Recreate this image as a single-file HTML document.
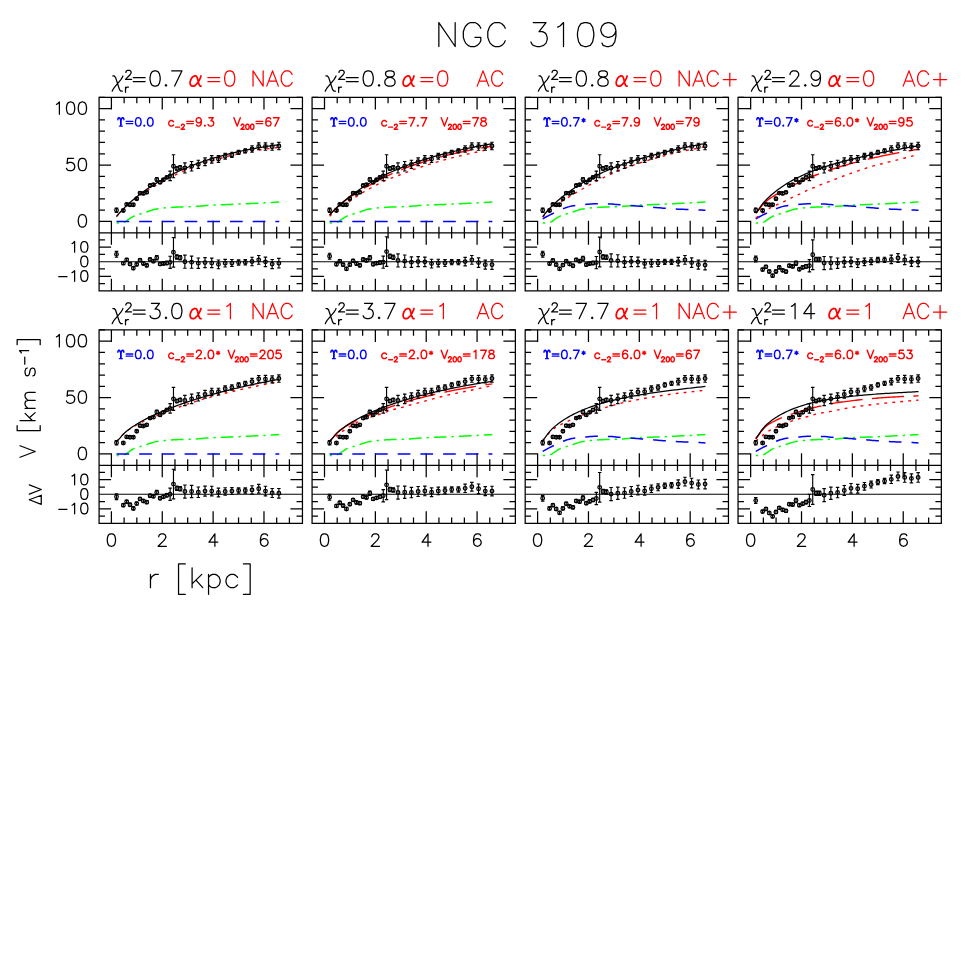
<!DOCTYPE html>
<html><head><meta charset="utf-8"><title>NGC 3109</title>
<style>
html,body{margin:0;padding:0;background:#fff}
body{width:969px;height:969px;overflow:hidden;font-family:"Liberation Sans",sans-serif}
svg{display:block}
path,circle{fill:none;stroke-linecap:butt;stroke-linejoin:round}
.ax{stroke:#000;stroke-width:1.25;stroke-linejoin:miter}
.zl{stroke:#000;stroke-width:1.1}
.tk{stroke:#000;stroke-width:1.25;stroke-linecap:round}
.tr{stroke:#f00;stroke-width:1.25;stroke-linecap:round}
.ib{stroke:#00f;stroke-width:1.4;stroke-linecap:round}
.ir{stroke:#f00;stroke-width:1.4;stroke-linecap:round}
.mod{stroke:#000;stroke-width:1.25}
.h1{stroke:#f00;stroke-width:1.4;stroke-dasharray:34.3 9.5 32 9.5 32 9.5 32 9.5 32 9.5 32 9.5 32 9.5}
.h0{stroke:#f00;stroke-width:1.4;stroke-dasharray:2.8 5.2}
.star{stroke:#00f;stroke-width:1.5;stroke-dasharray:12.7 10}
.gas{stroke:#0f0;stroke-width:1.5;stroke-dasharray:12.7 5 2.3 5;stroke-dashoffset:17.6}
.eb{stroke:#000;stroke-width:1.15}
.pt circle{stroke:#000;stroke-width:1.25;fill:none}
</style></head>
<body>
<svg width="969" height="969" viewBox="0 0 969 969">
<rect x="0" y="0" width="969" height="969" fill="#fff" stroke="none"/>
<path class="ax" d="M99.08 97.40H302.45V290.80H99.08Z M99.08 232.90H302.45"/>
<path class="ax" d="M111.40 97.40v12.0 M111.40 220.65v24.0 M111.40 290.80v-12.0 M124.12 97.40v5.9 M124.12 226.75v11.8 M124.12 290.80v-5.9 M136.83 97.40v5.9 M136.83 226.75v11.8 M136.83 290.80v-5.9 M149.55 97.40v5.9 M149.55 226.75v11.8 M149.55 290.80v-5.9 M162.26 97.40v12.0 M162.26 220.65v24.0 M162.26 290.80v-12.0 M174.98 97.40v5.9 M174.98 226.75v11.8 M174.98 290.80v-5.9 M187.69 97.40v5.9 M187.69 226.75v11.8 M187.69 290.80v-5.9 M200.41 97.40v5.9 M200.41 226.75v11.8 M200.41 290.80v-5.9 M213.12 97.40v12.0 M213.12 220.65v24.0 M213.12 290.80v-12.0 M225.84 97.40v5.9 M225.84 226.75v11.8 M225.84 290.80v-5.9 M238.55 97.40v5.9 M238.55 226.75v11.8 M238.55 290.80v-5.9 M251.27 97.40v5.9 M251.27 226.75v11.8 M251.27 290.80v-5.9 M263.98 97.40v12.0 M263.98 220.65v24.0 M263.98 290.80v-12.0 M276.69 97.40v5.9 M276.69 226.75v11.8 M276.69 290.80v-5.9 M289.41 97.40v5.9 M289.41 226.75v11.8 M289.41 290.80v-5.9 M99.08 221.38h12.0 M302.45 221.38h-12.0 M99.08 210.11h5.9 M302.45 210.11h-5.9 M99.08 198.84h5.9 M302.45 198.84h-5.9 M99.08 187.57h5.9 M302.45 187.57h-5.9 M99.08 176.30h5.9 M302.45 176.30h-5.9 M99.08 165.02h12.0 M302.45 165.02h-12.0 M99.08 153.75h5.9 M302.45 153.75h-5.9 M99.08 142.48h5.9 M302.45 142.48h-5.9 M99.08 131.21h5.9 M302.45 131.21h-5.9 M99.08 119.94h5.9 M302.45 119.94h-5.9 M99.08 108.67h12.0 M302.45 108.67h-12.0 M99.08 97.40h5.9 M302.45 97.40h-5.9 M99.08 283.53h5.9 M302.45 283.53h-5.9 M99.08 276.26h12.0 M302.45 276.26h-12.0 M99.08 268.99h5.9 M302.45 268.99h-5.9 M99.08 254.46h5.9 M302.45 254.46h-5.9 M99.08 247.19h12.0 M302.45 247.19h-12.0 M99.08 239.92h5.9 M302.45 239.92h-5.9"/>
<path class="zl" d="M99.08 261.73H302.45"/>
<path class="gas" d="M116.49 223.07 L118.31 223.02 L120.14 222.87 L121.97 222.65 L123.80 222.34 L125.63 221.58 L127.46 220.20 L129.29 218.96 L131.12 217.70 L132.94 216.57 L134.77 215.74 L136.60 215.13 L138.43 214.58 L140.26 214.01 L142.09 213.44 L143.92 212.88 L145.74 212.31 L147.57 211.70 L149.40 211.05 L151.23 210.41 L153.06 209.83 L154.89 209.33 L156.72 208.97 L158.55 208.70 L160.37 208.46 L162.20 208.24 L164.03 208.05 L165.86 207.87 L167.69 207.71 L169.52 207.57 L171.35 207.44 L173.17 207.32 L175.00 207.22 L176.83 207.12 L178.66 207.04 L180.49 206.97 L182.32 206.90 L184.15 206.84 L185.98 206.78 L187.80 206.71 L189.63 206.65 L191.46 206.58 L193.29 206.51 L195.12 206.42 L196.95 206.33 L198.78 206.21 L200.61 206.06 L202.43 205.88 L204.26 205.69 L206.09 205.52 L207.92 205.38 L209.75 205.28 L211.58 205.18 L213.41 205.09 L215.23 205.01 L217.06 204.93 L218.89 204.86 L220.72 204.79 L222.55 204.73 L224.38 204.66 L226.21 204.60 L228.04 204.54 L229.86 204.48 L231.69 204.41 L233.52 204.34 L235.35 204.27 L237.18 204.20 L239.01 204.11 L240.84 204.03 L242.66 203.94 L244.49 203.86 L246.32 203.77 L248.15 203.68 L249.98 203.59 L251.81 203.50 L253.64 203.41 L255.47 203.31 L257.29 203.22 L259.12 203.12 L260.95 203.03 L262.78 202.93 L264.61 202.83 L266.44 202.73 L268.27 202.63 L270.09 202.52 L271.92 202.42 L273.75 202.31 L275.58 202.21 L277.41 202.10 L279.24 201.99"/>
<path class="star" d="M116.49 221.38 L118.31 221.38 L120.14 221.38 L121.97 221.38 L123.80 221.38 L125.63 221.38 L127.46 221.38 L129.29 221.38 L131.12 221.38 L132.94 221.38 L134.77 221.38 L136.60 221.38 L138.43 221.38 L140.26 221.38 L142.09 221.38 L143.92 221.38 L145.74 221.38 L147.57 221.38 L149.40 221.38 L151.23 221.38 L153.06 221.38 L154.89 221.38 L156.72 221.38 L158.55 221.38 L160.37 221.38 L162.20 221.38 L164.03 221.38 L165.86 221.38 L167.69 221.38 L169.52 221.38 L171.35 221.38 L173.17 221.38 L175.00 221.38 L176.83 221.38 L178.66 221.38 L180.49 221.38 L182.32 221.38 L184.15 221.38 L185.98 221.38 L187.80 221.38 L189.63 221.38 L191.46 221.38 L193.29 221.38 L195.12 221.38 L196.95 221.38 L198.78 221.38 L200.61 221.38 L202.43 221.38 L204.26 221.38 L206.09 221.38 L207.92 221.38 L209.75 221.38 L211.58 221.38 L213.41 221.38 L215.23 221.38 L217.06 221.38 L218.89 221.38 L220.72 221.38 L222.55 221.38 L224.38 221.38 L226.21 221.38 L228.04 221.38 L229.86 221.38 L231.69 221.38 L233.52 221.38 L235.35 221.38 L237.18 221.38 L239.01 221.38 L240.84 221.38 L242.66 221.38 L244.49 221.38 L246.32 221.38 L248.15 221.38 L249.98 221.38 L251.81 221.38 L253.64 221.38 L255.47 221.38 L257.29 221.38 L259.12 221.38 L260.95 221.38 L262.78 221.38 L264.61 221.38 L266.44 221.38 L268.27 221.38 L270.09 221.38 L271.92 221.38 L273.75 221.38 L275.58 221.38 L277.41 221.38 L279.24 221.38"/>
<path class="h0" d="M116.49 216.36 L118.31 214.19 L120.14 212.14 L121.97 210.19 L123.80 208.33 L125.63 206.54 L127.46 204.84 L129.29 203.28 L131.12 201.82 L132.94 200.45 L134.77 199.07 L136.60 197.71 L138.43 196.36 L140.26 195.06 L142.09 193.80 L143.92 192.58 L145.74 191.39 L147.57 190.26 L149.40 189.16 L151.23 188.10 L153.06 187.06 L154.89 186.01 L156.72 184.94 L158.55 183.88 L160.37 182.83 L162.20 181.80 L164.03 180.79 L165.86 179.79 L167.69 178.82 L169.52 177.86 L171.35 176.92 L173.17 176.00 L175.00 175.10 L176.83 174.22 L178.66 173.35 L180.49 172.51 L182.32 171.68 L184.15 170.87 L185.98 170.08 L187.80 169.31 L189.63 168.55 L191.46 167.81 L193.29 167.10 L195.12 166.40 L196.95 165.72 L198.78 165.06 L200.61 164.43 L202.43 163.81 L204.26 163.22 L206.09 162.63 L207.92 162.05 L209.75 161.47 L211.58 160.90 L213.41 160.35 L215.23 159.80 L217.06 159.27 L218.89 158.75 L220.72 158.23 L222.55 157.73 L224.38 157.24 L226.21 156.76 L228.04 156.29 L229.86 155.84 L231.69 155.39 L233.52 154.96 L235.35 154.53 L237.18 154.12 L239.01 153.72 L240.84 153.33 L242.66 152.95 L244.49 152.58 L246.32 152.22 L248.15 151.87 L249.98 151.53 L251.81 151.20 L253.64 150.88 L255.47 150.56 L257.29 150.26 L259.12 149.96 L260.95 149.68 L262.78 149.40 L264.61 149.13 L266.44 148.87 L268.27 148.62 L270.09 148.38 L271.92 148.14 L273.75 147.92 L275.58 147.70 L277.41 147.49 L279.24 147.29"/>
<path class="mod" d="M116.49 216.65 L118.31 214.38 L120.14 212.26 L121.97 210.26 L123.80 208.36 L125.63 206.54 L127.46 204.80 L129.29 203.11 L131.12 201.48 L132.94 199.91 L134.77 198.38 L136.60 196.89 L138.43 195.45 L140.26 194.05 L142.09 192.68 L143.92 191.35 L145.74 190.05 L147.57 188.78 L149.40 187.55 L151.23 186.34 L153.06 185.17 L154.89 184.02 L156.72 182.89 L158.55 181.80 L160.37 180.72 L162.20 179.68 L164.03 178.65 L165.86 177.65 L167.69 176.68 L169.52 175.72 L171.35 174.79 L173.17 173.87 L175.00 172.98 L176.83 172.11 L178.66 171.26 L180.49 170.43 L182.32 169.61 L184.15 168.82 L185.98 168.04 L187.80 167.28 L189.63 166.54 L191.46 165.81 L193.29 165.10 L195.12 164.40 L196.95 163.72 L198.78 163.05 L200.61 162.40 L202.43 161.76 L204.26 161.14 L206.09 160.53 L207.92 159.93 L209.75 159.34 L211.58 158.77 L213.41 158.21 L215.23 157.66 L217.06 157.13 L218.89 156.60 L220.72 156.09 L222.55 155.59 L224.38 155.10 L226.21 154.62 L228.04 154.15 L229.86 153.69 L231.69 153.24 L233.52 152.81 L235.35 152.38 L237.18 151.96 L239.01 151.55 L240.84 151.15 L242.66 150.76 L244.49 150.38 L246.32 150.01 L248.15 149.65 L249.98 149.30 L251.81 148.96 L253.64 148.62 L255.47 148.30 L257.29 147.98 L259.12 147.67 L260.95 147.37 L262.78 147.07 L264.61 146.79 L266.44 146.51 L268.27 146.24 L270.09 145.98 L271.92 145.73 L273.75 145.48 L275.58 145.24 L277.41 145.01 L279.24 144.79"/>
<path class="eb" d="M116.49 207.97V212.48M114.74 207.97h3.5M114.74 212.48h3.5 M116.49 251.40V257.22M114.74 257.22h3.5M114.74 251.40h3.5 M123.35 209.32V211.57M121.60 209.32h3.5M121.60 211.57h3.5 M123.35 261.73V264.63M121.60 264.63h3.5M121.60 261.73h3.5 M126.66 203.23V205.49M124.91 203.23h3.5M124.91 205.49h3.5 M126.66 258.38V261.29M124.91 261.29h3.5M124.91 258.38h3.5 M130.00 203.57V205.83M128.25 203.57h3.5M128.25 205.83h3.5 M130.00 262.60V265.50M128.25 265.50h3.5M128.25 262.60h3.5 M133.35 203.57V205.83M131.60 203.57h3.5M131.60 205.83h3.5 M133.35 266.67V269.58M131.60 269.58h3.5M131.60 266.67h3.5 M136.69 197.60V199.85M134.94 197.60h3.5M134.94 199.85h3.5 M136.69 262.89V265.80M134.94 265.80h3.5M134.94 262.89h3.5 M140.03 191.96V194.22M138.28 191.96h3.5M138.28 194.22h3.5 M140.03 258.67V261.58M138.28 261.58h3.5M138.28 258.67h3.5 M143.38 192.30V194.55M141.63 192.30h3.5M141.63 194.55h3.5 M143.38 262.02V264.92M141.63 264.92h3.5M141.63 262.02h3.5 M146.72 191.17V193.43M144.97 191.17h3.5M144.97 193.43h3.5 M146.72 263.91V266.81M144.97 266.81h3.5M144.97 263.91h3.5 M150.07 184.41V186.66M148.32 184.41h3.5M148.32 186.66h3.5 M150.07 258.09V261.00M148.32 261.00h3.5M148.32 258.09h3.5 M153.41 183.51V185.76M151.66 183.51h3.5M151.66 185.76h3.5 M153.41 259.69V262.60M151.66 262.60h3.5M151.66 259.69h3.5 M156.75 177.76V181.14M155.00 177.76h3.5M155.00 181.14h3.5 M156.75 255.47V259.84M155.00 259.84h3.5M155.00 255.47h3.5 M160.10 181.25V183.51M158.35 181.25h3.5M158.35 183.51h3.5 M160.10 262.60V265.50M158.35 265.50h3.5M158.35 262.60h3.5 M163.44 178.66V180.92M161.69 178.66h3.5M161.69 180.92h3.5 M163.44 262.02V264.92M161.69 264.92h3.5M161.69 262.02h3.5 M166.79 175.96V178.66M165.04 175.96h3.5M165.04 178.66h3.5 M166.79 261.29V264.78M165.04 264.78h3.5M165.04 261.29h3.5 M170.13 171.11V180.58M168.38 171.11h3.5M168.38 180.58h3.5 M170.13 256.20V268.41M168.38 268.41h3.5M168.38 256.20h3.5 M173.47 154.77V177.76M171.72 154.77h3.5M171.72 177.76h3.5 M173.47 237.45V267.10M171.72 267.10h3.5M171.72 237.45h3.5 M176.82 166.83V170.21M175.07 166.83h3.5M175.07 170.21h3.5 M176.82 254.75V259.11M175.07 259.11h3.5M175.07 254.75h3.5 M180.16 165.70V169.08M178.41 165.70h3.5M178.41 169.08h3.5 M180.16 255.47V259.84M178.41 259.84h3.5M178.41 255.47h3.5 M184.89 162.88V173.03M183.14 162.88h3.5M183.14 173.03h3.5 M184.89 255.18V268.27M183.14 268.27h3.5M183.14 255.18h3.5 M191.61 161.53V171.00M189.86 161.53h3.5M189.86 171.00h3.5 M191.61 256.06V268.27M189.86 268.27h3.5M189.86 256.06h3.5 M198.32 160.29V168.41M196.57 160.29h3.5M196.57 168.41h3.5 M198.32 257.95V268.41M196.57 268.41h3.5M196.57 257.95h3.5 M205.03 157.87V165.64M203.28 157.87h3.5M203.28 165.64h3.5 M205.03 257.58V267.61M203.28 267.61h3.5M203.28 257.58h3.5 M211.75 155.67V163.11M210.00 155.67h3.5M210.00 163.11h3.5 M211.75 258.09V267.69M210.00 267.69h3.5M210.00 258.09h3.5 M218.46 155.67V162.43M216.71 155.67h3.5M216.71 162.43h3.5 M218.46 259.98V268.70M216.71 268.70h3.5M216.71 259.98h3.5 M225.17 153.30V159.16M223.42 153.30h3.5M223.42 159.16h3.5 M225.17 259.40V266.96M223.42 266.96h3.5M223.42 259.40h3.5 M231.89 152.23V157.53M230.14 152.23h3.5M230.14 157.53h3.5 M231.89 259.47V266.30M230.14 266.30h3.5M230.14 259.47h3.5 M238.60 150.37V154.43M236.85 150.37h3.5M236.85 154.43h3.5 M238.60 259.84V265.07M236.85 265.07h3.5M236.85 259.84h3.5 M245.31 148.79V152.85M243.56 148.79h3.5M243.56 152.85h3.5 M245.31 259.69V264.92M243.56 264.92h3.5M243.56 259.69h3.5 M252.03 145.75V152.29M250.28 145.75h3.5M250.28 152.29h3.5 M252.03 257.29V265.72M250.28 265.72h3.5M250.28 257.29h3.5 M258.74 142.93V149.70M256.99 142.93h3.5M256.99 149.70h3.5 M258.74 255.47V264.20M256.99 264.20h3.5M256.99 255.47h3.5 M265.45 142.82V150.26M263.70 142.82h3.5M263.70 150.26h3.5 M265.45 257.07V266.67M263.70 266.67h3.5M263.70 257.07h3.5 M272.17 143.27V150.26M270.42 143.27h3.5M270.42 150.26h3.5 M272.17 259.54V268.56M270.42 268.56h3.5M270.42 259.54h3.5 M278.88 142.26V149.70M277.13 142.26h3.5M277.13 149.70h3.5 M278.88 258.38V267.98M277.13 267.98h3.5M277.13 258.38h3.5"/>
<g class="pt"><circle cx="116.49" cy="210.22" r="1.8"/><circle cx="116.49" cy="254.31" r="1.8"/><circle cx="123.35" cy="210.45" r="1.8"/><circle cx="123.35" cy="263.18" r="1.8"/><circle cx="126.66" cy="204.36" r="1.8"/><circle cx="126.66" cy="259.84" r="1.8"/><circle cx="130.00" cy="204.70" r="1.8"/><circle cx="130.00" cy="264.05" r="1.8"/><circle cx="133.35" cy="204.70" r="1.8"/><circle cx="133.35" cy="268.12" r="1.8"/><circle cx="136.69" cy="198.72" r="1.8"/><circle cx="136.69" cy="264.34" r="1.8"/><circle cx="140.03" cy="193.09" r="1.8"/><circle cx="140.03" cy="260.13" r="1.8"/><circle cx="143.38" cy="193.43" r="1.8"/><circle cx="143.38" cy="263.47" r="1.8"/><circle cx="146.72" cy="192.30" r="1.8"/><circle cx="146.72" cy="265.36" r="1.8"/><circle cx="150.07" cy="185.54" r="1.8"/><circle cx="150.07" cy="259.54" r="1.8"/><circle cx="153.41" cy="184.64" r="1.8"/><circle cx="153.41" cy="261.14" r="1.8"/><circle cx="156.75" cy="179.45" r="1.8"/><circle cx="156.75" cy="257.65" r="1.8"/><circle cx="160.10" cy="182.38" r="1.8"/><circle cx="160.10" cy="264.05" r="1.8"/><circle cx="163.44" cy="179.79" r="1.8"/><circle cx="163.44" cy="263.47" r="1.8"/><circle cx="166.79" cy="177.31" r="1.8"/><circle cx="166.79" cy="263.03" r="1.8"/><circle cx="170.13" cy="175.84" r="1.8"/><circle cx="170.13" cy="262.31" r="1.8"/><circle cx="173.47" cy="166.26" r="1.8"/><circle cx="173.47" cy="252.28" r="1.8"/><circle cx="176.82" cy="168.52" r="1.8"/><circle cx="176.82" cy="256.93" r="1.8"/><circle cx="180.16" cy="167.39" r="1.8"/><circle cx="180.16" cy="257.65" r="1.8"/><circle cx="184.89" cy="167.96" r="1.8"/><circle cx="184.89" cy="261.73" r="1.8"/><circle cx="191.61" cy="166.26" r="1.8"/><circle cx="191.61" cy="262.16" r="1.8"/><circle cx="198.32" cy="164.35" r="1.8"/><circle cx="198.32" cy="263.18" r="1.8"/><circle cx="205.03" cy="161.76" r="1.8"/><circle cx="205.03" cy="262.60" r="1.8"/><circle cx="211.75" cy="159.39" r="1.8"/><circle cx="211.75" cy="262.89" r="1.8"/><circle cx="218.46" cy="159.05" r="1.8"/><circle cx="218.46" cy="264.34" r="1.8"/><circle cx="225.17" cy="156.23" r="1.8"/><circle cx="225.17" cy="263.18" r="1.8"/><circle cx="231.89" cy="154.88" r="1.8"/><circle cx="231.89" cy="262.89" r="1.8"/><circle cx="238.60" cy="152.40" r="1.8"/><circle cx="238.60" cy="262.45" r="1.8"/><circle cx="245.31" cy="150.82" r="1.8"/><circle cx="245.31" cy="262.31" r="1.8"/><circle cx="252.03" cy="149.02" r="1.8"/><circle cx="252.03" cy="261.51" r="1.8"/><circle cx="258.74" cy="146.32" r="1.8"/><circle cx="258.74" cy="259.84" r="1.8"/><circle cx="265.45" cy="146.54" r="1.8"/><circle cx="265.45" cy="261.87" r="1.8"/><circle cx="272.17" cy="146.77" r="1.8"/><circle cx="272.17" cy="264.05" r="1.8"/><circle cx="278.88" cy="145.98" r="1.8"/><circle cx="278.88" cy="263.18" r="1.8"/></g>
<path class="tk" d="M112.84 75.96 L114.19 75.96 L115.53 77.41 L119.57 89.72 L120.92 91.17 L122.27 91.17 M122.94 75.96 L122.27 77.41 L120.92 79.58 L114.19 87.55 L112.84 89.72 L112.17 91.17 M125.90 72.45 L125.90 72.02 L126.33 71.15 L126.76 70.71 L127.63 70.28 L129.37 70.28 L130.24 70.71 L130.67 71.15 L131.11 72.02 L131.11 72.88 L130.67 73.75 L129.81 75.06 L125.46 79.40 L131.54 79.40 M125.51 87.03 L125.51 92.30 M125.51 89.29 L125.89 88.16 L126.64 87.41 L127.40 87.03 L128.53 87.03 M133.25 77.56 L145.12 77.56 M133.25 81.61 L145.12 81.61 M154.39 70.90 L152.22 71.62 L150.77 73.79 L150.04 77.41 L150.04 79.58 L150.77 83.20 L152.22 85.38 L154.39 86.10 L155.84 86.10 L158.01 85.38 L159.46 83.20 L160.18 79.58 L160.18 77.41 L159.46 73.79 L158.01 71.62 L155.84 70.90 L154.39 70.90 M165.97 84.65 L165.25 85.38 L165.97 86.10 L166.70 85.38 L165.97 84.65 M181.90 70.90 L174.66 86.10 M171.76 70.90 L181.90 70.90"/>
<path class="tr" d="M207.84 77.56 L219.71 77.56 M207.84 81.61 L219.71 81.61 M228.98 70.90 L226.80 71.62 L225.36 73.79 L224.63 77.41 L224.63 79.58 L225.36 83.20 L226.80 85.38 L228.98 86.10 L230.42 86.10 L232.60 85.38 L234.04 83.20 L234.77 79.58 L234.77 77.41 L234.04 73.79 L232.60 71.62 L230.42 70.90 L228.98 70.90 M253.03 70.90 L253.03 86.10 M253.03 70.90 L263.16 86.10 M263.16 70.90 L263.16 86.10 M272.57 70.90 L266.78 86.10 M272.57 70.90 L278.37 86.10 M268.95 81.03 L276.19 81.03 M292.12 74.52 L291.40 73.07 L289.95 71.62 L288.50 70.90 L285.61 70.90 L284.16 71.62 L282.71 73.07 L281.99 74.52 L281.26 76.69 L281.26 80.31 L281.99 82.48 L282.71 83.93 L284.16 85.38 L285.61 86.10 L288.50 86.10 L289.95 85.38 L291.40 83.93 L292.12 82.48"/><path class="tr" style="stroke-width:1.75" d="M194.50 75.96 L193.05 76.69 L191.60 78.14 L190.88 79.58 L190.15 81.76 L190.15 83.93 L190.88 85.38 L192.32 86.10 L193.77 86.10 L195.22 85.38 L197.39 83.20 L198.84 81.03 L200.29 78.14 L201.01 75.96 M194.50 75.96 L195.94 75.96 L196.67 76.69 L197.39 78.14 L198.84 83.93 L199.56 85.38 L200.29 86.10 L201.01 86.10"/>
<path class="ib" d="M117.88 119.70 L117.88 118.90 L118.28 118.10 L118.68 117.70 L119.48 117.70 L119.88 118.10 L120.28 118.90 L120.68 120.50 L120.68 126.10 M117.88 118.90 L118.68 118.10 L119.48 118.10 L120.28 118.90 M123.88 119.70 L123.88 118.90 L123.48 118.10 L123.08 117.70 L122.28 117.70 L121.88 118.10 L121.48 118.90 L121.08 120.50 L121.08 126.10 M123.88 118.90 L123.08 118.10 L122.28 118.10 L121.48 118.90 M119.48 126.10 L122.28 126.10 M126.20 121.38 L132.76 121.38 M126.20 123.62 L132.76 123.62 M137.88 117.70 L136.68 118.10 L135.88 119.30 L135.48 121.30 L135.48 122.50 L135.88 124.50 L136.68 125.70 L137.88 126.10 L138.68 126.10 L139.88 125.70 L140.68 124.50 L141.08 122.50 L141.08 121.30 L140.68 119.30 L139.88 118.10 L138.68 117.70 L137.88 117.70 M144.28 125.30 L143.88 125.70 L144.28 126.10 L144.68 125.70 L144.28 125.30 M149.88 117.70 L148.68 118.10 L147.88 119.30 L147.48 121.30 L147.48 122.50 L147.88 124.50 L148.68 125.70 L149.88 126.10 L150.68 126.10 L151.88 125.70 L152.68 124.50 L153.08 122.50 L153.08 121.30 L152.68 119.30 L151.88 118.10 L150.68 117.70 L149.88 117.70"/>
<path class="ir" d="M173.53 121.70 L172.73 120.90 L171.93 120.50 L170.73 120.50 L169.93 120.90 L169.13 121.70 L168.73 122.90 L168.73 123.70 L169.13 124.90 L169.93 125.70 L170.73 126.10 L171.93 126.10 L172.73 125.70 L173.53 124.90 M175.67 127.14 L179.55 127.14 M181.45 125.46 L181.45 125.22 L181.69 124.74 L181.93 124.50 L182.41 124.26 L183.37 124.26 L183.85 124.50 L184.09 124.74 L184.33 125.22 L184.33 125.70 L184.09 126.18 L183.61 126.90 L181.21 129.30 L184.57 129.30 M186.81 121.38 L193.37 121.38 M186.81 123.62 L193.37 123.62 M201.29 120.50 L200.89 121.70 L200.09 122.50 L198.89 122.90 L198.49 122.90 L197.29 122.50 L196.49 121.70 L196.09 120.50 L196.09 120.10 L196.49 118.90 L197.29 118.10 L198.49 117.70 L198.89 117.70 L200.09 118.10 L200.89 118.90 L201.29 120.50 L201.29 122.50 L200.89 124.50 L200.09 125.70 L198.89 126.10 L198.09 126.10 L196.89 125.70 L196.49 124.90 M204.89 125.30 L204.49 125.70 L204.89 126.10 L205.29 125.70 L204.89 125.30 M208.89 117.70 L213.29 117.70 L210.89 120.90 L212.09 120.90 L212.89 121.30 L213.29 121.70 L213.69 122.90 L213.69 123.70 L213.29 124.90 L212.49 125.70 L211.29 126.10 L210.09 126.10 L208.89 125.70 L208.49 125.30 L208.09 124.50 M233.93 117.70 L237.13 126.10 M240.33 117.70 L237.13 126.10 M241.19 125.46 L241.19 125.22 L241.43 124.74 L241.67 124.50 L242.15 124.26 L243.11 124.26 L243.59 124.50 L243.83 124.74 L244.07 125.22 L244.07 125.70 L243.83 126.18 L243.35 126.90 L240.95 129.30 L244.31 129.30 M247.19 124.26 L246.47 124.50 L245.99 125.22 L245.75 126.42 L245.75 127.14 L245.99 128.34 L246.47 129.06 L247.19 129.30 L247.67 129.30 L248.39 129.06 L248.87 128.34 L249.11 127.14 L249.11 126.42 L248.87 125.22 L248.39 124.50 L247.67 124.26 L247.19 124.26 M251.99 124.26 L251.27 124.50 L250.79 125.22 L250.55 126.42 L250.55 127.14 L250.79 128.34 L251.27 129.06 L251.99 129.30 L252.47 129.30 L253.19 129.06 L253.67 128.34 L253.91 127.14 L253.91 126.42 L253.67 125.22 L253.19 124.50 L252.47 124.26 L251.99 124.26 M256.15 121.38 L262.71 121.38 M256.15 123.62 L262.71 123.62 M270.63 118.90 L270.23 118.10 L269.03 117.70 L268.23 117.70 L267.03 118.10 L266.23 119.30 L265.83 121.30 L265.83 123.30 L266.23 124.90 L267.03 125.70 L268.23 126.10 L268.63 126.10 L269.83 125.70 L270.63 124.90 L271.03 123.70 L271.03 123.30 L270.63 122.10 L269.83 121.30 L268.63 120.90 L268.23 120.90 L267.03 121.30 L266.23 122.10 L265.83 123.30 M279.03 117.70 L275.03 126.10 M273.43 117.70 L279.03 117.70"/>
<path class="ax" d="M312.08 97.40H515.38V290.80H312.08Z M312.08 232.90H515.38"/>
<path class="ax" d="M324.50 97.40v12.0 M324.50 220.65v24.0 M324.50 290.80v-12.0 M337.21 97.40v5.9 M337.21 226.75v11.8 M337.21 290.80v-5.9 M349.93 97.40v5.9 M349.93 226.75v11.8 M349.93 290.80v-5.9 M362.64 97.40v5.9 M362.64 226.75v11.8 M362.64 290.80v-5.9 M375.36 97.40v12.0 M375.36 220.65v24.0 M375.36 290.80v-12.0 M388.07 97.40v5.9 M388.07 226.75v11.8 M388.07 290.80v-5.9 M400.79 97.40v5.9 M400.79 226.75v11.8 M400.79 290.80v-5.9 M413.50 97.40v5.9 M413.50 226.75v11.8 M413.50 290.80v-5.9 M426.22 97.40v12.0 M426.22 220.65v24.0 M426.22 290.80v-12.0 M438.94 97.40v5.9 M438.94 226.75v11.8 M438.94 290.80v-5.9 M451.65 97.40v5.9 M451.65 226.75v11.8 M451.65 290.80v-5.9 M464.37 97.40v5.9 M464.37 226.75v11.8 M464.37 290.80v-5.9 M477.08 97.40v12.0 M477.08 220.65v24.0 M477.08 290.80v-12.0 M489.79 97.40v5.9 M489.79 226.75v11.8 M489.79 290.80v-5.9 M502.51 97.40v5.9 M502.51 226.75v11.8 M502.51 290.80v-5.9 M312.08 221.38h12.0 M515.38 221.38h-12.0 M312.08 210.11h5.9 M515.38 210.11h-5.9 M312.08 198.84h5.9 M515.38 198.84h-5.9 M312.08 187.57h5.9 M515.38 187.57h-5.9 M312.08 176.30h5.9 M515.38 176.30h-5.9 M312.08 165.02h12.0 M515.38 165.02h-12.0 M312.08 153.75h5.9 M515.38 153.75h-5.9 M312.08 142.48h5.9 M515.38 142.48h-5.9 M312.08 131.21h5.9 M515.38 131.21h-5.9 M312.08 119.94h5.9 M515.38 119.94h-5.9 M312.08 108.67h12.0 M515.38 108.67h-12.0 M312.08 97.40h5.9 M515.38 97.40h-5.9 M312.08 283.53h5.9 M515.38 283.53h-5.9 M312.08 276.26h12.0 M515.38 276.26h-12.0 M312.08 268.99h5.9 M515.38 268.99h-5.9 M312.08 254.46h5.9 M515.38 254.46h-5.9 M312.08 247.19h12.0 M515.38 247.19h-12.0 M312.08 239.92h5.9 M515.38 239.92h-5.9"/>
<path class="zl" d="M312.08 261.73H515.38"/>
<path class="gas" d="M329.59 223.07 L331.41 223.02 L333.24 222.87 L335.07 222.65 L336.90 222.34 L338.73 221.58 L340.56 220.20 L342.39 218.96 L344.22 217.70 L346.04 216.57 L347.87 215.74 L349.70 215.13 L351.53 214.58 L353.36 214.01 L355.19 213.44 L357.02 212.88 L358.84 212.31 L360.67 211.70 L362.50 211.05 L364.33 210.41 L366.16 209.83 L367.99 209.33 L369.82 208.97 L371.65 208.70 L373.47 208.46 L375.30 208.24 L377.13 208.05 L378.96 207.87 L380.79 207.71 L382.62 207.57 L384.45 207.44 L386.27 207.32 L388.10 207.22 L389.93 207.12 L391.76 207.04 L393.59 206.97 L395.42 206.90 L397.25 206.84 L399.08 206.78 L400.90 206.71 L402.73 206.65 L404.56 206.58 L406.39 206.51 L408.22 206.42 L410.05 206.33 L411.88 206.21 L413.71 206.06 L415.53 205.88 L417.36 205.69 L419.19 205.52 L421.02 205.38 L422.85 205.28 L424.68 205.18 L426.51 205.09 L428.33 205.01 L430.16 204.93 L431.99 204.86 L433.82 204.79 L435.65 204.73 L437.48 204.66 L439.31 204.60 L441.14 204.54 L442.96 204.48 L444.79 204.41 L446.62 204.34 L448.45 204.27 L450.28 204.20 L452.11 204.11 L453.94 204.03 L455.76 203.94 L457.59 203.86 L459.42 203.77 L461.25 203.68 L463.08 203.59 L464.91 203.50 L466.74 203.41 L468.57 203.31 L470.39 203.22 L472.22 203.12 L474.05 203.03 L475.88 202.93 L477.71 202.83 L479.54 202.73 L481.37 202.63 L483.19 202.52 L485.02 202.42 L486.85 202.31 L488.68 202.21 L490.51 202.10 L492.34 201.99"/>
<path class="star" d="M329.59 221.38 L331.41 221.38 L333.24 221.38 L335.07 221.38 L336.90 221.38 L338.73 221.38 L340.56 221.38 L342.39 221.38 L344.22 221.38 L346.04 221.38 L347.87 221.38 L349.70 221.38 L351.53 221.38 L353.36 221.38 L355.19 221.38 L357.02 221.38 L358.84 221.38 L360.67 221.38 L362.50 221.38 L364.33 221.38 L366.16 221.38 L367.99 221.38 L369.82 221.38 L371.65 221.38 L373.47 221.38 L375.30 221.38 L377.13 221.38 L378.96 221.38 L380.79 221.38 L382.62 221.38 L384.45 221.38 L386.27 221.38 L388.10 221.38 L389.93 221.38 L391.76 221.38 L393.59 221.38 L395.42 221.38 L397.25 221.38 L399.08 221.38 L400.90 221.38 L402.73 221.38 L404.56 221.38 L406.39 221.38 L408.22 221.38 L410.05 221.38 L411.88 221.38 L413.71 221.38 L415.53 221.38 L417.36 221.38 L419.19 221.38 L421.02 221.38 L422.85 221.38 L424.68 221.38 L426.51 221.38 L428.33 221.38 L430.16 221.38 L431.99 221.38 L433.82 221.38 L435.65 221.38 L437.48 221.38 L439.31 221.38 L441.14 221.38 L442.96 221.38 L444.79 221.38 L446.62 221.38 L448.45 221.38 L450.28 221.38 L452.11 221.38 L453.94 221.38 L455.76 221.38 L457.59 221.38 L459.42 221.38 L461.25 221.38 L463.08 221.38 L464.91 221.38 L466.74 221.38 L468.57 221.38 L470.39 221.38 L472.22 221.38 L474.05 221.38 L475.88 221.38 L477.71 221.38 L479.54 221.38 L481.37 221.38 L483.19 221.38 L485.02 221.38 L486.85 221.38 L488.68 221.38 L490.51 221.38 L492.34 221.38"/>
<path class="h0" d="M329.59 216.19 L331.41 214.75 L333.24 213.33 L335.07 211.93 L336.90 210.54 L338.73 209.16 L340.56 207.81 L342.39 206.47 L344.22 205.16 L346.04 203.87 L347.87 202.60 L349.70 201.32 L351.53 200.04 L353.36 198.73 L355.19 197.41 L357.02 196.10 L358.84 194.86 L360.67 193.70 L362.50 192.60 L364.33 191.53 L366.16 190.50 L367.99 189.49 L369.82 188.50 L371.65 187.53 L373.47 186.56 L375.30 185.59 L377.13 184.62 L378.96 183.67 L380.79 182.73 L382.62 181.83 L384.45 180.96 L386.27 180.14 L388.10 179.37 L389.93 178.64 L391.76 177.95 L393.59 177.28 L395.42 176.61 L397.25 175.94 L399.08 175.24 L400.90 174.52 L402.73 173.79 L404.56 173.04 L406.39 172.30 L408.22 171.56 L410.05 170.83 L411.88 170.13 L413.71 169.46 L415.53 168.82 L417.36 168.20 L419.19 167.59 L421.02 167.00 L422.85 166.42 L424.68 165.84 L426.51 165.26 L428.33 164.67 L430.16 164.09 L431.99 163.51 L433.82 162.93 L435.65 162.36 L437.48 161.80 L439.31 161.26 L441.14 160.74 L442.96 160.23 L444.79 159.73 L446.62 159.24 L448.45 158.76 L450.28 158.28 L452.11 157.82 L453.94 157.36 L455.76 156.90 L457.59 156.46 L459.42 156.01 L461.25 155.57 L463.08 155.14 L464.91 154.72 L466.74 154.31 L468.57 153.90 L470.39 153.50 L472.22 153.10 L474.05 152.69 L475.88 152.27 L477.71 151.85 L479.54 151.42 L481.37 150.99 L483.19 150.55 L485.02 150.12 L486.85 149.69 L488.68 149.27 L490.51 148.86 L492.34 148.46"/>
<path class="h1" d="M329.59 214.86 L331.41 212.87 L333.24 210.98 L335.07 209.18 L336.90 207.44 L338.73 205.76 L340.56 204.16 L342.39 202.68 L344.22 201.31 L346.04 200.01 L347.87 198.69 L349.70 197.39 L351.53 196.09 L353.36 194.85 L355.19 193.64 L357.02 192.46 L358.84 191.32 L360.67 190.23 L362.50 189.18 L364.33 188.16 L366.16 187.14 L367.99 186.13 L369.82 185.10 L371.65 184.07 L373.47 183.05 L375.30 182.04 L377.13 181.06 L378.96 180.09 L380.79 179.14 L382.62 178.21 L384.45 177.29 L386.27 176.40 L388.10 175.52 L389.93 174.66 L391.76 173.82 L393.59 172.99 L395.42 172.19 L397.25 171.40 L399.08 170.62 L400.90 169.87 L402.73 169.13 L404.56 168.41 L406.39 167.71 L408.22 167.02 L410.05 166.35 L411.88 165.70 L413.71 165.08 L415.53 164.47 L417.36 163.88 L419.19 163.29 L421.02 162.71 L422.85 162.13 L424.68 161.56 L426.51 161.00 L428.33 160.45 L430.16 159.90 L431.99 159.37 L433.82 158.84 L435.65 158.32 L437.48 157.81 L439.31 157.31 L441.14 156.82 L442.96 156.33 L444.79 155.86 L446.62 155.39 L448.45 154.94 L450.28 154.49 L452.11 154.05 L453.94 153.62 L455.76 153.20 L457.59 152.78 L459.42 152.37 L461.25 151.97 L463.08 151.58 L464.91 151.19 L466.74 150.81 L468.57 150.44 L470.39 150.07 L472.22 149.71 L474.05 149.36 L475.88 149.01 L477.71 148.67 L479.54 148.33 L481.37 148.00 L483.19 147.67 L485.02 147.35 L486.85 147.04 L488.68 146.73 L490.51 146.43 L492.34 146.13"/>
<path class="mod" d="M329.59 215.08 L331.41 213.03 L333.24 211.09 L335.07 209.24 L336.90 207.47 L338.73 205.77 L340.56 204.12 L342.39 202.52 L344.22 200.97 L346.04 199.47 L347.87 198.01 L349.70 196.58 L351.53 195.20 L353.36 193.85 L355.19 192.53 L357.02 191.24 L358.84 189.98 L360.67 188.76 L362.50 187.56 L364.33 186.39 L366.16 185.25 L367.99 184.13 L369.82 183.04 L371.65 181.97 L373.47 180.93 L375.30 179.91 L377.13 178.91 L378.96 177.94 L380.79 176.98 L382.62 176.05 L384.45 175.14 L386.27 174.25 L388.10 173.38 L389.93 172.53 L391.76 171.70 L393.59 170.89 L395.42 170.10 L397.25 169.32 L399.08 168.57 L400.90 167.82 L402.73 167.10 L404.56 166.38 L406.39 165.68 L408.22 165.00 L410.05 164.33 L411.88 163.67 L413.71 163.03 L415.53 162.40 L417.36 161.78 L419.19 161.17 L421.02 160.57 L422.85 159.98 L424.68 159.41 L426.51 158.84 L428.33 158.28 L430.16 157.74 L431.99 157.20 L433.82 156.68 L435.65 156.16 L437.48 155.65 L439.31 155.15 L441.14 154.66 L442.96 154.17 L444.79 153.70 L446.62 153.23 L448.45 152.77 L450.28 152.32 L452.11 151.87 L453.94 151.43 L455.76 151.00 L457.59 150.58 L459.42 150.16 L461.25 149.75 L463.08 149.35 L464.91 148.95 L466.74 148.56 L468.57 148.17 L470.39 147.80 L472.22 147.42 L474.05 147.05 L475.88 146.69 L477.71 146.34 L479.54 145.99 L481.37 145.64 L483.19 145.30 L485.02 144.97 L486.85 144.64 L488.68 144.31 L490.51 143.99 L492.34 143.68"/>
<path class="eb" d="M329.59 207.97V212.48M327.84 207.97h3.5M327.84 212.48h3.5 M329.59 253.29V259.11M327.84 259.11h3.5M327.84 253.29h3.5 M336.45 209.32V211.57M334.70 209.32h3.5M334.70 211.57h3.5 M336.45 262.74V265.65M334.70 265.65h3.5M334.70 262.74h3.5 M339.76 203.23V205.49M338.01 203.23h3.5M338.01 205.49h3.5 M339.76 259.69V262.60M338.01 262.60h3.5M338.01 259.69h3.5 M343.10 203.57V205.83M341.35 203.57h3.5M341.35 205.83h3.5 M343.10 263.18V266.09M341.35 266.09h3.5M341.35 263.18h3.5 M346.45 203.57V205.83M344.70 203.57h3.5M344.70 205.83h3.5 M346.45 267.39V270.30M344.70 270.30h3.5M344.70 267.39h3.5 M349.79 197.60V199.85M348.04 197.60h3.5M348.04 199.85h3.5 M349.79 263.18V266.09M348.04 266.09h3.5M348.04 263.18h3.5 M353.13 191.96V194.22M351.38 191.96h3.5M351.38 194.22h3.5 M353.13 259.40V262.31M351.38 262.31h3.5M351.38 259.40h3.5 M356.48 192.30V194.55M354.73 192.30h3.5M354.73 194.55h3.5 M356.48 262.16V265.07M354.73 265.07h3.5M354.73 262.16h3.5 M359.82 191.17V193.43M358.07 191.17h3.5M358.07 193.43h3.5 M359.82 263.91V266.81M358.07 266.81h3.5M358.07 263.91h3.5 M363.17 184.41V186.66M361.42 184.41h3.5M361.42 186.66h3.5 M363.17 257.95V260.85M361.42 260.85h3.5M361.42 257.95h3.5 M366.51 183.51V185.76M364.76 183.51h3.5M364.76 185.76h3.5 M366.51 258.96V261.87M364.76 261.87h3.5M364.76 258.96h3.5 M369.85 177.76V181.14M368.10 177.76h3.5M368.10 181.14h3.5 M369.85 255.55V259.91M368.10 259.91h3.5M368.10 255.55h3.5 M373.20 181.25V183.51M371.45 181.25h3.5M371.45 183.51h3.5 M373.20 262.74V265.65M371.45 265.65h3.5M371.45 262.74h3.5 M376.54 178.66V180.92M374.79 178.66h3.5M374.79 180.92h3.5 M376.54 261.73V264.63M374.79 264.63h3.5M374.79 261.73h3.5 M379.89 175.96V178.66M378.14 175.96h3.5M378.14 178.66h3.5 M379.89 260.85V264.34M378.14 264.34h3.5M378.14 260.85h3.5 M383.23 171.11V180.58M381.48 171.11h3.5M381.48 180.58h3.5 M383.23 256.06V268.27M381.48 268.27h3.5M381.48 256.06h3.5 M386.57 154.77V177.76M384.82 154.77h3.5M384.82 177.76h3.5 M386.57 236.72V266.38M384.82 266.38h3.5M384.82 236.72h3.5 M389.92 166.83V170.21M388.17 166.83h3.5M388.17 170.21h3.5 M389.92 254.02V258.38M388.17 258.38h3.5M388.17 254.02h3.5 M393.26 165.70V169.08M391.51 165.70h3.5M391.51 169.08h3.5 M393.26 255.18V259.54M391.51 259.54h3.5M391.51 255.18h3.5 M397.99 162.88V173.03M396.24 162.88h3.5M396.24 173.03h3.5 M397.99 253.87V266.96M396.24 266.96h3.5M396.24 253.87h3.5 M404.71 161.53V171.00M402.96 161.53h3.5M402.96 171.00h3.5 M404.71 255.04V267.25M402.96 267.25h3.5M402.96 255.04h3.5 M411.42 160.29V168.41M409.67 160.29h3.5M409.67 168.41h3.5 M411.42 256.93V267.39M409.67 267.39h3.5M409.67 256.93h3.5 M418.13 157.87V165.64M416.38 157.87h3.5M416.38 165.64h3.5 M418.13 256.56V266.60M416.38 266.60h3.5M416.38 256.56h3.5 M424.85 155.67V163.11M423.10 155.67h3.5M423.10 163.11h3.5 M424.85 257.07V266.67M423.10 266.67h3.5M423.10 257.07h3.5 M431.56 155.67V162.43M429.81 155.67h3.5M429.81 162.43h3.5 M431.56 259.25V267.98M429.81 267.98h3.5M429.81 259.25h3.5 M438.27 153.30V159.16M436.52 153.30h3.5M436.52 159.16h3.5 M438.27 259.25V266.81M436.52 266.81h3.5M436.52 259.25h3.5 M444.99 152.23V157.53M443.24 152.23h3.5M443.24 157.53h3.5 M444.99 259.62V266.45M443.24 266.45h3.5M443.24 259.62h3.5 M451.70 150.37V154.43M449.95 150.37h3.5M449.95 154.43h3.5 M451.70 259.54V264.78M449.95 264.78h3.5M449.95 259.54h3.5 M458.41 148.79V152.85M456.66 148.79h3.5M456.66 152.85h3.5 M458.41 259.54V264.78M456.66 264.78h3.5M456.66 259.54h3.5 M465.13 145.75V152.29M463.38 145.75h3.5M463.38 152.29h3.5 M465.13 257.36V265.80M463.38 265.80h3.5M463.38 257.36h3.5 M471.84 142.93V149.70M470.09 142.93h3.5M470.09 149.70h3.5 M471.84 255.47V264.20M470.09 264.20h3.5M470.09 255.47h3.5 M478.55 142.82V150.26M476.80 142.82h3.5M476.80 150.26h3.5 M478.55 257.80V267.39M476.80 267.39h3.5M476.80 257.80h3.5 M485.27 143.27V150.26M483.52 143.27h3.5M483.52 150.26h3.5 M485.27 260.13V269.14M483.52 269.14h3.5M483.52 260.13h3.5 M491.98 142.26V149.70M490.23 142.26h3.5M490.23 149.70h3.5 M491.98 259.84V269.43M490.23 269.43h3.5M490.23 259.84h3.5"/>
<g class="pt"><circle cx="329.59" cy="210.22" r="1.8"/><circle cx="329.59" cy="256.20" r="1.8"/><circle cx="336.45" cy="210.45" r="1.8"/><circle cx="336.45" cy="264.20" r="1.8"/><circle cx="339.76" cy="204.36" r="1.8"/><circle cx="339.76" cy="261.14" r="1.8"/><circle cx="343.10" cy="204.70" r="1.8"/><circle cx="343.10" cy="264.63" r="1.8"/><circle cx="346.45" cy="204.70" r="1.8"/><circle cx="346.45" cy="268.85" r="1.8"/><circle cx="349.79" cy="198.72" r="1.8"/><circle cx="349.79" cy="264.63" r="1.8"/><circle cx="353.13" cy="193.09" r="1.8"/><circle cx="353.13" cy="260.85" r="1.8"/><circle cx="356.48" cy="193.43" r="1.8"/><circle cx="356.48" cy="263.61" r="1.8"/><circle cx="359.82" cy="192.30" r="1.8"/><circle cx="359.82" cy="265.36" r="1.8"/><circle cx="363.17" cy="185.54" r="1.8"/><circle cx="363.17" cy="259.40" r="1.8"/><circle cx="366.51" cy="184.64" r="1.8"/><circle cx="366.51" cy="260.42" r="1.8"/><circle cx="369.85" cy="179.45" r="1.8"/><circle cx="369.85" cy="257.73" r="1.8"/><circle cx="373.20" cy="182.38" r="1.8"/><circle cx="373.20" cy="264.20" r="1.8"/><circle cx="376.54" cy="179.79" r="1.8"/><circle cx="376.54" cy="263.18" r="1.8"/><circle cx="379.89" cy="177.31" r="1.8"/><circle cx="379.89" cy="262.60" r="1.8"/><circle cx="383.23" cy="175.84" r="1.8"/><circle cx="383.23" cy="262.16" r="1.8"/><circle cx="386.57" cy="166.26" r="1.8"/><circle cx="386.57" cy="251.55" r="1.8"/><circle cx="389.92" cy="168.52" r="1.8"/><circle cx="389.92" cy="256.20" r="1.8"/><circle cx="393.26" cy="167.39" r="1.8"/><circle cx="393.26" cy="257.36" r="1.8"/><circle cx="397.99" cy="167.96" r="1.8"/><circle cx="397.99" cy="260.42" r="1.8"/><circle cx="404.71" cy="166.26" r="1.8"/><circle cx="404.71" cy="261.14" r="1.8"/><circle cx="411.42" cy="164.35" r="1.8"/><circle cx="411.42" cy="262.16" r="1.8"/><circle cx="418.13" cy="161.76" r="1.8"/><circle cx="418.13" cy="261.58" r="1.8"/><circle cx="424.85" cy="159.39" r="1.8"/><circle cx="424.85" cy="261.87" r="1.8"/><circle cx="431.56" cy="159.05" r="1.8"/><circle cx="431.56" cy="263.61" r="1.8"/><circle cx="438.27" cy="156.23" r="1.8"/><circle cx="438.27" cy="263.03" r="1.8"/><circle cx="444.99" cy="154.88" r="1.8"/><circle cx="444.99" cy="263.03" r="1.8"/><circle cx="451.70" cy="152.40" r="1.8"/><circle cx="451.70" cy="262.16" r="1.8"/><circle cx="458.41" cy="150.82" r="1.8"/><circle cx="458.41" cy="262.16" r="1.8"/><circle cx="465.13" cy="149.02" r="1.8"/><circle cx="465.13" cy="261.58" r="1.8"/><circle cx="471.84" cy="146.32" r="1.8"/><circle cx="471.84" cy="259.84" r="1.8"/><circle cx="478.55" cy="146.54" r="1.8"/><circle cx="478.55" cy="262.60" r="1.8"/><circle cx="485.27" cy="146.77" r="1.8"/><circle cx="485.27" cy="264.63" r="1.8"/><circle cx="491.98" cy="145.98" r="1.8"/><circle cx="491.98" cy="264.63" r="1.8"/></g>
<path class="tk" d="M325.94 75.96 L327.29 75.96 L328.63 77.41 L332.67 89.72 L334.02 91.17 L335.37 91.17 M336.04 75.96 L335.37 77.41 L334.02 79.58 L327.29 87.55 L325.94 89.72 L325.27 91.17 M339.00 72.45 L339.00 72.02 L339.43 71.15 L339.86 70.71 L340.73 70.28 L342.47 70.28 L343.34 70.71 L343.77 71.15 L344.21 72.02 L344.21 72.88 L343.77 73.75 L342.91 75.06 L338.56 79.40 L344.64 79.40 M338.61 87.03 L338.61 92.30 M338.61 89.29 L338.99 88.16 L339.74 87.41 L340.50 87.03 L341.63 87.03 M346.35 77.56 L358.22 77.56 M346.35 81.61 L358.22 81.61 M367.49 70.90 L365.32 71.62 L363.87 73.79 L363.14 77.41 L363.14 79.58 L363.87 83.20 L365.32 85.38 L367.49 86.10 L368.94 86.10 L371.11 85.38 L372.56 83.20 L373.28 79.58 L373.28 77.41 L372.56 73.79 L371.11 71.62 L368.94 70.90 L367.49 70.90 M379.07 84.65 L378.35 85.38 L379.07 86.10 L379.80 85.38 L379.07 84.65 M388.48 70.90 L386.31 71.62 L385.59 73.07 L385.59 74.52 L386.31 75.96 L387.76 76.69 L390.66 77.41 L392.83 78.14 L394.28 79.58 L395.00 81.03 L395.00 83.20 L394.28 84.65 L393.55 85.38 L391.38 86.10 L388.48 86.10 L386.31 85.38 L385.59 84.65 L384.86 83.20 L384.86 81.03 L385.59 79.58 L387.04 78.14 L389.21 77.41 L392.10 76.69 L393.55 75.96 L394.28 74.52 L394.28 73.07 L393.55 71.62 L391.38 70.90 L388.48 70.90"/>
<path class="tr" d="M420.84 77.56 L432.71 77.56 M420.84 81.61 L432.71 81.61 M441.98 70.90 L439.80 71.62 L438.36 73.79 L437.63 77.41 L437.63 79.58 L438.36 83.20 L439.80 85.38 L441.98 86.10 L443.42 86.10 L445.60 85.38 L447.04 83.20 L447.77 79.58 L447.77 77.41 L447.04 73.79 L445.60 71.62 L443.42 70.90 L441.98 70.90 M483.00 70.90 L477.20 86.10 M483.00 70.90 L488.79 86.10 M479.38 81.03 L486.62 81.03 M502.54 74.52 L501.82 73.07 L500.37 71.62 L498.92 70.90 L496.03 70.90 L494.58 71.62 L493.13 73.07 L492.41 74.52 L491.68 76.69 L491.68 80.31 L492.41 82.48 L493.13 83.93 L494.58 85.38 L496.03 86.10 L498.92 86.10 L500.37 85.38 L501.82 83.93 L502.54 82.48"/><path class="tr" style="stroke-width:1.75" d="M407.50 75.96 L406.05 76.69 L404.60 78.14 L403.88 79.58 L403.15 81.76 L403.15 83.93 L403.88 85.38 L405.32 86.10 L406.77 86.10 L408.22 85.38 L410.39 83.20 L411.84 81.03 L413.29 78.14 L414.01 75.96 M407.50 75.96 L408.94 75.96 L409.67 76.69 L410.39 78.14 L411.84 83.93 L412.56 85.38 L413.29 86.10 L414.01 86.10"/>
<path class="ib" d="M330.88 119.70 L330.88 118.90 L331.28 118.10 L331.68 117.70 L332.48 117.70 L332.88 118.10 L333.28 118.90 L333.68 120.50 L333.68 126.10 M330.88 118.90 L331.68 118.10 L332.48 118.10 L333.28 118.90 M336.88 119.70 L336.88 118.90 L336.48 118.10 L336.08 117.70 L335.28 117.70 L334.88 118.10 L334.48 118.90 L334.08 120.50 L334.08 126.10 M336.88 118.90 L336.08 118.10 L335.28 118.10 L334.48 118.90 M332.48 126.10 L335.28 126.10 M339.20 121.38 L345.76 121.38 M339.20 123.62 L345.76 123.62 M350.88 117.70 L349.68 118.10 L348.88 119.30 L348.48 121.30 L348.48 122.50 L348.88 124.50 L349.68 125.70 L350.88 126.10 L351.68 126.10 L352.88 125.70 L353.68 124.50 L354.08 122.50 L354.08 121.30 L353.68 119.30 L352.88 118.10 L351.68 117.70 L350.88 117.70 M357.28 125.30 L356.88 125.70 L357.28 126.10 L357.68 125.70 L357.28 125.30 M362.88 117.70 L361.68 118.10 L360.88 119.30 L360.48 121.30 L360.48 122.50 L360.88 124.50 L361.68 125.70 L362.88 126.10 L363.68 126.10 L364.88 125.70 L365.68 124.50 L366.08 122.50 L366.08 121.30 L365.68 119.30 L364.88 118.10 L363.68 117.70 L362.88 117.70"/>
<path class="ir" d="M386.53 121.70 L385.73 120.90 L384.93 120.50 L383.73 120.50 L382.93 120.90 L382.13 121.70 L381.73 122.90 L381.73 123.70 L382.13 124.90 L382.93 125.70 L383.73 126.10 L384.93 126.10 L385.73 125.70 L386.53 124.90 M388.67 127.14 L392.55 127.14 M394.45 125.46 L394.45 125.22 L394.69 124.74 L394.93 124.50 L395.41 124.26 L396.37 124.26 L396.85 124.50 L397.09 124.74 L397.33 125.22 L397.33 125.70 L397.09 126.18 L396.61 126.90 L394.21 129.30 L397.57 129.30 M399.81 121.38 L406.37 121.38 M399.81 123.62 L406.37 123.62 M414.69 117.70 L410.69 126.10 M409.09 117.70 L414.69 117.70 M417.89 125.30 L417.49 125.70 L417.89 126.10 L418.29 125.70 L417.89 125.30 M426.69 117.70 L422.69 126.10 M421.09 117.70 L426.69 117.70 M441.23 117.70 L444.43 126.10 M447.63 117.70 L444.43 126.10 M448.49 125.46 L448.49 125.22 L448.73 124.74 L448.97 124.50 L449.45 124.26 L450.41 124.26 L450.89 124.50 L451.13 124.74 L451.37 125.22 L451.37 125.70 L451.13 126.18 L450.65 126.90 L448.25 129.30 L451.61 129.30 M454.49 124.26 L453.77 124.50 L453.29 125.22 L453.05 126.42 L453.05 127.14 L453.29 128.34 L453.77 129.06 L454.49 129.30 L454.97 129.30 L455.69 129.06 L456.17 128.34 L456.41 127.14 L456.41 126.42 L456.17 125.22 L455.69 124.50 L454.97 124.26 L454.49 124.26 M459.29 124.26 L458.57 124.50 L458.09 125.22 L457.85 126.42 L457.85 127.14 L458.09 128.34 L458.57 129.06 L459.29 129.30 L459.77 129.30 L460.49 129.06 L460.97 128.34 L461.21 127.14 L461.21 126.42 L460.97 125.22 L460.49 124.50 L459.77 124.26 L459.29 124.26 M463.45 121.38 L470.01 121.38 M463.45 123.62 L470.01 123.62 M478.33 117.70 L474.33 126.10 M472.73 117.70 L478.33 117.70 M482.73 117.70 L481.53 118.10 L481.13 118.90 L481.13 119.70 L481.53 120.50 L482.33 120.90 L483.93 121.30 L485.13 121.70 L485.93 122.50 L486.33 123.30 L486.33 124.50 L485.93 125.30 L485.53 125.70 L484.33 126.10 L482.73 126.10 L481.53 125.70 L481.13 125.30 L480.73 124.50 L480.73 123.30 L481.13 122.50 L481.93 121.70 L483.13 121.30 L484.73 120.90 L485.53 120.50 L485.93 119.70 L485.93 118.90 L485.53 118.10 L484.33 117.70 L482.73 117.70"/>
<path class="ax" d="M525.19 97.40H728.46V290.80H525.19Z M525.19 232.90H728.46"/>
<path class="ax" d="M537.60 97.40v12.0 M537.60 220.65v24.0 M537.60 290.80v-12.0 M550.32 97.40v5.9 M550.32 226.75v11.8 M550.32 290.80v-5.9 M563.03 97.40v5.9 M563.03 226.75v11.8 M563.03 290.80v-5.9 M575.75 97.40v5.9 M575.75 226.75v11.8 M575.75 290.80v-5.9 M588.46 97.40v12.0 M588.46 220.65v24.0 M588.46 290.80v-12.0 M601.18 97.40v5.9 M601.18 226.75v11.8 M601.18 290.80v-5.9 M613.89 97.40v5.9 M613.89 226.75v11.8 M613.89 290.80v-5.9 M626.61 97.40v5.9 M626.61 226.75v11.8 M626.61 290.80v-5.9 M639.32 97.40v12.0 M639.32 220.65v24.0 M639.32 290.80v-12.0 M652.04 97.40v5.9 M652.04 226.75v11.8 M652.04 290.80v-5.9 M664.75 97.40v5.9 M664.75 226.75v11.8 M664.75 290.80v-5.9 M677.47 97.40v5.9 M677.47 226.75v11.8 M677.47 290.80v-5.9 M690.18 97.40v12.0 M690.18 220.65v24.0 M690.18 290.80v-12.0 M702.89 97.40v5.9 M702.89 226.75v11.8 M702.89 290.80v-5.9 M715.61 97.40v5.9 M715.61 226.75v11.8 M715.61 290.80v-5.9 M525.19 221.38h12.0 M728.46 221.38h-12.0 M525.19 210.11h5.9 M728.46 210.11h-5.9 M525.19 198.84h5.9 M728.46 198.84h-5.9 M525.19 187.57h5.9 M728.46 187.57h-5.9 M525.19 176.30h5.9 M728.46 176.30h-5.9 M525.19 165.02h12.0 M728.46 165.02h-12.0 M525.19 153.75h5.9 M728.46 153.75h-5.9 M525.19 142.48h5.9 M728.46 142.48h-5.9 M525.19 131.21h5.9 M728.46 131.21h-5.9 M525.19 119.94h5.9 M728.46 119.94h-5.9 M525.19 108.67h12.0 M728.46 108.67h-12.0 M525.19 97.40h5.9 M728.46 97.40h-5.9 M525.19 283.53h5.9 M728.46 283.53h-5.9 M525.19 276.26h12.0 M728.46 276.26h-12.0 M525.19 268.99h5.9 M728.46 268.99h-5.9 M525.19 254.46h5.9 M728.46 254.46h-5.9 M525.19 247.19h12.0 M728.46 247.19h-12.0 M525.19 239.92h5.9 M728.46 239.92h-5.9"/>
<path class="zl" d="M525.19 261.73H728.46"/>
<path class="gas" d="M542.69 223.07 L544.51 223.02 L546.34 222.87 L548.17 222.65 L550.00 222.34 L551.83 221.58 L553.66 220.20 L555.49 218.96 L557.32 217.70 L559.14 216.57 L560.97 215.74 L562.80 215.13 L564.63 214.58 L566.46 214.01 L568.29 213.44 L570.12 212.88 L571.94 212.31 L573.77 211.70 L575.60 211.05 L577.43 210.41 L579.26 209.83 L581.09 209.33 L582.92 208.97 L584.75 208.70 L586.57 208.46 L588.40 208.24 L590.23 208.05 L592.06 207.87 L593.89 207.71 L595.72 207.57 L597.55 207.44 L599.37 207.32 L601.20 207.22 L603.03 207.12 L604.86 207.04 L606.69 206.97 L608.52 206.90 L610.35 206.84 L612.18 206.78 L614.00 206.71 L615.83 206.65 L617.66 206.58 L619.49 206.51 L621.32 206.42 L623.15 206.33 L624.98 206.21 L626.81 206.06 L628.63 205.88 L630.46 205.69 L632.29 205.52 L634.12 205.38 L635.95 205.28 L637.78 205.18 L639.61 205.09 L641.43 205.01 L643.26 204.93 L645.09 204.86 L646.92 204.79 L648.75 204.73 L650.58 204.66 L652.41 204.60 L654.24 204.54 L656.06 204.48 L657.89 204.41 L659.72 204.34 L661.55 204.27 L663.38 204.20 L665.21 204.11 L667.04 204.03 L668.86 203.94 L670.69 203.86 L672.52 203.77 L674.35 203.68 L676.18 203.59 L678.01 203.50 L679.84 203.41 L681.67 203.31 L683.49 203.22 L685.32 203.12 L687.15 203.03 L688.98 202.93 L690.81 202.83 L692.64 202.73 L694.47 202.63 L696.29 202.52 L698.12 202.42 L699.95 202.31 L701.78 202.21 L703.61 202.10 L705.44 201.99"/>
<path class="star" d="M542.69 218.79 L544.51 217.77 L546.34 216.78 L548.17 215.82 L550.00 214.88 L551.83 213.96 L553.66 213.07 L555.49 212.19 L557.32 211.31 L559.14 210.44 L560.97 209.60 L562.80 208.83 L564.63 208.13 L566.46 207.45 L568.29 206.86 L570.12 206.39 L571.94 206.02 L573.77 205.70 L575.60 205.43 L577.43 205.20 L579.26 204.99 L581.09 204.81 L582.92 204.64 L584.75 204.49 L586.57 204.35 L588.40 204.21 L590.23 204.06 L592.06 203.92 L593.89 203.81 L595.72 203.72 L597.55 203.68 L599.37 203.69 L601.20 203.71 L603.03 203.74 L604.86 203.78 L606.69 203.82 L608.52 203.88 L610.35 203.94 L612.18 204.06 L614.00 204.22 L615.83 204.41 L617.66 204.60 L619.49 204.77 L621.32 204.91 L623.15 205.04 L624.98 205.17 L626.81 205.29 L628.63 205.41 L630.46 205.53 L632.29 205.65 L634.12 205.78 L635.95 205.92 L637.78 206.06 L639.61 206.20 L641.43 206.35 L643.26 206.50 L645.09 206.65 L646.92 206.80 L648.75 206.95 L650.58 207.10 L652.41 207.25 L654.24 207.40 L656.06 207.55 L657.89 207.69 L659.72 207.84 L661.55 207.99 L663.38 208.13 L665.21 208.27 L667.04 208.41 L668.86 208.55 L670.69 208.70 L672.52 208.83 L674.35 208.95 L676.18 209.06 L678.01 209.14 L679.84 209.21 L681.67 209.27 L683.49 209.33 L685.32 209.38 L687.15 209.43 L688.98 209.49 L690.81 209.55 L692.64 209.61 L694.47 209.69 L696.29 209.78 L698.12 209.88 L699.95 209.98 L701.78 210.09 L703.61 210.21 L705.44 210.33"/>
<path class="h0" d="M542.69 217.11 L544.51 215.02 L546.34 213.09 L548.17 211.31 L550.00 209.63 L551.83 208.04 L553.66 206.55 L555.49 205.23 L557.32 204.04 L559.14 202.95 L560.97 201.84 L562.80 200.71 L564.63 199.57 L566.46 198.48 L568.29 197.38 L570.12 196.25 L571.94 195.13 L573.77 194.03 L575.60 192.96 L577.43 191.91 L579.26 190.86 L581.09 189.81 L582.92 188.73 L584.75 187.66 L586.57 186.60 L588.40 185.56 L590.23 184.55 L592.06 183.56 L593.89 182.58 L595.72 181.61 L597.55 180.65 L599.37 179.69 L601.20 178.75 L603.03 177.83 L604.86 176.93 L606.69 176.05 L608.52 175.18 L610.35 174.33 L612.18 173.49 L614.00 172.65 L615.83 171.82 L617.66 171.02 L619.49 170.24 L621.32 169.50 L623.15 168.77 L624.98 168.07 L626.81 167.40 L628.63 166.75 L630.46 166.12 L632.29 165.49 L634.12 164.87 L635.95 164.24 L637.78 163.63 L639.61 163.02 L641.43 162.42 L643.26 161.83 L645.09 161.25 L646.92 160.68 L648.75 160.12 L650.58 159.57 L652.41 159.03 L654.24 158.50 L656.06 157.97 L657.89 157.46 L659.72 156.95 L661.55 156.45 L663.38 155.96 L665.21 155.49 L667.04 155.01 L668.86 154.55 L670.69 154.09 L672.52 153.65 L674.35 153.21 L676.18 152.78 L678.01 152.35 L679.84 151.94 L681.67 151.54 L683.49 151.14 L685.32 150.75 L687.15 150.36 L688.98 149.98 L690.81 149.60 L692.64 149.22 L694.47 148.85 L696.29 148.48 L698.12 148.11 L699.95 147.75 L701.78 147.39 L703.61 147.04 L705.44 146.68"/>
<path class="mod" d="M542.69 216.68 L544.51 214.26 L546.34 212.02 L548.17 209.95 L550.00 207.98 L551.83 206.12 L553.66 204.34 L555.49 202.63 L557.32 200.99 L559.14 199.41 L560.97 197.88 L562.80 196.40 L564.63 194.97 L566.46 193.58 L568.29 192.23 L570.12 190.92 L571.94 189.64 L573.77 188.40 L575.60 187.19 L577.43 186.01 L579.26 184.86 L581.09 183.74 L582.92 182.65 L584.75 181.59 L586.57 180.55 L588.40 179.54 L590.23 178.55 L592.06 177.59 L593.89 176.65 L595.72 175.73 L597.55 174.84 L599.37 173.96 L601.20 173.11 L603.03 172.28 L604.86 171.47 L606.69 170.67 L608.52 169.90 L610.35 169.14 L612.18 168.40 L614.00 167.68 L615.83 166.97 L617.66 166.27 L619.49 165.59 L621.32 164.93 L623.15 164.28 L624.98 163.64 L626.81 163.01 L628.63 162.39 L630.46 161.79 L632.29 161.19 L634.12 160.61 L635.95 160.04 L637.78 159.47 L639.61 158.92 L641.43 158.37 L643.26 157.84 L645.09 157.31 L646.92 156.79 L648.75 156.28 L650.58 155.78 L652.41 155.28 L654.24 154.80 L656.06 154.31 L657.89 153.84 L659.72 153.37 L661.55 152.91 L663.38 152.46 L665.21 152.01 L667.04 151.57 L668.86 151.13 L670.69 150.70 L672.52 150.28 L674.35 149.86 L676.18 149.44 L678.01 149.03 L679.84 148.63 L681.67 148.23 L683.49 147.84 L685.32 147.44 L687.15 147.06 L688.98 146.68 L690.81 146.30 L692.64 145.93 L694.47 145.56 L696.29 145.19 L698.12 144.83 L699.95 144.47 L701.78 144.12 L703.61 143.77 L705.44 143.42"/>
<path class="eb" d="M542.69 207.97V212.48M540.94 207.97h3.5M540.94 212.48h3.5 M542.69 251.26V257.07M540.94 257.07h3.5M540.94 251.26h3.5 M549.55 209.32V211.57M547.80 209.32h3.5M547.80 211.57h3.5 M549.55 262.16V265.07M547.80 265.07h3.5M547.80 262.16h3.5 M552.86 203.23V205.49M551.11 203.23h3.5M551.11 205.49h3.5 M552.86 258.96V261.87M551.11 261.87h3.5M551.11 258.96h3.5 M556.20 203.57V205.83M554.45 203.57h3.5M554.45 205.83h3.5 M556.20 263.18V266.09M554.45 266.09h3.5M554.45 263.18h3.5 M559.55 203.57V205.83M557.80 203.57h3.5M557.80 205.83h3.5 M559.55 267.39V270.30M557.80 270.30h3.5M557.80 267.39h3.5 M562.89 197.60V199.85M561.14 197.60h3.5M561.14 199.85h3.5 M562.89 263.61V266.52M561.14 266.52h3.5M561.14 263.61h3.5 M566.23 191.96V194.22M564.48 191.96h3.5M564.48 194.22h3.5 M566.23 259.69V262.60M564.48 262.60h3.5M564.48 259.69h3.5 M569.58 192.30V194.55M567.83 192.30h3.5M567.83 194.55h3.5 M569.58 262.60V265.50M567.83 265.50h3.5M567.83 262.60h3.5 M572.92 191.17V193.43M571.17 191.17h3.5M571.17 193.43h3.5 M572.92 264.27V267.18M571.17 267.18h3.5M571.17 264.27h3.5 M576.27 184.41V186.66M574.52 184.41h3.5M574.52 186.66h3.5 M576.27 258.38V261.29M574.52 261.29h3.5M574.52 258.38h3.5 M579.61 183.51V185.76M577.86 183.51h3.5M577.86 185.76h3.5 M579.61 259.69V262.60M577.86 262.60h3.5M577.86 259.69h3.5 M582.95 177.76V181.14M581.20 177.76h3.5M581.20 181.14h3.5 M582.95 256.20V260.56M581.20 260.56h3.5M581.20 256.20h3.5 M586.30 181.25V183.51M584.55 181.25h3.5M584.55 183.51h3.5 M586.30 263.18V266.09M584.55 266.09h3.5M584.55 263.18h3.5 M589.64 178.66V180.92M587.89 178.66h3.5M587.89 180.92h3.5 M589.64 262.16V265.07M587.89 265.07h3.5M587.89 262.16h3.5 M592.99 175.96V178.66M591.24 175.96h3.5M591.24 178.66h3.5 M592.99 261.29V264.78M591.24 264.78h3.5M591.24 261.29h3.5 M596.33 171.11V180.58M594.58 171.11h3.5M594.58 180.58h3.5 M596.33 256.49V268.70M594.58 268.70h3.5M594.58 256.49h3.5 M599.67 154.77V177.76M597.92 154.77h3.5M597.92 177.76h3.5 M599.67 237.16V266.81M597.92 266.81h3.5M597.92 237.16h3.5 M603.02 166.83V170.21M601.27 166.83h3.5M601.27 170.21h3.5 M603.02 254.75V259.11M601.27 259.11h3.5M601.27 254.75h3.5 M606.36 165.70V169.08M604.61 165.70h3.5M604.61 169.08h3.5 M606.36 255.18V259.54M604.61 259.54h3.5M604.61 255.18h3.5 M611.09 162.88V173.03M609.34 162.88h3.5M609.34 173.03h3.5 M611.09 253.87V266.96M609.34 266.96h3.5M609.34 253.87h3.5 M617.81 161.53V171.00M616.06 161.53h3.5M616.06 171.00h3.5 M617.81 254.75V266.96M616.06 266.96h3.5M616.06 254.75h3.5 M624.52 160.29V168.41M622.77 160.29h3.5M622.77 168.41h3.5 M624.52 256.93V267.39M622.77 267.39h3.5M622.77 256.93h3.5 M631.23 157.87V165.64M629.48 157.87h3.5M629.48 165.64h3.5 M631.23 256.56V266.60M629.48 266.60h3.5M629.48 256.56h3.5 M637.95 155.67V163.11M636.20 155.67h3.5M636.20 163.11h3.5 M637.95 257.07V266.67M636.20 266.67h3.5M636.20 257.07h3.5 M644.66 155.67V162.43M642.91 155.67h3.5M642.91 162.43h3.5 M644.66 259.25V267.98M642.91 267.98h3.5M642.91 259.25h3.5 M651.37 153.30V159.16M649.62 153.30h3.5M649.62 159.16h3.5 M651.37 259.25V266.81M649.62 266.81h3.5M649.62 259.25h3.5 M658.09 152.23V157.53M656.34 152.23h3.5M656.34 157.53h3.5 M658.09 259.62V266.45M656.34 266.45h3.5M656.34 259.62h3.5 M664.80 150.37V154.43M663.05 150.37h3.5M663.05 154.43h3.5 M664.80 259.25V264.49M663.05 264.49h3.5M663.05 259.25h3.5 M671.51 148.79V152.85M669.76 148.79h3.5M669.76 152.85h3.5 M671.51 259.25V264.49M669.76 264.49h3.5M669.76 259.25h3.5 M678.23 145.75V152.29M676.48 145.75h3.5M676.48 152.29h3.5 M678.23 257.36V265.80M676.48 265.80h3.5M676.48 257.36h3.5 M684.94 142.93V149.70M683.19 142.93h3.5M683.19 149.70h3.5 M684.94 255.47V264.20M683.19 264.20h3.5M683.19 255.47h3.5 M691.65 142.82V150.26M689.90 142.82h3.5M689.90 150.26h3.5 M691.65 257.80V267.39M689.90 267.39h3.5M689.90 257.80h3.5 M698.37 143.27V150.26M696.62 143.27h3.5M696.62 150.26h3.5 M698.37 260.13V269.14M696.62 269.14h3.5M696.62 260.13h3.5 M705.08 142.26V149.70M703.33 142.26h3.5M703.33 149.70h3.5 M705.08 260.27V269.87M703.33 269.87h3.5M703.33 260.27h3.5"/>
<g class="pt"><circle cx="542.69" cy="210.22" r="1.8"/><circle cx="542.69" cy="254.17" r="1.8"/><circle cx="549.55" cy="210.45" r="1.8"/><circle cx="549.55" cy="263.61" r="1.8"/><circle cx="552.86" cy="204.36" r="1.8"/><circle cx="552.86" cy="260.42" r="1.8"/><circle cx="556.20" cy="204.70" r="1.8"/><circle cx="556.20" cy="264.63" r="1.8"/><circle cx="559.55" cy="204.70" r="1.8"/><circle cx="559.55" cy="268.85" r="1.8"/><circle cx="562.89" cy="198.72" r="1.8"/><circle cx="562.89" cy="265.07" r="1.8"/><circle cx="566.23" cy="193.09" r="1.8"/><circle cx="566.23" cy="261.14" r="1.8"/><circle cx="569.58" cy="193.43" r="1.8"/><circle cx="569.58" cy="264.05" r="1.8"/><circle cx="572.92" cy="192.30" r="1.8"/><circle cx="572.92" cy="265.72" r="1.8"/><circle cx="576.27" cy="185.54" r="1.8"/><circle cx="576.27" cy="259.84" r="1.8"/><circle cx="579.61" cy="184.64" r="1.8"/><circle cx="579.61" cy="261.14" r="1.8"/><circle cx="582.95" cy="179.45" r="1.8"/><circle cx="582.95" cy="258.38" r="1.8"/><circle cx="586.30" cy="182.38" r="1.8"/><circle cx="586.30" cy="264.63" r="1.8"/><circle cx="589.64" cy="179.79" r="1.8"/><circle cx="589.64" cy="263.61" r="1.8"/><circle cx="592.99" cy="177.31" r="1.8"/><circle cx="592.99" cy="263.03" r="1.8"/><circle cx="596.33" cy="175.84" r="1.8"/><circle cx="596.33" cy="262.60" r="1.8"/><circle cx="599.67" cy="166.26" r="1.8"/><circle cx="599.67" cy="251.98" r="1.8"/><circle cx="603.02" cy="168.52" r="1.8"/><circle cx="603.02" cy="256.93" r="1.8"/><circle cx="606.36" cy="167.39" r="1.8"/><circle cx="606.36" cy="257.36" r="1.8"/><circle cx="611.09" cy="167.96" r="1.8"/><circle cx="611.09" cy="260.42" r="1.8"/><circle cx="617.81" cy="166.26" r="1.8"/><circle cx="617.81" cy="260.85" r="1.8"/><circle cx="624.52" cy="164.35" r="1.8"/><circle cx="624.52" cy="262.16" r="1.8"/><circle cx="631.23" cy="161.76" r="1.8"/><circle cx="631.23" cy="261.58" r="1.8"/><circle cx="637.95" cy="159.39" r="1.8"/><circle cx="637.95" cy="261.87" r="1.8"/><circle cx="644.66" cy="159.05" r="1.8"/><circle cx="644.66" cy="263.61" r="1.8"/><circle cx="651.37" cy="156.23" r="1.8"/><circle cx="651.37" cy="263.03" r="1.8"/><circle cx="658.09" cy="154.88" r="1.8"/><circle cx="658.09" cy="263.03" r="1.8"/><circle cx="664.80" cy="152.40" r="1.8"/><circle cx="664.80" cy="261.87" r="1.8"/><circle cx="671.51" cy="150.82" r="1.8"/><circle cx="671.51" cy="261.87" r="1.8"/><circle cx="678.23" cy="149.02" r="1.8"/><circle cx="678.23" cy="261.58" r="1.8"/><circle cx="684.94" cy="146.32" r="1.8"/><circle cx="684.94" cy="259.84" r="1.8"/><circle cx="691.65" cy="146.54" r="1.8"/><circle cx="691.65" cy="262.60" r="1.8"/><circle cx="698.37" cy="146.77" r="1.8"/><circle cx="698.37" cy="264.63" r="1.8"/><circle cx="705.08" cy="145.98" r="1.8"/><circle cx="705.08" cy="265.07" r="1.8"/></g>
<path class="tk" d="M539.04 75.96 L540.39 75.96 L541.73 77.41 L545.77 89.72 L547.12 91.17 L548.47 91.17 M549.14 75.96 L548.47 77.41 L547.12 79.58 L540.39 87.55 L539.04 89.72 L538.37 91.17 M552.10 72.45 L552.10 72.02 L552.53 71.15 L552.96 70.71 L553.83 70.28 L555.57 70.28 L556.44 70.71 L556.87 71.15 L557.31 72.02 L557.31 72.88 L556.87 73.75 L556.01 75.06 L551.66 79.40 L557.74 79.40 M551.71 87.03 L551.71 92.30 M551.71 89.29 L552.09 88.16 L552.84 87.41 L553.60 87.03 L554.73 87.03 M559.45 77.56 L571.32 77.56 M559.45 81.61 L571.32 81.61 M580.59 70.90 L578.42 71.62 L576.97 73.79 L576.24 77.41 L576.24 79.58 L576.97 83.20 L578.42 85.38 L580.59 86.10 L582.04 86.10 L584.21 85.38 L585.66 83.20 L586.38 79.58 L586.38 77.41 L585.66 73.79 L584.21 71.62 L582.04 70.90 L580.59 70.90 M592.17 84.65 L591.45 85.38 L592.17 86.10 L592.90 85.38 L592.17 84.65 M601.58 70.90 L599.41 71.62 L598.69 73.07 L598.69 74.52 L599.41 75.96 L600.86 76.69 L603.76 77.41 L605.93 78.14 L607.38 79.58 L608.10 81.03 L608.10 83.20 L607.38 84.65 L606.65 85.38 L604.48 86.10 L601.58 86.10 L599.41 85.38 L598.69 84.65 L597.96 83.20 L597.96 81.03 L598.69 79.58 L600.14 78.14 L602.31 77.41 L605.20 76.69 L606.65 75.96 L607.38 74.52 L607.38 73.07 L606.65 71.62 L604.48 70.90 L601.58 70.90"/>
<path class="tr" d="M633.95 77.56 L645.82 77.56 M633.95 81.61 L645.82 81.61 M655.09 70.90 L652.91 71.62 L651.47 73.79 L650.74 77.41 L650.74 79.58 L651.47 83.20 L652.91 85.38 L655.09 86.10 L656.53 86.10 L658.71 85.38 L660.15 83.20 L660.88 79.58 L660.88 77.41 L660.15 73.79 L658.71 71.62 L656.53 70.90 L655.09 70.90 M679.14 70.90 L679.14 86.10 M679.14 70.90 L689.27 86.10 M689.27 70.90 L689.27 86.10 M698.68 70.90 L692.89 86.10 M698.68 70.90 L704.48 86.10 M695.06 81.03 L702.30 81.03 M718.23 74.52 L717.51 73.07 L716.06 71.62 L714.61 70.90 L711.72 70.90 L710.27 71.62 L708.82 73.07 L708.10 74.52 L707.37 76.69 L707.37 80.31 L708.10 82.48 L708.82 83.93 L710.27 85.38 L711.72 86.10 L714.61 86.10 L716.06 85.38 L717.51 83.93 L718.23 82.48 M729.82 73.07 L729.82 86.10 M723.30 79.58 L736.33 79.58"/><path class="tr" style="stroke-width:1.75" d="M620.61 75.96 L619.16 76.69 L617.71 78.14 L616.99 79.58 L616.26 81.76 L616.26 83.93 L616.99 85.38 L618.43 86.10 L619.88 86.10 L621.33 85.38 L623.50 83.20 L624.95 81.03 L626.40 78.14 L627.12 75.96 M620.61 75.96 L622.05 75.96 L622.78 76.69 L623.50 78.14 L624.95 83.93 L625.67 85.38 L626.40 86.10 L627.12 86.10"/>
<path class="ib" d="M543.99 119.70 L543.99 118.90 L544.39 118.10 L544.79 117.70 L545.59 117.70 L545.99 118.10 L546.39 118.90 L546.79 120.50 L546.79 126.10 M543.99 118.90 L544.79 118.10 L545.59 118.10 L546.39 118.90 M549.99 119.70 L549.99 118.90 L549.59 118.10 L549.19 117.70 L548.39 117.70 L547.99 118.10 L547.59 118.90 L547.19 120.50 L547.19 126.10 M549.99 118.90 L549.19 118.10 L548.39 118.10 L547.59 118.90 M545.59 126.10 L548.39 126.10 M552.31 121.38 L558.87 121.38 M552.31 123.62 L558.87 123.62 M563.99 117.70 L562.79 118.10 L561.99 119.30 L561.59 121.30 L561.59 122.50 L561.99 124.50 L562.79 125.70 L563.99 126.10 L564.79 126.10 L565.99 125.70 L566.79 124.50 L567.19 122.50 L567.19 121.30 L566.79 119.30 L565.99 118.10 L564.79 117.70 L563.99 117.70 M570.39 125.30 L569.99 125.70 L570.39 126.10 L570.79 125.70 L570.39 125.30 M579.19 117.70 L575.19 126.10 M573.59 117.70 L579.19 117.70 M583.59 118.57 L583.59 122.03 M582.15 119.44 L585.03 121.16 M585.03 119.44 L582.15 121.16"/>
<path class="ir" d="M599.64 121.70 L598.84 120.90 L598.04 120.50 L596.84 120.50 L596.04 120.90 L595.24 121.70 L594.84 122.90 L594.84 123.70 L595.24 124.90 L596.04 125.70 L596.84 126.10 L598.04 126.10 L598.84 125.70 L599.64 124.90 M601.78 127.14 L605.66 127.14 M607.56 125.46 L607.56 125.22 L607.80 124.74 L608.04 124.50 L608.52 124.26 L609.48 124.26 L609.96 124.50 L610.20 124.74 L610.44 125.22 L610.44 125.70 L610.20 126.18 L609.72 126.90 L607.32 129.30 L610.68 129.30 M612.92 121.38 L619.48 121.38 M612.92 123.62 L619.48 123.62 M627.80 117.70 L623.80 126.10 M622.20 117.70 L627.80 117.70 M631.00 125.30 L630.60 125.70 L631.00 126.10 L631.40 125.70 L631.00 125.30 M639.40 120.50 L639.00 121.70 L638.20 122.50 L637.00 122.90 L636.60 122.90 L635.40 122.50 L634.60 121.70 L634.20 120.50 L634.20 120.10 L634.60 118.90 L635.40 118.10 L636.60 117.70 L637.00 117.70 L638.20 118.10 L639.00 118.90 L639.40 120.50 L639.40 122.50 L639.00 124.50 L638.20 125.70 L637.00 126.10 L636.20 126.10 L635.00 125.70 L634.60 124.90 M654.34 117.70 L657.54 126.10 M660.74 117.70 L657.54 126.10 M661.60 125.46 L661.60 125.22 L661.84 124.74 L662.08 124.50 L662.56 124.26 L663.52 124.26 L664.00 124.50 L664.24 124.74 L664.48 125.22 L664.48 125.70 L664.24 126.18 L663.76 126.90 L661.36 129.30 L664.72 129.30 M667.60 124.26 L666.88 124.50 L666.40 125.22 L666.16 126.42 L666.16 127.14 L666.40 128.34 L666.88 129.06 L667.60 129.30 L668.08 129.30 L668.80 129.06 L669.28 128.34 L669.52 127.14 L669.52 126.42 L669.28 125.22 L668.80 124.50 L668.08 124.26 L667.60 124.26 M672.40 124.26 L671.68 124.50 L671.20 125.22 L670.96 126.42 L670.96 127.14 L671.20 128.34 L671.68 129.06 L672.40 129.30 L672.88 129.30 L673.60 129.06 L674.08 128.34 L674.32 127.14 L674.32 126.42 L674.08 125.22 L673.60 124.50 L672.88 124.26 L672.40 124.26 M676.56 121.38 L683.12 121.38 M676.56 123.62 L683.12 123.62 M691.44 117.70 L687.44 126.10 M685.84 117.70 L691.44 117.70 M699.04 120.50 L698.64 121.70 L697.84 122.50 L696.64 122.90 L696.24 122.90 L695.04 122.50 L694.24 121.70 L693.84 120.50 L693.84 120.10 L694.24 118.90 L695.04 118.10 L696.24 117.70 L696.64 117.70 L697.84 118.10 L698.64 118.90 L699.04 120.50 L699.04 122.50 L698.64 124.50 L697.84 125.70 L696.64 126.10 L695.84 126.10 L694.64 125.70 L694.24 124.90"/>
<path class="ax" d="M738.05 97.40H941.34V290.80H738.05Z M738.05 232.90H941.34"/>
<path class="ax" d="M750.65 97.40v12.0 M750.65 220.65v24.0 M750.65 290.80v-12.0 M763.37 97.40v5.9 M763.37 226.75v11.8 M763.37 290.80v-5.9 M776.08 97.40v5.9 M776.08 226.75v11.8 M776.08 290.80v-5.9 M788.79 97.40v5.9 M788.79 226.75v11.8 M788.79 290.80v-5.9 M801.51 97.40v12.0 M801.51 220.65v24.0 M801.51 290.80v-12.0 M814.23 97.40v5.9 M814.23 226.75v11.8 M814.23 290.80v-5.9 M826.94 97.40v5.9 M826.94 226.75v11.8 M826.94 290.80v-5.9 M839.65 97.40v5.9 M839.65 226.75v11.8 M839.65 290.80v-5.9 M852.37 97.40v12.0 M852.37 220.65v24.0 M852.37 290.80v-12.0 M865.09 97.40v5.9 M865.09 226.75v11.8 M865.09 290.80v-5.9 M877.80 97.40v5.9 M877.80 226.75v11.8 M877.80 290.80v-5.9 M890.51 97.40v5.9 M890.51 226.75v11.8 M890.51 290.80v-5.9 M903.23 97.40v12.0 M903.23 220.65v24.0 M903.23 290.80v-12.0 M915.94 97.40v5.9 M915.94 226.75v11.8 M915.94 290.80v-5.9 M928.66 97.40v5.9 M928.66 226.75v11.8 M928.66 290.80v-5.9 M738.05 221.38h12.0 M941.34 221.38h-12.0 M738.05 210.11h5.9 M941.34 210.11h-5.9 M738.05 198.84h5.9 M941.34 198.84h-5.9 M738.05 187.57h5.9 M941.34 187.57h-5.9 M738.05 176.30h5.9 M941.34 176.30h-5.9 M738.05 165.02h12.0 M941.34 165.02h-12.0 M738.05 153.75h5.9 M941.34 153.75h-5.9 M738.05 142.48h5.9 M941.34 142.48h-5.9 M738.05 131.21h5.9 M941.34 131.21h-5.9 M738.05 119.94h5.9 M941.34 119.94h-5.9 M738.05 108.67h12.0 M941.34 108.67h-12.0 M738.05 97.40h5.9 M941.34 97.40h-5.9 M738.05 283.53h5.9 M941.34 283.53h-5.9 M738.05 276.26h12.0 M941.34 276.26h-12.0 M738.05 268.99h5.9 M941.34 268.99h-5.9 M738.05 254.46h5.9 M941.34 254.46h-5.9 M738.05 247.19h12.0 M941.34 247.19h-12.0 M738.05 239.92h5.9 M941.34 239.92h-5.9"/>
<path class="zl" d="M738.05 261.73H941.34"/>
<path class="gas" d="M755.74 223.07 L757.56 223.02 L759.39 222.87 L761.22 222.65 L763.05 222.34 L764.88 221.58 L766.71 220.20 L768.54 218.96 L770.37 217.70 L772.19 216.57 L774.02 215.74 L775.85 215.13 L777.68 214.58 L779.51 214.01 L781.34 213.44 L783.17 212.88 L784.99 212.31 L786.82 211.70 L788.65 211.05 L790.48 210.41 L792.31 209.83 L794.14 209.33 L795.97 208.97 L797.80 208.70 L799.62 208.46 L801.45 208.24 L803.28 208.05 L805.11 207.87 L806.94 207.71 L808.77 207.57 L810.60 207.44 L812.42 207.32 L814.25 207.22 L816.08 207.12 L817.91 207.04 L819.74 206.97 L821.57 206.90 L823.40 206.84 L825.23 206.78 L827.05 206.71 L828.88 206.65 L830.71 206.58 L832.54 206.51 L834.37 206.42 L836.20 206.33 L838.03 206.21 L839.86 206.06 L841.68 205.88 L843.51 205.69 L845.34 205.52 L847.17 205.38 L849.00 205.28 L850.83 205.18 L852.66 205.09 L854.48 205.01 L856.31 204.93 L858.14 204.86 L859.97 204.79 L861.80 204.73 L863.63 204.66 L865.46 204.60 L867.29 204.54 L869.11 204.48 L870.94 204.41 L872.77 204.34 L874.60 204.27 L876.43 204.20 L878.26 204.11 L880.09 204.03 L881.91 203.94 L883.74 203.86 L885.57 203.77 L887.40 203.68 L889.23 203.59 L891.06 203.50 L892.89 203.41 L894.72 203.31 L896.54 203.22 L898.37 203.12 L900.20 203.03 L902.03 202.93 L903.86 202.83 L905.69 202.73 L907.52 202.63 L909.34 202.52 L911.17 202.42 L913.00 202.31 L914.83 202.21 L916.66 202.10 L918.49 201.99"/>
<path class="star" d="M755.74 218.79 L757.56 217.77 L759.39 216.78 L761.22 215.82 L763.05 214.88 L764.88 213.96 L766.71 213.07 L768.54 212.19 L770.37 211.31 L772.19 210.44 L774.02 209.60 L775.85 208.83 L777.68 208.13 L779.51 207.45 L781.34 206.86 L783.17 206.39 L784.99 206.02 L786.82 205.70 L788.65 205.43 L790.48 205.20 L792.31 204.99 L794.14 204.81 L795.97 204.64 L797.80 204.49 L799.62 204.35 L801.45 204.21 L803.28 204.06 L805.11 203.92 L806.94 203.81 L808.77 203.72 L810.60 203.68 L812.42 203.69 L814.25 203.71 L816.08 203.74 L817.91 203.78 L819.74 203.82 L821.57 203.88 L823.40 203.94 L825.23 204.06 L827.05 204.22 L828.88 204.41 L830.71 204.60 L832.54 204.77 L834.37 204.91 L836.20 205.04 L838.03 205.17 L839.86 205.29 L841.68 205.41 L843.51 205.53 L845.34 205.65 L847.17 205.78 L849.00 205.92 L850.83 206.06 L852.66 206.20 L854.48 206.35 L856.31 206.50 L858.14 206.65 L859.97 206.80 L861.80 206.95 L863.63 207.10 L865.46 207.25 L867.29 207.40 L869.11 207.55 L870.94 207.69 L872.77 207.84 L874.60 207.99 L876.43 208.13 L878.26 208.27 L880.09 208.41 L881.91 208.55 L883.74 208.70 L885.57 208.83 L887.40 208.95 L889.23 209.06 L891.06 209.14 L892.89 209.21 L894.72 209.27 L896.54 209.33 L898.37 209.38 L900.20 209.43 L902.03 209.49 L903.86 209.55 L905.69 209.61 L907.52 209.69 L909.34 209.78 L911.17 209.88 L913.00 209.98 L914.83 210.09 L916.66 210.21 L918.49 210.33"/>
<path class="h0" d="M755.74 218.00 L757.56 216.71 L759.39 215.41 L761.22 214.11 L763.05 212.79 L764.88 211.41 L766.71 210.06 L768.54 208.86 L770.37 207.82 L772.19 206.88 L774.02 206.00 L775.85 205.17 L777.68 204.36 L779.51 203.54 L781.34 202.71 L783.17 201.87 L784.99 201.04 L786.82 200.21 L788.65 199.34 L790.48 198.41 L792.31 197.45 L794.14 196.51 L795.97 195.64 L797.80 194.84 L799.62 194.06 L801.45 193.22 L803.28 192.28 L805.11 191.30 L806.94 190.36 L808.77 189.56 L810.60 188.86 L812.42 188.21 L814.25 187.53 L816.08 186.78 L817.91 185.99 L819.74 185.19 L821.57 184.43 L823.40 183.73 L825.23 183.05 L827.05 182.37 L828.88 181.67 L830.71 180.96 L832.54 180.24 L834.37 179.52 L836.20 178.80 L838.03 178.07 L839.86 177.35 L841.68 176.65 L843.51 176.00 L845.34 175.36 L847.17 174.73 L849.00 174.09 L850.83 173.42 L852.66 172.74 L854.48 172.08 L856.31 171.43 L858.14 170.79 L859.97 170.16 L861.80 169.54 L863.63 168.92 L865.46 168.33 L867.29 167.74 L869.11 167.18 L870.94 166.64 L872.77 166.12 L874.60 165.62 L876.43 165.13 L878.26 164.66 L880.09 164.18 L881.91 163.72 L883.74 163.24 L885.57 162.78 L887.40 162.32 L889.23 161.87 L891.06 161.42 L892.89 160.97 L894.72 160.52 L896.54 160.07 L898.37 159.61 L900.20 159.14 L902.03 158.68 L903.86 158.21 L905.69 157.75 L907.52 157.28 L909.34 156.80 L911.17 156.32 L913.00 155.83 L914.83 155.33 L916.66 154.83 L918.49 154.32"/>
<path class="h1" d="M755.74 213.38 L757.56 211.38 L759.39 209.05 L761.22 206.49 L763.05 204.33 L764.88 202.47 L766.71 200.86 L768.54 199.43 L770.37 198.15 L772.19 196.99 L774.02 195.84 L775.85 194.71 L777.68 193.59 L779.51 192.54 L781.34 191.50 L783.17 190.46 L784.99 189.42 L786.82 188.42 L788.65 187.46 L790.48 186.54 L792.31 185.66 L794.14 184.79 L795.97 183.90 L797.80 183.01 L799.62 182.13 L801.45 181.28 L803.28 180.45 L805.11 179.64 L806.94 178.84 L808.77 178.04 L810.60 177.26 L812.42 176.49 L814.25 175.73 L816.08 175.00 L817.91 174.29 L819.74 173.60 L821.57 172.92 L823.40 172.25 L825.23 171.58 L827.05 170.91 L828.88 170.24 L830.71 169.60 L832.54 168.97 L834.37 168.38 L836.20 167.80 L838.03 167.25 L839.86 166.72 L841.68 166.20 L843.51 165.70 L845.34 165.20 L847.17 164.70 L849.00 164.19 L850.83 163.68 L852.66 163.18 L854.48 162.68 L856.31 162.19 L858.14 161.71 L859.97 161.23 L861.80 160.76 L863.63 160.29 L865.46 159.84 L867.29 159.39 L869.11 158.94 L870.94 158.51 L872.77 158.08 L874.60 157.66 L876.43 157.24 L878.26 156.84 L880.09 156.44 L881.91 156.04 L883.74 155.65 L885.57 155.26 L887.40 154.89 L889.23 154.52 L891.06 154.16 L892.89 153.80 L894.72 153.45 L896.54 153.11 L898.37 152.77 L900.20 152.43 L902.03 152.09 L903.86 151.76 L905.69 151.43 L907.52 151.10 L909.34 150.78 L911.17 150.45 L913.00 150.12 L914.83 149.80 L916.66 149.48 L918.49 149.16"/>
<path class="mod" d="M755.74 213.14 L757.56 210.88 L759.39 208.31 L761.22 205.53 L763.05 203.16 L764.88 201.07 L766.71 199.21 L768.54 197.46 L770.37 195.80 L772.19 194.22 L774.02 192.70 L775.85 191.25 L777.68 189.85 L779.51 188.52 L781.34 187.23 L783.17 185.98 L784.99 184.78 L786.82 183.61 L788.65 182.49 L790.48 181.43 L792.31 180.42 L794.14 179.44 L795.97 178.50 L797.80 177.58 L799.62 176.69 L801.45 175.82 L803.28 174.98 L805.11 174.16 L806.94 173.36 L808.77 172.59 L810.60 171.84 L812.42 171.12 L814.25 170.42 L816.08 169.75 L817.91 169.10 L819.74 168.47 L821.57 167.86 L823.40 167.26 L825.23 166.67 L827.05 166.09 L828.88 165.52 L830.71 164.97 L832.54 164.43 L834.37 163.90 L836.20 163.38 L838.03 162.87 L839.86 162.37 L841.68 161.88 L843.51 161.40 L845.34 160.92 L847.17 160.45 L849.00 159.99 L850.83 159.53 L852.66 159.07 L854.48 158.62 L856.31 158.17 L858.14 157.73 L859.97 157.30 L861.80 156.88 L863.63 156.46 L865.46 156.04 L867.29 155.64 L869.11 155.23 L870.94 154.84 L872.77 154.44 L874.60 154.06 L876.43 153.67 L878.26 153.29 L880.09 152.92 L881.91 152.55 L883.74 152.18 L885.57 151.82 L887.40 151.46 L889.23 151.10 L891.06 150.75 L892.89 150.40 L894.72 150.06 L896.54 149.71 L898.37 149.37 L900.20 149.03 L902.03 148.70 L903.86 148.37 L905.69 148.04 L907.52 147.71 L909.34 147.39 L911.17 147.06 L913.00 146.74 L914.83 146.42 L916.66 146.11 L918.49 145.79"/>
<path class="eb" d="M755.74 207.97V212.48M753.99 207.97h3.5M753.99 212.48h3.5 M755.74 256.06V261.87M753.99 261.87h3.5M753.99 256.06h3.5 M762.60 209.32V211.57M760.85 209.32h3.5M760.85 211.57h3.5 M762.60 268.12V271.03M760.85 271.03h3.5M760.85 268.12h3.5 M765.91 203.23V205.49M764.16 203.23h3.5M764.16 205.49h3.5 M765.91 265.36V268.27M764.16 268.27h3.5M764.16 265.36h3.5 M769.25 203.57V205.83M767.50 203.57h3.5M767.50 205.83h3.5 M769.25 270.01V272.92M767.50 272.92h3.5M767.50 270.01h3.5 M772.60 203.57V205.83M770.85 203.57h3.5M770.85 205.83h3.5 M772.60 274.23V277.13M770.85 277.13h3.5M770.85 274.23h3.5 M775.94 197.60V199.85M774.19 197.60h3.5M774.19 199.85h3.5 M775.94 270.01V272.92M774.19 272.92h3.5M774.19 270.01h3.5 M779.28 191.96V194.22M777.53 191.96h3.5M777.53 194.22h3.5 M779.28 265.94V268.85M777.53 268.85h3.5M777.53 265.94h3.5 M782.63 192.30V194.55M780.88 192.30h3.5M780.88 194.55h3.5 M782.63 268.85V271.76M780.88 271.76h3.5M780.88 268.85h3.5 M785.97 191.17V193.43M784.22 191.17h3.5M784.22 193.43h3.5 M785.97 270.16V273.06M784.22 273.06h3.5M784.22 270.16h3.5 M789.32 184.41V186.66M787.57 184.41h3.5M787.57 186.66h3.5 M789.32 264.27V267.18M787.57 267.18h3.5M787.57 264.27h3.5 M792.66 183.51V185.76M790.91 183.51h3.5M790.91 185.76h3.5 M792.66 264.92V267.83M790.91 267.83h3.5M790.91 264.92h3.5 M796.00 177.76V181.14M794.25 177.76h3.5M794.25 181.14h3.5 M796.00 261.00V265.36M794.25 265.36h3.5M794.25 261.00h3.5 M799.35 181.25V183.51M797.60 181.25h3.5M797.60 183.51h3.5 M799.35 267.83V270.74M797.60 270.74h3.5M797.60 267.83h3.5 M802.69 178.66V180.92M800.94 178.66h3.5M800.94 180.92h3.5 M802.69 265.94V268.85M800.94 268.85h3.5M800.94 265.94h3.5 M806.04 175.96V178.66M804.29 175.96h3.5M804.29 178.66h3.5 M806.04 264.63V268.12M804.29 268.12h3.5M804.29 264.63h3.5 M809.38 171.11V180.58M807.63 171.11h3.5M807.63 180.58h3.5 M809.38 259.62V271.83M807.63 271.83h3.5M807.63 259.62h3.5 M812.72 154.77V177.76M810.97 154.77h3.5M810.97 177.76h3.5 M812.72 239.92V269.58M810.97 269.58h3.5M810.97 239.92h3.5 M816.07 166.83V170.21M814.32 166.83h3.5M814.32 170.21h3.5 M816.07 257.22V261.58M814.32 261.58h3.5M814.32 257.22h3.5 M819.41 165.70V169.08M817.66 165.70h3.5M817.66 169.08h3.5 M819.41 257.22V261.58M817.66 261.58h3.5M817.66 257.22h3.5 M824.14 162.88V173.03M822.39 162.88h3.5M822.39 173.03h3.5 M824.14 256.49V269.58M822.39 269.58h3.5M822.39 256.49h3.5 M830.86 161.53V171.00M829.11 161.53h3.5M829.11 171.00h3.5 M830.86 256.93V269.14M829.11 269.14h3.5M829.11 256.93h3.5 M837.57 160.29V168.41M835.82 160.29h3.5M835.82 168.41h3.5 M837.57 257.95V268.41M835.82 268.41h3.5M835.82 257.95h3.5 M844.28 157.87V165.64M842.53 157.87h3.5M842.53 165.64h3.5 M844.28 257.15V267.18M842.53 267.18h3.5M842.53 257.15h3.5 M851.00 155.67V163.11M849.25 155.67h3.5M849.25 163.11h3.5 M851.00 257.07V266.67M849.25 266.67h3.5M849.25 257.07h3.5 M857.71 155.67V162.43M855.96 155.67h3.5M855.96 162.43h3.5 M857.71 258.82V267.54M855.96 267.54h3.5M855.96 258.82h3.5 M864.42 153.30V159.16M862.67 153.30h3.5M862.67 159.16h3.5 M864.42 258.09V265.65M862.67 265.65h3.5M862.67 258.09h3.5 M871.14 152.23V157.53M869.39 152.23h3.5M869.39 157.53h3.5 M871.14 257.73V264.56M869.39 264.56h3.5M869.39 257.73h3.5 M877.85 150.37V154.43M876.10 150.37h3.5M876.10 154.43h3.5 M877.85 257.36V262.60M876.10 262.60h3.5M876.10 257.36h3.5 M884.56 148.79V152.85M882.81 148.79h3.5M882.81 152.85h3.5 M884.56 257.22V262.45M882.81 262.45h3.5M882.81 257.22h3.5 M891.28 145.75V152.29M889.53 145.75h3.5M889.53 152.29h3.5 M891.28 255.18V263.61M889.53 263.61h3.5M889.53 255.18h3.5 M897.99 142.93V149.70M896.24 142.93h3.5M896.24 149.70h3.5 M897.99 253.58V262.31M896.24 262.31h3.5M896.24 253.58h3.5 M904.70 142.82V150.26M902.95 142.82h3.5M902.95 150.26h3.5 M904.70 255.04V264.63M902.95 264.63h3.5M902.95 255.04h3.5 M911.42 143.27V150.26M909.67 143.27h3.5M909.67 150.26h3.5 M911.42 257.36V266.38M909.67 266.38h3.5M909.67 257.36h3.5 M918.13 142.26V149.70M916.38 142.26h3.5M916.38 149.70h3.5 M918.13 257.07V266.67M916.38 266.67h3.5M916.38 257.07h3.5"/>
<g class="pt"><circle cx="755.74" cy="210.22" r="1.8"/><circle cx="755.74" cy="258.96" r="1.8"/><circle cx="762.60" cy="210.45" r="1.8"/><circle cx="762.60" cy="269.58" r="1.8"/><circle cx="765.91" cy="204.36" r="1.8"/><circle cx="765.91" cy="266.81" r="1.8"/><circle cx="769.25" cy="204.70" r="1.8"/><circle cx="769.25" cy="271.47" r="1.8"/><circle cx="772.60" cy="204.70" r="1.8"/><circle cx="772.60" cy="275.68" r="1.8"/><circle cx="775.94" cy="198.72" r="1.8"/><circle cx="775.94" cy="271.47" r="1.8"/><circle cx="779.28" cy="193.09" r="1.8"/><circle cx="779.28" cy="267.39" r="1.8"/><circle cx="782.63" cy="193.43" r="1.8"/><circle cx="782.63" cy="270.30" r="1.8"/><circle cx="785.97" cy="192.30" r="1.8"/><circle cx="785.97" cy="271.61" r="1.8"/><circle cx="789.32" cy="185.54" r="1.8"/><circle cx="789.32" cy="265.72" r="1.8"/><circle cx="792.66" cy="184.64" r="1.8"/><circle cx="792.66" cy="266.38" r="1.8"/><circle cx="796.00" cy="179.45" r="1.8"/><circle cx="796.00" cy="263.18" r="1.8"/><circle cx="799.35" cy="182.38" r="1.8"/><circle cx="799.35" cy="269.28" r="1.8"/><circle cx="802.69" cy="179.79" r="1.8"/><circle cx="802.69" cy="267.39" r="1.8"/><circle cx="806.04" cy="177.31" r="1.8"/><circle cx="806.04" cy="266.38" r="1.8"/><circle cx="809.38" cy="175.84" r="1.8"/><circle cx="809.38" cy="265.72" r="1.8"/><circle cx="812.72" cy="166.26" r="1.8"/><circle cx="812.72" cy="254.75" r="1.8"/><circle cx="816.07" cy="168.52" r="1.8"/><circle cx="816.07" cy="259.40" r="1.8"/><circle cx="819.41" cy="167.39" r="1.8"/><circle cx="819.41" cy="259.40" r="1.8"/><circle cx="824.14" cy="167.96" r="1.8"/><circle cx="824.14" cy="263.03" r="1.8"/><circle cx="830.86" cy="166.26" r="1.8"/><circle cx="830.86" cy="263.03" r="1.8"/><circle cx="837.57" cy="164.35" r="1.8"/><circle cx="837.57" cy="263.18" r="1.8"/><circle cx="844.28" cy="161.76" r="1.8"/><circle cx="844.28" cy="262.16" r="1.8"/><circle cx="851.00" cy="159.39" r="1.8"/><circle cx="851.00" cy="261.87" r="1.8"/><circle cx="857.71" cy="159.05" r="1.8"/><circle cx="857.71" cy="263.18" r="1.8"/><circle cx="864.42" cy="156.23" r="1.8"/><circle cx="864.42" cy="261.87" r="1.8"/><circle cx="871.14" cy="154.88" r="1.8"/><circle cx="871.14" cy="261.14" r="1.8"/><circle cx="877.85" cy="152.40" r="1.8"/><circle cx="877.85" cy="259.98" r="1.8"/><circle cx="884.56" cy="150.82" r="1.8"/><circle cx="884.56" cy="259.84" r="1.8"/><circle cx="891.28" cy="149.02" r="1.8"/><circle cx="891.28" cy="259.40" r="1.8"/><circle cx="897.99" cy="146.32" r="1.8"/><circle cx="897.99" cy="257.95" r="1.8"/><circle cx="904.70" cy="146.54" r="1.8"/><circle cx="904.70" cy="259.84" r="1.8"/><circle cx="911.42" cy="146.77" r="1.8"/><circle cx="911.42" cy="261.87" r="1.8"/><circle cx="918.13" cy="145.98" r="1.8"/><circle cx="918.13" cy="261.87" r="1.8"/></g>
<path class="tk" d="M752.09 75.96 L753.44 75.96 L754.78 77.41 L758.82 89.72 L760.17 91.17 L761.52 91.17 M762.19 75.96 L761.52 77.41 L760.17 79.58 L753.44 87.55 L752.09 89.72 L751.42 91.17 M765.15 72.45 L765.15 72.02 L765.58 71.15 L766.01 70.71 L766.88 70.28 L768.62 70.28 L769.49 70.71 L769.92 71.15 L770.36 72.02 L770.36 72.88 L769.92 73.75 L769.06 75.06 L764.71 79.40 L770.79 79.40 M764.76 87.03 L764.76 92.30 M764.76 89.29 L765.14 88.16 L765.89 87.41 L766.65 87.03 L767.78 87.03 M772.50 77.56 L784.37 77.56 M772.50 81.61 L784.37 81.61 M790.02 74.52 L790.02 73.79 L790.74 72.34 L791.47 71.62 L792.91 70.90 L795.81 70.90 L797.26 71.62 L797.98 72.34 L798.71 73.79 L798.71 75.24 L797.98 76.69 L796.53 78.86 L789.29 86.10 L799.43 86.10 M805.22 84.65 L804.50 85.38 L805.22 86.10 L805.95 85.38 L805.22 84.65 M820.43 75.96 L819.70 78.14 L818.25 79.58 L816.08 80.31 L815.36 80.31 L813.19 79.58 L811.74 78.14 L811.01 75.96 L811.01 75.24 L811.74 73.07 L813.19 71.62 L815.36 70.90 L816.08 70.90 L818.25 71.62 L819.70 73.07 L820.43 75.96 L820.43 79.58 L819.70 83.20 L818.25 85.38 L816.08 86.10 L814.63 86.10 L812.46 85.38 L811.74 83.93"/>
<path class="tr" d="M846.81 77.56 L858.68 77.56 M846.81 81.61 L858.68 81.61 M867.95 70.90 L865.77 71.62 L864.33 73.79 L863.60 77.41 L863.60 79.58 L864.33 83.20 L865.77 85.38 L867.95 86.10 L869.39 86.10 L871.57 85.38 L873.01 83.20 L873.74 79.58 L873.74 77.41 L873.01 73.79 L871.57 71.62 L869.39 70.90 L867.95 70.90 M908.97 70.90 L903.17 86.10 M908.97 70.90 L914.76 86.10 M905.35 81.03 L912.59 81.03 M928.51 74.52 L927.79 73.07 L926.34 71.62 L924.89 70.90 L922.00 70.90 L920.55 71.62 L919.10 73.07 L918.38 74.52 L917.65 76.69 L917.65 80.31 L918.38 82.48 L919.10 83.93 L920.55 85.38 L922.00 86.10 L924.89 86.10 L926.34 85.38 L927.79 83.93 L928.51 82.48 M940.10 73.07 L940.10 86.10 M933.58 79.58 L946.61 79.58"/><path class="tr" style="stroke-width:1.75" d="M833.47 75.96 L832.02 76.69 L830.57 78.14 L829.85 79.58 L829.12 81.76 L829.12 83.93 L829.85 85.38 L831.29 86.10 L832.74 86.10 L834.19 85.38 L836.36 83.20 L837.81 81.03 L839.26 78.14 L839.98 75.96 M833.47 75.96 L834.91 75.96 L835.64 76.69 L836.36 78.14 L837.81 83.93 L838.53 85.38 L839.26 86.10 L839.98 86.10"/>
<path class="ib" d="M756.85 119.70 L756.85 118.90 L757.25 118.10 L757.65 117.70 L758.45 117.70 L758.85 118.10 L759.25 118.90 L759.65 120.50 L759.65 126.10 M756.85 118.90 L757.65 118.10 L758.45 118.10 L759.25 118.90 M762.85 119.70 L762.85 118.90 L762.45 118.10 L762.05 117.70 L761.25 117.70 L760.85 118.10 L760.45 118.90 L760.05 120.50 L760.05 126.10 M762.85 118.90 L762.05 118.10 L761.25 118.10 L760.45 118.90 M758.45 126.10 L761.25 126.10 M765.17 121.38 L771.73 121.38 M765.17 123.62 L771.73 123.62 M776.85 117.70 L775.65 118.10 L774.85 119.30 L774.45 121.30 L774.45 122.50 L774.85 124.50 L775.65 125.70 L776.85 126.10 L777.65 126.10 L778.85 125.70 L779.65 124.50 L780.05 122.50 L780.05 121.30 L779.65 119.30 L778.85 118.10 L777.65 117.70 L776.85 117.70 M783.25 125.30 L782.85 125.70 L783.25 126.10 L783.65 125.70 L783.25 125.30 M792.05 117.70 L788.05 126.10 M786.45 117.70 L792.05 117.70 M796.45 118.57 L796.45 122.03 M795.01 119.44 L797.89 121.16 M797.89 119.44 L795.01 121.16"/>
<path class="ir" d="M812.50 121.70 L811.70 120.90 L810.90 120.50 L809.70 120.50 L808.90 120.90 L808.10 121.70 L807.70 122.90 L807.70 123.70 L808.10 124.90 L808.90 125.70 L809.70 126.10 L810.90 126.10 L811.70 125.70 L812.50 124.90 M814.64 127.14 L818.52 127.14 M820.42 125.46 L820.42 125.22 L820.66 124.74 L820.90 124.50 L821.38 124.26 L822.34 124.26 L822.82 124.50 L823.06 124.74 L823.30 125.22 L823.30 125.70 L823.06 126.18 L822.58 126.90 L820.18 129.30 L823.54 129.30 M825.78 121.38 L832.34 121.38 M825.78 123.62 L832.34 123.62 M840.26 118.90 L839.86 118.10 L838.66 117.70 L837.86 117.70 L836.66 118.10 L835.86 119.30 L835.46 121.30 L835.46 123.30 L835.86 124.90 L836.66 125.70 L837.86 126.10 L838.26 126.10 L839.46 125.70 L840.26 124.90 L840.66 123.70 L840.66 123.30 L840.26 122.10 L839.46 121.30 L838.26 120.90 L837.86 120.90 L836.66 121.30 L835.86 122.10 L835.46 123.30 M843.86 125.30 L843.46 125.70 L843.86 126.10 L844.26 125.70 L843.86 125.30 M849.46 117.70 L848.26 118.10 L847.46 119.30 L847.06 121.30 L847.06 122.50 L847.46 124.50 L848.26 125.70 L849.46 126.10 L850.26 126.10 L851.46 125.70 L852.26 124.50 L852.66 122.50 L852.66 121.30 L852.26 119.30 L851.46 118.10 L850.26 117.70 L849.46 117.70 M857.06 118.57 L857.06 122.03 M855.62 119.44 L858.50 121.16 M858.50 119.44 L855.62 121.16 M867.20 117.70 L870.40 126.10 M873.60 117.70 L870.40 126.10 M874.46 125.46 L874.46 125.22 L874.70 124.74 L874.94 124.50 L875.42 124.26 L876.38 124.26 L876.86 124.50 L877.10 124.74 L877.34 125.22 L877.34 125.70 L877.10 126.18 L876.62 126.90 L874.22 129.30 L877.58 129.30 M880.46 124.26 L879.74 124.50 L879.26 125.22 L879.02 126.42 L879.02 127.14 L879.26 128.34 L879.74 129.06 L880.46 129.30 L880.94 129.30 L881.66 129.06 L882.14 128.34 L882.38 127.14 L882.38 126.42 L882.14 125.22 L881.66 124.50 L880.94 124.26 L880.46 124.26 M885.26 124.26 L884.54 124.50 L884.06 125.22 L883.82 126.42 L883.82 127.14 L884.06 128.34 L884.54 129.06 L885.26 129.30 L885.74 129.30 L886.46 129.06 L886.94 128.34 L887.18 127.14 L887.18 126.42 L886.94 125.22 L886.46 124.50 L885.74 124.26 L885.26 124.26 M889.42 121.38 L895.98 121.38 M889.42 123.62 L895.98 123.62 M903.90 120.50 L903.50 121.70 L902.70 122.50 L901.50 122.90 L901.10 122.90 L899.90 122.50 L899.10 121.70 L898.70 120.50 L898.70 120.10 L899.10 118.90 L899.90 118.10 L901.10 117.70 L901.50 117.70 L902.70 118.10 L903.50 118.90 L903.90 120.50 L903.90 122.50 L903.50 124.50 L902.70 125.70 L901.50 126.10 L900.70 126.10 L899.50 125.70 L899.10 124.90 M911.50 117.70 L907.50 117.70 L907.10 121.30 L907.50 120.90 L908.70 120.50 L909.90 120.50 L911.10 120.90 L911.90 121.70 L912.30 122.90 L912.30 123.70 L911.90 124.90 L911.10 125.70 L909.90 126.10 L908.70 126.10 L907.50 125.70 L907.10 125.30 L906.70 124.50"/>
<path class="ax" d="M99.08 329.95H302.45V523.35H99.08Z M99.08 465.45H302.45"/>
<path class="ax" d="M111.40 329.95v12.0 M111.40 453.20v24.0 M111.40 523.35v-12.0 M124.12 329.95v5.9 M124.12 459.30v11.8 M124.12 523.35v-5.9 M136.83 329.95v5.9 M136.83 459.30v11.8 M136.83 523.35v-5.9 M149.55 329.95v5.9 M149.55 459.30v11.8 M149.55 523.35v-5.9 M162.26 329.95v12.0 M162.26 453.20v24.0 M162.26 523.35v-12.0 M174.98 329.95v5.9 M174.98 459.30v11.8 M174.98 523.35v-5.9 M187.69 329.95v5.9 M187.69 459.30v11.8 M187.69 523.35v-5.9 M200.41 329.95v5.9 M200.41 459.30v11.8 M200.41 523.35v-5.9 M213.12 329.95v12.0 M213.12 453.20v24.0 M213.12 523.35v-12.0 M225.84 329.95v5.9 M225.84 459.30v11.8 M225.84 523.35v-5.9 M238.55 329.95v5.9 M238.55 459.30v11.8 M238.55 523.35v-5.9 M251.27 329.95v5.9 M251.27 459.30v11.8 M251.27 523.35v-5.9 M263.98 329.95v12.0 M263.98 453.20v24.0 M263.98 523.35v-12.0 M276.69 329.95v5.9 M276.69 459.30v11.8 M276.69 523.35v-5.9 M289.41 329.95v5.9 M289.41 459.30v11.8 M289.41 523.35v-5.9 M99.08 453.93h12.0 M302.45 453.93h-12.0 M99.08 442.66h5.9 M302.45 442.66h-5.9 M99.08 431.39h5.9 M302.45 431.39h-5.9 M99.08 420.12h5.9 M302.45 420.12h-5.9 M99.08 408.85h5.9 M302.45 408.85h-5.9 M99.08 397.57h12.0 M302.45 397.57h-12.0 M99.08 386.30h5.9 M302.45 386.30h-5.9 M99.08 375.03h5.9 M302.45 375.03h-5.9 M99.08 363.76h5.9 M302.45 363.76h-5.9 M99.08 352.49h5.9 M302.45 352.49h-5.9 M99.08 341.22h12.0 M302.45 341.22h-12.0 M99.08 329.95h5.9 M302.45 329.95h-5.9 M99.08 516.08h5.9 M302.45 516.08h-5.9 M99.08 508.81h12.0 M302.45 508.81h-12.0 M99.08 501.54h5.9 M302.45 501.54h-5.9 M99.08 487.01h5.9 M302.45 487.01h-5.9 M99.08 479.74h12.0 M302.45 479.74h-12.0 M99.08 472.47h5.9 M302.45 472.47h-5.9"/>
<path class="zl" d="M99.08 494.27H302.45"/>
<path class="gas" d="M116.49 455.62 L118.31 455.57 L120.14 455.42 L121.97 455.20 L123.80 454.89 L125.63 454.13 L127.46 452.75 L129.29 451.51 L131.12 450.25 L132.94 449.12 L134.77 448.29 L136.60 447.68 L138.43 447.13 L140.26 446.56 L142.09 445.99 L143.92 445.43 L145.74 444.86 L147.57 444.25 L149.40 443.60 L151.23 442.96 L153.06 442.38 L154.89 441.88 L156.72 441.52 L158.55 441.25 L160.37 441.01 L162.20 440.79 L164.03 440.60 L165.86 440.42 L167.69 440.26 L169.52 440.12 L171.35 439.99 L173.17 439.87 L175.00 439.77 L176.83 439.67 L178.66 439.59 L180.49 439.52 L182.32 439.45 L184.15 439.39 L185.98 439.33 L187.80 439.26 L189.63 439.20 L191.46 439.13 L193.29 439.06 L195.12 438.97 L196.95 438.88 L198.78 438.76 L200.61 438.61 L202.43 438.43 L204.26 438.24 L206.09 438.07 L207.92 437.93 L209.75 437.83 L211.58 437.73 L213.41 437.64 L215.23 437.56 L217.06 437.48 L218.89 437.41 L220.72 437.34 L222.55 437.28 L224.38 437.21 L226.21 437.15 L228.04 437.09 L229.86 437.03 L231.69 436.96 L233.52 436.89 L235.35 436.82 L237.18 436.75 L239.01 436.66 L240.84 436.58 L242.66 436.49 L244.49 436.41 L246.32 436.32 L248.15 436.23 L249.98 436.14 L251.81 436.05 L253.64 435.96 L255.47 435.86 L257.29 435.77 L259.12 435.67 L260.95 435.58 L262.78 435.48 L264.61 435.38 L266.44 435.28 L268.27 435.18 L270.09 435.07 L271.92 434.97 L273.75 434.86 L275.58 434.76 L277.41 434.65 L279.24 434.54"/>
<path class="star" d="M116.49 453.93 L118.31 453.93 L120.14 453.93 L121.97 453.93 L123.80 453.93 L125.63 453.93 L127.46 453.93 L129.29 453.93 L131.12 453.93 L132.94 453.93 L134.77 453.93 L136.60 453.93 L138.43 453.93 L140.26 453.93 L142.09 453.93 L143.92 453.93 L145.74 453.93 L147.57 453.93 L149.40 453.93 L151.23 453.93 L153.06 453.93 L154.89 453.93 L156.72 453.93 L158.55 453.93 L160.37 453.93 L162.20 453.93 L164.03 453.93 L165.86 453.93 L167.69 453.93 L169.52 453.93 L171.35 453.93 L173.17 453.93 L175.00 453.93 L176.83 453.93 L178.66 453.93 L180.49 453.93 L182.32 453.93 L184.15 453.93 L185.98 453.93 L187.80 453.93 L189.63 453.93 L191.46 453.93 L193.29 453.93 L195.12 453.93 L196.95 453.93 L198.78 453.93 L200.61 453.93 L202.43 453.93 L204.26 453.93 L206.09 453.93 L207.92 453.93 L209.75 453.93 L211.58 453.93 L213.41 453.93 L215.23 453.93 L217.06 453.93 L218.89 453.93 L220.72 453.93 L222.55 453.93 L224.38 453.93 L226.21 453.93 L228.04 453.93 L229.86 453.93 L231.69 453.93 L233.52 453.93 L235.35 453.93 L237.18 453.93 L239.01 453.93 L240.84 453.93 L242.66 453.93 L244.49 453.93 L246.32 453.93 L248.15 453.93 L249.98 453.93 L251.81 453.93 L253.64 453.93 L255.47 453.93 L257.29 453.93 L259.12 453.93 L260.95 453.93 L262.78 453.93 L264.61 453.93 L266.44 453.93 L268.27 453.93 L270.09 453.93 L271.92 453.93 L273.75 453.93 L275.58 453.93 L277.41 453.93 L279.24 453.93"/>
<path class="h0" d="M116.49 441.27 L118.31 439.72 L120.14 437.79 L121.97 435.58 L123.80 433.66 L125.63 432.00 L127.46 430.56 L129.29 429.28 L131.12 428.11 L132.94 427.03 L134.77 425.97 L136.60 424.93 L138.43 423.92 L140.26 422.96 L142.09 422.04 L143.92 421.15 L145.74 420.29 L147.57 419.48 L149.40 418.72 L151.23 417.97 L153.06 417.24 L154.89 416.50 L156.72 415.74 L158.55 414.98 L160.37 414.22 L162.20 413.47 L164.03 412.73 L165.86 412.00 L167.69 411.28 L169.52 410.57 L171.35 409.86 L173.17 409.17 L175.00 408.49 L176.83 407.81 L178.66 407.15 L180.49 406.49 L182.32 405.84 L184.15 405.20 L185.98 404.57 L187.80 403.95 L189.63 403.35 L191.46 402.75 L193.29 402.16 L195.12 401.58 L196.95 401.02 L198.78 400.47 L200.61 399.94 L202.43 399.42 L204.26 398.91 L206.09 398.41 L207.92 397.90 L209.75 397.39 L211.58 396.89 L213.41 396.39 L215.23 395.89 L217.06 395.40 L218.89 394.92 L220.72 394.43 L222.55 393.96 L224.38 393.49 L226.21 393.02 L228.04 392.56 L229.86 392.11 L231.69 391.66 L233.52 391.22 L235.35 390.78 L237.18 390.35 L239.01 389.93 L240.84 389.51 L242.66 389.10 L244.49 388.69 L246.32 388.29 L248.15 387.89 L249.98 387.50 L251.81 387.11 L253.64 386.72 L255.47 386.34 L257.29 385.97 L259.12 385.60 L260.95 385.23 L262.78 384.87 L264.61 384.51 L266.44 384.16 L268.27 383.81 L270.09 383.46 L271.92 383.12 L273.75 382.78 L275.58 382.45 L277.41 382.12 L279.24 381.79"/>
<path class="mod" d="M116.49 441.38 L118.31 439.81 L120.14 437.86 L121.97 435.62 L123.80 433.68 L125.63 432.00 L127.46 430.53 L129.29 429.16 L131.12 427.85 L132.94 426.60 L134.77 425.41 L136.60 424.26 L138.43 423.16 L140.26 422.09 L142.09 421.06 L143.92 420.06 L145.74 419.09 L147.57 418.15 L149.40 417.23 L151.23 416.34 L153.06 415.46 L154.89 414.61 L156.72 413.78 L158.55 412.97 L160.37 412.17 L162.20 411.39 L164.03 410.63 L165.86 409.88 L167.69 409.14 L169.52 408.42 L171.35 407.71 L173.17 407.02 L175.00 406.33 L176.83 405.66 L178.66 405.00 L180.49 404.35 L182.32 403.71 L184.15 403.08 L185.98 402.46 L187.80 401.85 L189.63 401.24 L191.46 400.65 L193.29 400.07 L195.12 399.49 L196.95 398.92 L198.78 398.36 L200.61 397.81 L202.43 397.26 L204.26 396.72 L206.09 396.19 L207.92 395.66 L209.75 395.15 L211.58 394.63 L213.41 394.13 L215.23 393.63 L217.06 393.13 L218.89 392.65 L220.72 392.17 L222.55 391.69 L224.38 391.22 L226.21 390.75 L228.04 390.29 L229.86 389.84 L231.69 389.39 L233.52 388.94 L235.35 388.51 L237.18 388.07 L239.01 387.64 L240.84 387.21 L242.66 386.79 L244.49 386.38 L246.32 385.97 L248.15 385.56 L249.98 385.15 L251.81 384.76 L253.64 384.36 L255.47 383.97 L257.29 383.58 L259.12 383.20 L260.95 382.82 L262.78 382.45 L264.61 382.07 L266.44 381.71 L268.27 381.34 L270.09 380.98 L271.92 380.62 L273.75 380.27 L275.58 379.92 L277.41 379.57 L279.24 379.23"/>
<path class="eb" d="M116.49 440.52V445.03M114.74 440.52h3.5M114.74 445.03h3.5 M116.49 493.84V499.65M114.74 499.65h3.5M114.74 493.84h3.5 M123.35 441.87V444.12M121.60 441.87h3.5M121.60 444.12h3.5 M123.35 503.72V506.63M121.60 506.63h3.5M121.60 503.72h3.5 M126.66 435.78V438.04M124.91 435.78h3.5M124.91 438.04h3.5 M126.66 500.24V503.14M124.91 503.14h3.5M124.91 500.24h3.5 M130.00 436.12V438.38M128.25 436.12h3.5M128.25 438.38h3.5 M130.00 503.29V506.20M128.25 506.20h3.5M128.25 503.29h3.5 M133.35 436.12V438.38M131.60 436.12h3.5M131.60 438.38h3.5 M133.35 506.92V509.83M131.60 509.83h3.5M131.60 506.92h3.5 M136.69 430.15V432.40M134.94 430.15h3.5M134.94 432.40h3.5 M136.69 502.13V505.03M134.94 505.03h3.5M134.94 502.13h3.5 M140.03 424.51V426.77M138.28 424.51h3.5M138.28 426.77h3.5 M140.03 497.47V500.38M138.28 500.38h3.5M138.28 497.47h3.5 M143.38 424.85V427.10M141.63 424.85h3.5M141.63 427.10h3.5 M143.38 499.51V502.42M141.63 502.42h3.5M141.63 499.51h3.5 M146.72 423.72V425.98M144.97 423.72h3.5M144.97 425.98h3.5 M146.72 500.67V503.58M144.97 503.58h3.5M144.97 500.67h3.5 M150.07 416.96V419.22M148.32 416.96h3.5M148.32 419.22h3.5 M150.07 494.27V497.18M148.32 497.18h3.5M148.32 494.27h3.5 M153.41 416.06V418.31M151.66 416.06h3.5M151.66 418.31h3.5 M153.41 494.86V497.76M151.66 497.76h3.5M151.66 494.86h3.5 M156.75 410.31V413.69M155.00 410.31h3.5M155.00 413.69h3.5 M156.75 490.35V494.71M155.00 494.71h3.5M155.00 490.35h3.5 M160.10 413.81V416.06M158.35 413.81h3.5M158.35 416.06h3.5 M160.10 496.82V499.73M158.35 499.73h3.5M158.35 496.82h3.5 M163.44 411.21V413.47M161.69 411.21h3.5M161.69 413.47h3.5 M163.44 495.29V498.20M161.69 498.20h3.5M161.69 495.29h3.5 M166.79 408.51V411.21M165.04 408.51h3.5M165.04 411.21h3.5 M166.79 493.55V497.04M165.04 497.04h3.5M165.04 493.55h3.5 M170.13 403.66V413.13M168.38 403.66h3.5M168.38 413.13h3.5 M170.13 488.17V500.38M168.38 500.38h3.5M168.38 488.17h3.5 M173.47 387.32V410.31M171.72 387.32h3.5M171.72 410.31h3.5 M173.47 469.27V498.93M171.72 498.93h3.5M171.72 469.27h3.5 M176.82 399.38V402.76M175.07 399.38h3.5M175.07 402.76h3.5 M176.82 486.13V490.50M175.07 490.50h3.5M175.07 486.13h3.5 M180.16 398.25V401.63M178.41 398.25h3.5M178.41 401.63h3.5 M180.16 486.57V490.93M178.41 490.93h3.5M178.41 486.57h3.5 M184.89 395.43V405.58M183.14 395.43h3.5M183.14 405.58h3.5 M184.89 484.97V498.05M183.14 498.05h3.5M183.14 484.97h3.5 M191.61 394.08V403.55M189.86 394.08h3.5M189.86 403.55h3.5 M191.61 485.41V497.62M189.86 497.62h3.5M189.86 485.41h3.5 M198.32 392.84V400.96M196.57 392.84h3.5M196.57 400.96h3.5 M198.32 487.01V497.47M196.57 497.47h3.5M196.57 487.01h3.5 M205.03 390.42V398.19M203.28 390.42h3.5M203.28 398.19h3.5 M205.03 486.06V496.09M203.28 496.09h3.5M203.28 486.06h3.5 M211.75 388.22V395.66M210.00 388.22h3.5M210.00 395.66h3.5 M211.75 486.28V495.87M210.00 495.87h3.5M210.00 486.28h3.5 M218.46 388.22V394.98M216.71 388.22h3.5M216.71 394.98h3.5 M218.46 488.17V496.89M216.71 496.89h3.5M216.71 488.17h3.5 M225.17 385.85V391.71M223.42 385.85h3.5M223.42 391.71h3.5 M225.17 487.73V495.29M223.42 495.29h3.5M223.42 487.73h3.5 M231.89 384.78V390.08M230.14 384.78h3.5M230.14 390.08h3.5 M231.89 487.66V494.49M230.14 494.49h3.5M230.14 487.66h3.5 M238.60 382.92V386.98M236.85 382.92h3.5M236.85 386.98h3.5 M238.60 487.88V493.11M236.85 493.11h3.5M236.85 487.88h3.5 M245.31 381.34V385.40M243.56 381.34h3.5M243.56 385.40h3.5 M245.31 487.88V493.11M243.56 493.11h3.5M243.56 487.88h3.5 M252.03 378.30V384.84M250.28 378.30h3.5M250.28 384.84h3.5 M252.03 485.70V494.13M250.28 494.13h3.5M250.28 485.70h3.5 M258.74 375.48V382.25M256.99 375.48h3.5M256.99 382.25h3.5 M258.74 484.39V493.11M256.99 493.11h3.5M256.99 484.39h3.5 M265.45 375.37V382.81M263.70 375.37h3.5M263.70 382.81h3.5 M265.45 486.28V495.87M263.70 495.87h3.5M263.70 486.28h3.5 M272.17 375.82V382.81M270.42 375.82h3.5M270.42 382.81h3.5 M272.17 488.46V497.47M270.42 497.47h3.5M270.42 488.46h3.5 M278.88 374.81V382.25M277.13 374.81h3.5M277.13 382.25h3.5 M278.88 488.46V498.05M277.13 498.05h3.5M277.13 488.46h3.5"/>
<g class="pt"><circle cx="116.49" cy="442.77" r="1.8"/><circle cx="116.49" cy="496.75" r="1.8"/><circle cx="123.35" cy="443.00" r="1.8"/><circle cx="123.35" cy="505.18" r="1.8"/><circle cx="126.66" cy="436.91" r="1.8"/><circle cx="126.66" cy="501.69" r="1.8"/><circle cx="130.00" cy="437.25" r="1.8"/><circle cx="130.00" cy="504.74" r="1.8"/><circle cx="133.35" cy="437.25" r="1.8"/><circle cx="133.35" cy="508.38" r="1.8"/><circle cx="136.69" cy="431.27" r="1.8"/><circle cx="136.69" cy="503.58" r="1.8"/><circle cx="140.03" cy="425.64" r="1.8"/><circle cx="140.03" cy="498.93" r="1.8"/><circle cx="143.38" cy="425.98" r="1.8"/><circle cx="143.38" cy="500.96" r="1.8"/><circle cx="146.72" cy="424.85" r="1.8"/><circle cx="146.72" cy="502.13" r="1.8"/><circle cx="150.07" cy="418.09" r="1.8"/><circle cx="150.07" cy="495.73" r="1.8"/><circle cx="153.41" cy="417.19" r="1.8"/><circle cx="153.41" cy="496.31" r="1.8"/><circle cx="156.75" cy="412.00" r="1.8"/><circle cx="156.75" cy="492.53" r="1.8"/><circle cx="160.10" cy="414.93" r="1.8"/><circle cx="160.10" cy="498.27" r="1.8"/><circle cx="163.44" cy="412.34" r="1.8"/><circle cx="163.44" cy="496.75" r="1.8"/><circle cx="166.79" cy="409.86" r="1.8"/><circle cx="166.79" cy="495.29" r="1.8"/><circle cx="170.13" cy="408.39" r="1.8"/><circle cx="170.13" cy="494.27" r="1.8"/><circle cx="173.47" cy="398.81" r="1.8"/><circle cx="173.47" cy="484.10" r="1.8"/><circle cx="176.82" cy="401.07" r="1.8"/><circle cx="176.82" cy="488.31" r="1.8"/><circle cx="180.16" cy="399.94" r="1.8"/><circle cx="180.16" cy="488.75" r="1.8"/><circle cx="184.89" cy="400.51" r="1.8"/><circle cx="184.89" cy="491.51" r="1.8"/><circle cx="191.61" cy="398.81" r="1.8"/><circle cx="191.61" cy="491.51" r="1.8"/><circle cx="198.32" cy="396.90" r="1.8"/><circle cx="198.32" cy="492.24" r="1.8"/><circle cx="205.03" cy="394.31" r="1.8"/><circle cx="205.03" cy="491.08" r="1.8"/><circle cx="211.75" cy="391.94" r="1.8"/><circle cx="211.75" cy="491.08" r="1.8"/><circle cx="218.46" cy="391.60" r="1.8"/><circle cx="218.46" cy="492.53" r="1.8"/><circle cx="225.17" cy="388.78" r="1.8"/><circle cx="225.17" cy="491.51" r="1.8"/><circle cx="231.89" cy="387.43" r="1.8"/><circle cx="231.89" cy="491.08" r="1.8"/><circle cx="238.60" cy="384.95" r="1.8"/><circle cx="238.60" cy="490.50" r="1.8"/><circle cx="245.31" cy="383.37" r="1.8"/><circle cx="245.31" cy="490.50" r="1.8"/><circle cx="252.03" cy="381.57" r="1.8"/><circle cx="252.03" cy="489.91" r="1.8"/><circle cx="258.74" cy="378.87" r="1.8"/><circle cx="258.74" cy="488.75" r="1.8"/><circle cx="265.45" cy="379.09" r="1.8"/><circle cx="265.45" cy="491.08" r="1.8"/><circle cx="272.17" cy="379.32" r="1.8"/><circle cx="272.17" cy="492.97" r="1.8"/><circle cx="278.88" cy="378.53" r="1.8"/><circle cx="278.88" cy="493.26" r="1.8"/></g>
<path class="tk" d="M112.84 308.51 L114.19 308.51 L115.53 309.96 L119.57 322.27 L120.92 323.72 L122.27 323.72 M122.94 308.51 L122.27 309.96 L120.92 312.13 L114.19 320.10 L112.84 322.27 L112.17 323.72 M125.90 305.00 L125.90 304.57 L126.33 303.70 L126.76 303.26 L127.63 302.83 L129.37 302.83 L130.24 303.26 L130.67 303.70 L131.11 304.57 L131.11 305.43 L130.67 306.30 L129.81 307.61 L125.46 311.95 L131.54 311.95 M125.51 319.58 L125.51 324.85 M125.51 321.84 L125.89 320.71 L126.64 319.96 L127.40 319.58 L128.53 319.58 M133.25 310.11 L145.12 310.11 M133.25 314.16 L145.12 314.16 M151.49 303.45 L159.46 303.45 L155.11 309.24 L157.28 309.24 L158.73 309.96 L159.46 310.69 L160.18 312.86 L160.18 314.31 L159.46 316.48 L158.01 317.93 L155.84 318.65 L153.66 318.65 L151.49 317.93 L150.77 317.20 L150.04 315.75 M165.97 317.20 L165.25 317.93 L165.97 318.65 L166.70 317.93 L165.97 317.20 M176.11 303.45 L173.94 304.17 L172.49 306.34 L171.76 309.96 L171.76 312.13 L172.49 315.75 L173.94 317.93 L176.11 318.65 L177.56 318.65 L179.73 317.93 L181.18 315.75 L181.90 312.13 L181.90 309.96 L181.18 306.34 L179.73 304.17 L177.56 303.45 L176.11 303.45"/>
<path class="tr" d="M207.84 310.11 L219.71 310.11 M207.84 314.16 L219.71 314.16 M226.80 306.34 L228.25 305.62 L230.42 303.45 L230.42 318.65 M253.03 303.45 L253.03 318.65 M253.03 303.45 L263.16 318.65 M263.16 303.45 L263.16 318.65 M272.57 303.45 L266.78 318.65 M272.57 303.45 L278.37 318.65 M268.95 313.58 L276.19 313.58 M292.12 307.07 L291.40 305.62 L289.95 304.17 L288.50 303.45 L285.61 303.45 L284.16 304.17 L282.71 305.62 L281.99 307.07 L281.26 309.24 L281.26 312.86 L281.99 315.03 L282.71 316.48 L284.16 317.93 L285.61 318.65 L288.50 318.65 L289.95 317.93 L291.40 316.48 L292.12 315.03"/><path class="tr" style="stroke-width:1.75" d="M194.50 308.51 L193.05 309.24 L191.60 310.69 L190.88 312.13 L190.15 314.31 L190.15 316.48 L190.88 317.93 L192.32 318.65 L193.77 318.65 L195.22 317.93 L197.39 315.75 L198.84 313.58 L200.29 310.69 L201.01 308.51 M194.50 308.51 L195.94 308.51 L196.67 309.24 L197.39 310.69 L198.84 316.48 L199.56 317.93 L200.29 318.65 L201.01 318.65"/>
<path class="ib" d="M117.88 352.25 L117.88 351.45 L118.28 350.65 L118.68 350.25 L119.48 350.25 L119.88 350.65 L120.28 351.45 L120.68 353.05 L120.68 358.65 M117.88 351.45 L118.68 350.65 L119.48 350.65 L120.28 351.45 M123.88 352.25 L123.88 351.45 L123.48 350.65 L123.08 350.25 L122.28 350.25 L121.88 350.65 L121.48 351.45 L121.08 353.05 L121.08 358.65 M123.88 351.45 L123.08 350.65 L122.28 350.65 L121.48 351.45 M119.48 358.65 L122.28 358.65 M126.20 353.93 L132.76 353.93 M126.20 356.17 L132.76 356.17 M137.88 350.25 L136.68 350.65 L135.88 351.85 L135.48 353.85 L135.48 355.05 L135.88 357.05 L136.68 358.25 L137.88 358.65 L138.68 358.65 L139.88 358.25 L140.68 357.05 L141.08 355.05 L141.08 353.85 L140.68 351.85 L139.88 350.65 L138.68 350.25 L137.88 350.25 M144.28 357.85 L143.88 358.25 L144.28 358.65 L144.68 358.25 L144.28 357.85 M149.88 350.25 L148.68 350.65 L147.88 351.85 L147.48 353.85 L147.48 355.05 L147.88 357.05 L148.68 358.25 L149.88 358.65 L150.68 358.65 L151.88 358.25 L152.68 357.05 L153.08 355.05 L153.08 353.85 L152.68 351.85 L151.88 350.65 L150.68 350.25 L149.88 350.25"/>
<path class="ir" d="M173.53 354.25 L172.73 353.45 L171.93 353.05 L170.73 353.05 L169.93 353.45 L169.13 354.25 L168.73 355.45 L168.73 356.25 L169.13 357.45 L169.93 358.25 L170.73 358.65 L171.93 358.65 L172.73 358.25 L173.53 357.45 M175.67 359.69 L179.55 359.69 M181.45 358.01 L181.45 357.77 L181.69 357.29 L181.93 357.05 L182.41 356.81 L183.37 356.81 L183.85 357.05 L184.09 357.29 L184.33 357.77 L184.33 358.25 L184.09 358.73 L183.61 359.45 L181.21 361.85 L184.57 361.85 M186.81 353.93 L193.37 353.93 M186.81 356.17 L193.37 356.17 M196.49 352.25 L196.49 351.85 L196.89 351.05 L197.29 350.65 L198.09 350.25 L199.69 350.25 L200.49 350.65 L200.89 351.05 L201.29 351.85 L201.29 352.65 L200.89 353.45 L200.09 354.65 L196.09 358.65 L201.69 358.65 M204.89 357.85 L204.49 358.25 L204.89 358.65 L205.29 358.25 L204.89 357.85 M210.49 350.25 L209.29 350.65 L208.49 351.85 L208.09 353.85 L208.09 355.05 L208.49 357.05 L209.29 358.25 L210.49 358.65 L211.29 358.65 L212.49 358.25 L213.29 357.05 L213.69 355.05 L213.69 353.85 L213.29 351.85 L212.49 350.65 L211.29 350.25 L210.49 350.25 M218.09 351.12 L218.09 354.58 M216.65 351.99 L219.53 353.71 M219.53 351.99 L216.65 353.71 M228.23 350.25 L231.43 358.65 M234.63 350.25 L231.43 358.65 M235.49 358.01 L235.49 357.77 L235.73 357.29 L235.97 357.05 L236.45 356.81 L237.41 356.81 L237.89 357.05 L238.13 357.29 L238.37 357.77 L238.37 358.25 L238.13 358.73 L237.65 359.45 L235.25 361.85 L238.61 361.85 M241.49 356.81 L240.77 357.05 L240.29 357.77 L240.05 358.97 L240.05 359.69 L240.29 360.89 L240.77 361.61 L241.49 361.85 L241.97 361.85 L242.69 361.61 L243.17 360.89 L243.41 359.69 L243.41 358.97 L243.17 357.77 L242.69 357.05 L241.97 356.81 L241.49 356.81 M246.29 356.81 L245.57 357.05 L245.09 357.77 L244.85 358.97 L244.85 359.69 L245.09 360.89 L245.57 361.61 L246.29 361.85 L246.77 361.85 L247.49 361.61 L247.97 360.89 L248.21 359.69 L248.21 358.97 L247.97 357.77 L247.49 357.05 L246.77 356.81 L246.29 356.81 M250.45 353.93 L257.01 353.93 M250.45 356.17 L257.01 356.17 M260.13 352.25 L260.13 351.85 L260.53 351.05 L260.93 350.65 L261.73 350.25 L263.33 350.25 L264.13 350.65 L264.53 351.05 L264.93 351.85 L264.93 352.65 L264.53 353.45 L263.73 354.65 L259.73 358.65 L265.33 358.65 M270.13 350.25 L268.93 350.65 L268.13 351.85 L267.73 353.85 L267.73 355.05 L268.13 357.05 L268.93 358.25 L270.13 358.65 L270.93 358.65 L272.13 358.25 L272.93 357.05 L273.33 355.05 L273.33 353.85 L272.93 351.85 L272.13 350.65 L270.93 350.25 L270.13 350.25 M280.53 350.25 L276.53 350.25 L276.13 353.85 L276.53 353.45 L277.73 353.05 L278.93 353.05 L280.13 353.45 L280.93 354.25 L281.33 355.45 L281.33 356.25 L280.93 357.45 L280.13 358.25 L278.93 358.65 L277.73 358.65 L276.53 358.25 L276.13 357.85 L275.73 357.05"/>
<path class="ax" d="M312.08 329.95H515.38V523.35H312.08Z M312.08 465.45H515.38"/>
<path class="ax" d="M324.50 329.95v12.0 M324.50 453.20v24.0 M324.50 523.35v-12.0 M337.21 329.95v5.9 M337.21 459.30v11.8 M337.21 523.35v-5.9 M349.93 329.95v5.9 M349.93 459.30v11.8 M349.93 523.35v-5.9 M362.64 329.95v5.9 M362.64 459.30v11.8 M362.64 523.35v-5.9 M375.36 329.95v12.0 M375.36 453.20v24.0 M375.36 523.35v-12.0 M388.07 329.95v5.9 M388.07 459.30v11.8 M388.07 523.35v-5.9 M400.79 329.95v5.9 M400.79 459.30v11.8 M400.79 523.35v-5.9 M413.50 329.95v5.9 M413.50 459.30v11.8 M413.50 523.35v-5.9 M426.22 329.95v12.0 M426.22 453.20v24.0 M426.22 523.35v-12.0 M438.94 329.95v5.9 M438.94 459.30v11.8 M438.94 523.35v-5.9 M451.65 329.95v5.9 M451.65 459.30v11.8 M451.65 523.35v-5.9 M464.37 329.95v5.9 M464.37 459.30v11.8 M464.37 523.35v-5.9 M477.08 329.95v12.0 M477.08 453.20v24.0 M477.08 523.35v-12.0 M489.79 329.95v5.9 M489.79 459.30v11.8 M489.79 523.35v-5.9 M502.51 329.95v5.9 M502.51 459.30v11.8 M502.51 523.35v-5.9 M312.08 453.93h12.0 M515.38 453.93h-12.0 M312.08 442.66h5.9 M515.38 442.66h-5.9 M312.08 431.39h5.9 M515.38 431.39h-5.9 M312.08 420.12h5.9 M515.38 420.12h-5.9 M312.08 408.85h5.9 M515.38 408.85h-5.9 M312.08 397.57h12.0 M515.38 397.57h-12.0 M312.08 386.30h5.9 M515.38 386.30h-5.9 M312.08 375.03h5.9 M515.38 375.03h-5.9 M312.08 363.76h5.9 M515.38 363.76h-5.9 M312.08 352.49h5.9 M515.38 352.49h-5.9 M312.08 341.22h12.0 M515.38 341.22h-12.0 M312.08 329.95h5.9 M515.38 329.95h-5.9 M312.08 516.08h5.9 M515.38 516.08h-5.9 M312.08 508.81h12.0 M515.38 508.81h-12.0 M312.08 501.54h5.9 M515.38 501.54h-5.9 M312.08 487.01h5.9 M515.38 487.01h-5.9 M312.08 479.74h12.0 M515.38 479.74h-12.0 M312.08 472.47h5.9 M515.38 472.47h-5.9"/>
<path class="zl" d="M312.08 494.27H515.38"/>
<path class="gas" d="M329.59 455.62 L331.41 455.57 L333.24 455.42 L335.07 455.20 L336.90 454.89 L338.73 454.13 L340.56 452.75 L342.39 451.51 L344.22 450.25 L346.04 449.12 L347.87 448.29 L349.70 447.68 L351.53 447.13 L353.36 446.56 L355.19 445.99 L357.02 445.43 L358.84 444.86 L360.67 444.25 L362.50 443.60 L364.33 442.96 L366.16 442.38 L367.99 441.88 L369.82 441.52 L371.65 441.25 L373.47 441.01 L375.30 440.79 L377.13 440.60 L378.96 440.42 L380.79 440.26 L382.62 440.12 L384.45 439.99 L386.27 439.87 L388.10 439.77 L389.93 439.67 L391.76 439.59 L393.59 439.52 L395.42 439.45 L397.25 439.39 L399.08 439.33 L400.90 439.26 L402.73 439.20 L404.56 439.13 L406.39 439.06 L408.22 438.97 L410.05 438.88 L411.88 438.76 L413.71 438.61 L415.53 438.43 L417.36 438.24 L419.19 438.07 L421.02 437.93 L422.85 437.83 L424.68 437.73 L426.51 437.64 L428.33 437.56 L430.16 437.48 L431.99 437.41 L433.82 437.34 L435.65 437.28 L437.48 437.21 L439.31 437.15 L441.14 437.09 L442.96 437.03 L444.79 436.96 L446.62 436.89 L448.45 436.82 L450.28 436.75 L452.11 436.66 L453.94 436.58 L455.76 436.49 L457.59 436.41 L459.42 436.32 L461.25 436.23 L463.08 436.14 L464.91 436.05 L466.74 435.96 L468.57 435.86 L470.39 435.77 L472.22 435.67 L474.05 435.58 L475.88 435.48 L477.71 435.38 L479.54 435.28 L481.37 435.18 L483.19 435.07 L485.02 434.97 L486.85 434.86 L488.68 434.76 L490.51 434.65 L492.34 434.54"/>
<path class="star" d="M329.59 453.93 L331.41 453.93 L333.24 453.93 L335.07 453.93 L336.90 453.93 L338.73 453.93 L340.56 453.93 L342.39 453.93 L344.22 453.93 L346.04 453.93 L347.87 453.93 L349.70 453.93 L351.53 453.93 L353.36 453.93 L355.19 453.93 L357.02 453.93 L358.84 453.93 L360.67 453.93 L362.50 453.93 L364.33 453.93 L366.16 453.93 L367.99 453.93 L369.82 453.93 L371.65 453.93 L373.47 453.93 L375.30 453.93 L377.13 453.93 L378.96 453.93 L380.79 453.93 L382.62 453.93 L384.45 453.93 L386.27 453.93 L388.10 453.93 L389.93 453.93 L391.76 453.93 L393.59 453.93 L395.42 453.93 L397.25 453.93 L399.08 453.93 L400.90 453.93 L402.73 453.93 L404.56 453.93 L406.39 453.93 L408.22 453.93 L410.05 453.93 L411.88 453.93 L413.71 453.93 L415.53 453.93 L417.36 453.93 L419.19 453.93 L421.02 453.93 L422.85 453.93 L424.68 453.93 L426.51 453.93 L428.33 453.93 L430.16 453.93 L431.99 453.93 L433.82 453.93 L435.65 453.93 L437.48 453.93 L439.31 453.93 L441.14 453.93 L442.96 453.93 L444.79 453.93 L446.62 453.93 L448.45 453.93 L450.28 453.93 L452.11 453.93 L453.94 453.93 L455.76 453.93 L457.59 453.93 L459.42 453.93 L461.25 453.93 L463.08 453.93 L464.91 453.93 L466.74 453.93 L468.57 453.93 L470.39 453.93 L472.22 453.93 L474.05 453.93 L475.88 453.93 L477.71 453.93 L479.54 453.93 L481.37 453.93 L483.19 453.93 L485.02 453.93 L486.85 453.93 L488.68 453.93 L490.51 453.93 L492.34 453.93"/>
<path class="h0" d="M329.59 441.53 L331.41 439.95 L333.24 438.41 L335.07 436.93 L336.90 435.48 L338.73 434.07 L340.56 432.71 L342.39 431.41 L344.22 430.17 L346.04 428.98 L347.87 427.85 L349.70 426.73 L351.53 425.61 L353.36 424.51 L355.19 423.45 L357.02 422.44 L358.84 421.50 L360.67 420.65 L362.50 419.88 L364.33 419.18 L366.16 418.52 L367.99 417.90 L369.82 417.31 L371.65 416.73 L373.47 416.14 L375.30 415.56 L377.13 415.01 L378.96 414.47 L380.79 413.89 L382.62 413.26 L384.45 412.61 L386.27 411.95 L388.10 411.32 L389.93 410.71 L391.76 410.11 L393.59 409.54 L395.42 409.01 L397.25 408.55 L399.08 408.12 L400.90 407.69 L402.73 407.22 L404.56 406.69 L406.39 406.12 L408.22 405.55 L410.05 405.03 L411.88 404.55 L413.71 404.10 L415.53 403.65 L417.36 403.18 L419.19 402.69 L421.02 402.20 L422.85 401.69 L424.68 401.19 L426.51 400.68 L428.33 400.17 L430.16 399.66 L431.99 399.16 L433.82 398.66 L435.65 398.17 L437.48 397.70 L439.31 397.22 L441.14 396.75 L442.96 396.28 L444.79 395.82 L446.62 395.37 L448.45 394.93 L450.28 394.50 L452.11 394.09 L453.94 393.70 L455.76 393.32 L457.59 392.96 L459.42 392.60 L461.25 392.24 L463.08 391.88 L464.91 391.51 L466.74 391.13 L468.57 390.75 L470.39 390.36 L472.22 389.97 L474.05 389.58 L475.88 389.19 L477.71 388.79 L479.54 388.40 L481.37 388.01 L483.19 387.62 L485.02 387.22 L486.85 386.83 L488.68 386.44 L490.51 386.03 L492.34 385.63"/>
<path class="h1" d="M329.59 441.03 L331.41 439.38 L333.24 437.37 L335.07 435.09 L336.90 433.11 L338.73 431.39 L340.56 429.92 L342.39 428.59 L344.22 427.38 L346.04 426.27 L347.87 425.18 L349.70 424.12 L351.53 423.08 L353.36 422.11 L355.19 421.17 L357.02 420.27 L358.84 419.40 L360.67 418.59 L362.50 417.81 L364.33 417.07 L366.16 416.33 L367.99 415.60 L369.82 414.84 L371.65 414.09 L373.47 413.34 L375.30 412.60 L377.13 411.87 L378.96 411.16 L380.79 410.45 L382.62 409.76 L384.45 409.08 L386.27 408.40 L388.10 407.74 L389.93 407.09 L391.76 406.45 L393.59 405.82 L395.42 405.20 L397.25 404.59 L399.08 403.99 L400.90 403.40 L402.73 402.82 L404.56 402.26 L406.39 401.71 L408.22 401.16 L410.05 400.64 L411.88 400.12 L413.71 399.63 L415.53 399.15 L417.36 398.69 L419.19 398.22 L421.02 397.76 L422.85 397.29 L424.68 396.83 L426.51 396.37 L428.33 395.92 L430.16 395.48 L431.99 395.04 L433.82 394.61 L435.65 394.18 L437.48 393.76 L439.31 393.34 L441.14 392.93 L442.96 392.53 L444.79 392.14 L446.62 391.75 L448.45 391.37 L450.28 390.99 L452.11 390.63 L453.94 390.26 L455.76 389.91 L457.59 389.56 L459.42 389.21 L461.25 388.88 L463.08 388.54 L464.91 388.22 L466.74 387.89 L468.57 387.58 L470.39 387.26 L472.22 386.96 L474.05 386.65 L475.88 386.36 L477.71 386.07 L479.54 385.78 L481.37 385.50 L483.19 385.22 L485.02 384.94 L486.85 384.68 L488.68 384.41 L490.51 384.15 L492.34 383.90"/>
<path class="mod" d="M329.59 441.14 L331.41 439.47 L333.24 437.44 L335.07 435.13 L336.90 433.13 L338.73 431.40 L340.56 429.89 L342.39 428.47 L344.22 427.13 L346.04 425.85 L347.87 424.64 L349.70 423.47 L351.53 422.34 L353.36 421.26 L355.19 420.22 L357.02 419.21 L358.84 418.23 L360.67 417.28 L362.50 416.36 L364.33 415.47 L366.16 414.60 L367.99 413.75 L369.82 412.92 L371.65 412.12 L373.47 411.33 L375.30 410.56 L377.13 409.81 L378.96 409.07 L380.79 408.35 L382.62 407.65 L384.45 406.96 L386.27 406.28 L388.10 405.62 L389.93 404.97 L391.76 404.33 L393.59 403.71 L395.42 403.09 L397.25 402.49 L399.08 401.90 L400.90 401.32 L402.73 400.74 L404.56 400.18 L406.39 399.63 L408.22 399.09 L410.05 398.55 L411.88 398.03 L413.71 397.51 L415.53 397.00 L417.36 396.50 L419.19 396.01 L421.02 395.52 L422.85 395.05 L424.68 394.58 L426.51 394.11 L428.33 393.66 L430.16 393.21 L431.99 392.77 L433.82 392.33 L435.65 391.90 L437.48 391.48 L439.31 391.06 L441.14 390.65 L442.96 390.25 L444.79 389.85 L446.62 389.46 L448.45 389.07 L450.28 388.69 L452.11 388.31 L453.94 387.94 L455.76 387.58 L457.59 387.22 L459.42 386.86 L461.25 386.51 L463.08 386.17 L464.91 385.83 L466.74 385.49 L468.57 385.16 L470.39 384.83 L472.22 384.51 L474.05 384.20 L475.88 383.88 L477.71 383.58 L479.54 383.27 L481.37 382.97 L483.19 382.68 L485.02 382.39 L486.85 382.10 L488.68 381.82 L490.51 381.54 L492.34 381.26"/>
<path class="eb" d="M329.59 440.52V445.03M327.84 440.52h3.5M327.84 445.03h3.5 M329.59 494.27V500.09M327.84 500.09h3.5M327.84 494.27h3.5 M336.45 441.87V444.12M334.70 441.87h3.5M334.70 444.12h3.5 M336.45 504.45V507.36M334.70 507.36h3.5M334.70 504.45h3.5 M339.76 435.78V438.04M338.01 435.78h3.5M338.01 438.04h3.5 M339.76 501.25V504.16M338.01 504.16h3.5M338.01 501.25h3.5 M343.10 436.12V438.38M341.35 436.12h3.5M341.35 438.38h3.5 M343.10 504.16V507.07M341.35 507.07h3.5M341.35 504.16h3.5 M346.45 436.12V438.38M344.70 436.12h3.5M344.70 438.38h3.5 M346.45 507.50V510.41M344.70 510.41h3.5M344.70 507.50h3.5 M349.79 430.15V432.40M348.04 430.15h3.5M348.04 432.40h3.5 M349.79 502.71V505.61M348.04 505.61h3.5M348.04 502.71h3.5 M353.13 424.51V426.77M351.38 424.51h3.5M351.38 426.77h3.5 M353.13 498.49V501.40M351.38 501.40h3.5M351.38 498.49h3.5 M356.48 424.85V427.10M354.73 424.85h3.5M354.73 427.10h3.5 M356.48 501.03V503.94M354.73 503.94h3.5M354.73 501.03h3.5 M359.82 423.72V425.98M358.07 423.72h3.5M358.07 425.98h3.5 M359.82 501.69V504.60M358.07 504.60h3.5M358.07 501.69h3.5 M363.17 416.96V419.22M361.42 416.96h3.5M361.42 419.22h3.5 M363.17 495.29V498.20M361.42 498.20h3.5M361.42 495.29h3.5 M366.51 416.06V418.31M364.76 416.06h3.5M364.76 418.31h3.5 M366.51 496.02V498.93M364.76 498.93h3.5M364.76 496.02h3.5 M369.85 410.31V413.69M368.10 410.31h3.5M368.10 413.69h3.5 M369.85 491.08V495.44M368.10 495.44h3.5M368.10 491.08h3.5 M373.20 413.81V416.06M371.45 413.81h3.5M371.45 416.06h3.5 M373.20 497.47V500.38M371.45 500.38h3.5M371.45 497.47h3.5 M376.54 411.21V413.47M374.79 411.21h3.5M374.79 413.47h3.5 M376.54 496.46V499.36M374.79 499.36h3.5M374.79 496.46h3.5 M379.89 408.51V411.21M378.14 408.51h3.5M378.14 411.21h3.5 M379.89 495.00V498.49M378.14 498.49h3.5M378.14 495.00h3.5 M383.23 403.66V413.13M381.48 403.66h3.5M381.48 413.13h3.5 M383.23 489.62V501.83M381.48 501.83h3.5M381.48 489.62h3.5 M386.57 387.32V410.31M384.82 387.32h3.5M384.82 410.31h3.5 M386.57 470.00V499.65M384.82 499.65h3.5M384.82 470.00h3.5 M389.92 399.38V402.76M388.17 399.38h3.5M388.17 402.76h3.5 M389.92 487.30V491.66M388.17 491.66h3.5M388.17 487.30h3.5 M393.26 398.25V401.63M391.51 398.25h3.5M391.51 401.63h3.5 M393.26 487.73V492.09M391.51 492.09h3.5M391.51 487.73h3.5 M397.99 395.43V405.58M396.24 395.43h3.5M396.24 405.58h3.5 M397.99 485.99V499.07M396.24 499.07h3.5M396.24 485.99h3.5 M404.71 394.08V403.55M402.96 394.08h3.5M402.96 403.55h3.5 M404.71 486.13V498.35M402.96 498.35h3.5M402.96 486.13h3.5 M411.42 392.84V400.96M409.67 392.84h3.5M409.67 400.96h3.5 M411.42 487.30V497.76M409.67 497.76h3.5M409.67 487.30h3.5 M418.13 390.42V398.19M416.38 390.42h3.5M416.38 398.19h3.5 M418.13 486.50V496.53M416.38 496.53h3.5M416.38 486.50h3.5 M424.85 388.22V395.66M423.10 388.22h3.5M423.10 395.66h3.5 M424.85 486.13V495.73M423.10 495.73h3.5M423.10 486.13h3.5 M431.56 388.22V394.98M429.81 388.22h3.5M429.81 394.98h3.5 M431.56 487.88V496.60M429.81 496.60h3.5M429.81 487.88h3.5 M438.27 385.85V391.71M436.52 385.85h3.5M436.52 391.71h3.5 M438.27 487.15V494.71M436.52 494.71h3.5M436.52 487.15h3.5 M444.99 384.78V390.08M443.24 384.78h3.5M443.24 390.08h3.5 M444.99 487.08V493.91M443.24 493.91h3.5M443.24 487.08h3.5 M451.70 382.92V386.98M449.95 382.92h3.5M449.95 386.98h3.5 M451.70 486.86V492.09M449.95 492.09h3.5M449.95 486.86h3.5 M458.41 381.34V385.40M456.66 381.34h3.5M456.66 385.40h3.5 M458.41 486.86V492.09M456.66 492.09h3.5M456.66 486.86h3.5 M465.13 378.30V384.84M463.38 378.30h3.5M463.38 384.84h3.5 M465.13 484.10V492.53M463.38 492.53h3.5M463.38 484.10h3.5 M471.84 375.48V382.25M470.09 375.48h3.5M470.09 382.25h3.5 M471.84 482.35V491.08M470.09 491.08h3.5M470.09 482.35h3.5 M478.55 375.37V382.81M476.80 375.37h3.5M476.80 382.81h3.5 M478.55 483.95V493.55M476.80 493.55h3.5M476.80 483.95h3.5 M485.27 375.82V382.81M483.52 375.82h3.5M483.52 382.81h3.5 M485.27 486.57V495.58M483.52 495.58h3.5M483.52 486.57h3.5 M491.98 374.81V382.25M490.23 374.81h3.5M490.23 382.25h3.5 M491.98 486.28V495.87M490.23 495.87h3.5M490.23 486.28h3.5"/>
<g class="pt"><circle cx="329.59" cy="442.77" r="1.8"/><circle cx="329.59" cy="497.18" r="1.8"/><circle cx="336.45" cy="443.00" r="1.8"/><circle cx="336.45" cy="505.90" r="1.8"/><circle cx="339.76" cy="436.91" r="1.8"/><circle cx="339.76" cy="502.71" r="1.8"/><circle cx="343.10" cy="437.25" r="1.8"/><circle cx="343.10" cy="505.61" r="1.8"/><circle cx="346.45" cy="437.25" r="1.8"/><circle cx="346.45" cy="508.96" r="1.8"/><circle cx="349.79" cy="431.27" r="1.8"/><circle cx="349.79" cy="504.16" r="1.8"/><circle cx="353.13" cy="425.64" r="1.8"/><circle cx="353.13" cy="499.94" r="1.8"/><circle cx="356.48" cy="425.98" r="1.8"/><circle cx="356.48" cy="502.49" r="1.8"/><circle cx="359.82" cy="424.85" r="1.8"/><circle cx="359.82" cy="503.14" r="1.8"/><circle cx="363.17" cy="418.09" r="1.8"/><circle cx="363.17" cy="496.75" r="1.8"/><circle cx="366.51" cy="417.19" r="1.8"/><circle cx="366.51" cy="497.47" r="1.8"/><circle cx="369.85" cy="412.00" r="1.8"/><circle cx="369.85" cy="493.26" r="1.8"/><circle cx="373.20" cy="414.93" r="1.8"/><circle cx="373.20" cy="498.93" r="1.8"/><circle cx="376.54" cy="412.34" r="1.8"/><circle cx="376.54" cy="497.91" r="1.8"/><circle cx="379.89" cy="409.86" r="1.8"/><circle cx="379.89" cy="496.75" r="1.8"/><circle cx="383.23" cy="408.39" r="1.8"/><circle cx="383.23" cy="495.73" r="1.8"/><circle cx="386.57" cy="398.81" r="1.8"/><circle cx="386.57" cy="484.83" r="1.8"/><circle cx="389.92" cy="401.07" r="1.8"/><circle cx="389.92" cy="489.48" r="1.8"/><circle cx="393.26" cy="399.94" r="1.8"/><circle cx="393.26" cy="489.91" r="1.8"/><circle cx="397.99" cy="400.51" r="1.8"/><circle cx="397.99" cy="492.53" r="1.8"/><circle cx="404.71" cy="398.81" r="1.8"/><circle cx="404.71" cy="492.24" r="1.8"/><circle cx="411.42" cy="396.90" r="1.8"/><circle cx="411.42" cy="492.53" r="1.8"/><circle cx="418.13" cy="394.31" r="1.8"/><circle cx="418.13" cy="491.51" r="1.8"/><circle cx="424.85" cy="391.94" r="1.8"/><circle cx="424.85" cy="490.93" r="1.8"/><circle cx="431.56" cy="391.60" r="1.8"/><circle cx="431.56" cy="492.24" r="1.8"/><circle cx="438.27" cy="388.78" r="1.8"/><circle cx="438.27" cy="490.93" r="1.8"/><circle cx="444.99" cy="387.43" r="1.8"/><circle cx="444.99" cy="490.50" r="1.8"/><circle cx="451.70" cy="384.95" r="1.8"/><circle cx="451.70" cy="489.48" r="1.8"/><circle cx="458.41" cy="383.37" r="1.8"/><circle cx="458.41" cy="489.48" r="1.8"/><circle cx="465.13" cy="381.57" r="1.8"/><circle cx="465.13" cy="488.31" r="1.8"/><circle cx="471.84" cy="378.87" r="1.8"/><circle cx="471.84" cy="486.72" r="1.8"/><circle cx="478.55" cy="379.09" r="1.8"/><circle cx="478.55" cy="488.75" r="1.8"/><circle cx="485.27" cy="379.32" r="1.8"/><circle cx="485.27" cy="491.08" r="1.8"/><circle cx="491.98" cy="378.53" r="1.8"/><circle cx="491.98" cy="491.08" r="1.8"/></g>
<path class="tk" d="M325.94 308.51 L327.29 308.51 L328.63 309.96 L332.67 322.27 L334.02 323.72 L335.37 323.72 M336.04 308.51 L335.37 309.96 L334.02 312.13 L327.29 320.10 L325.94 322.27 L325.27 323.72 M339.00 305.00 L339.00 304.57 L339.43 303.70 L339.86 303.26 L340.73 302.83 L342.47 302.83 L343.34 303.26 L343.77 303.70 L344.21 304.57 L344.21 305.43 L343.77 306.30 L342.91 307.61 L338.56 311.95 L344.64 311.95 M338.61 319.58 L338.61 324.85 M338.61 321.84 L338.99 320.71 L339.74 319.96 L340.50 319.58 L341.63 319.58 M346.35 310.11 L358.22 310.11 M346.35 314.16 L358.22 314.16 M364.59 303.45 L372.56 303.45 L368.21 309.24 L370.38 309.24 L371.83 309.96 L372.56 310.69 L373.28 312.86 L373.28 314.31 L372.56 316.48 L371.11 317.93 L368.94 318.65 L366.76 318.65 L364.59 317.93 L363.87 317.20 L363.14 315.75 M379.07 317.20 L378.35 317.93 L379.07 318.65 L379.80 317.93 L379.07 317.20 M395.00 303.45 L387.76 318.65 M384.86 303.45 L395.00 303.45"/>
<path class="tr" d="M420.84 310.11 L432.71 310.11 M420.84 314.16 L432.71 314.16 M439.80 306.34 L441.25 305.62 L443.42 303.45 L443.42 318.65 M483.00 303.45 L477.20 318.65 M483.00 303.45 L488.79 318.65 M479.38 313.58 L486.62 313.58 M502.54 307.07 L501.82 305.62 L500.37 304.17 L498.92 303.45 L496.03 303.45 L494.58 304.17 L493.13 305.62 L492.41 307.07 L491.68 309.24 L491.68 312.86 L492.41 315.03 L493.13 316.48 L494.58 317.93 L496.03 318.65 L498.92 318.65 L500.37 317.93 L501.82 316.48 L502.54 315.03"/><path class="tr" style="stroke-width:1.75" d="M407.50 308.51 L406.05 309.24 L404.60 310.69 L403.88 312.13 L403.15 314.31 L403.15 316.48 L403.88 317.93 L405.32 318.65 L406.77 318.65 L408.22 317.93 L410.39 315.75 L411.84 313.58 L413.29 310.69 L414.01 308.51 M407.50 308.51 L408.94 308.51 L409.67 309.24 L410.39 310.69 L411.84 316.48 L412.56 317.93 L413.29 318.65 L414.01 318.65"/>
<path class="ib" d="M330.88 352.25 L330.88 351.45 L331.28 350.65 L331.68 350.25 L332.48 350.25 L332.88 350.65 L333.28 351.45 L333.68 353.05 L333.68 358.65 M330.88 351.45 L331.68 350.65 L332.48 350.65 L333.28 351.45 M336.88 352.25 L336.88 351.45 L336.48 350.65 L336.08 350.25 L335.28 350.25 L334.88 350.65 L334.48 351.45 L334.08 353.05 L334.08 358.65 M336.88 351.45 L336.08 350.65 L335.28 350.65 L334.48 351.45 M332.48 358.65 L335.28 358.65 M339.20 353.93 L345.76 353.93 M339.20 356.17 L345.76 356.17 M350.88 350.25 L349.68 350.65 L348.88 351.85 L348.48 353.85 L348.48 355.05 L348.88 357.05 L349.68 358.25 L350.88 358.65 L351.68 358.65 L352.88 358.25 L353.68 357.05 L354.08 355.05 L354.08 353.85 L353.68 351.85 L352.88 350.65 L351.68 350.25 L350.88 350.25 M357.28 357.85 L356.88 358.25 L357.28 358.65 L357.68 358.25 L357.28 357.85 M362.88 350.25 L361.68 350.65 L360.88 351.85 L360.48 353.85 L360.48 355.05 L360.88 357.05 L361.68 358.25 L362.88 358.65 L363.68 358.65 L364.88 358.25 L365.68 357.05 L366.08 355.05 L366.08 353.85 L365.68 351.85 L364.88 350.65 L363.68 350.25 L362.88 350.25"/>
<path class="ir" d="M386.53 354.25 L385.73 353.45 L384.93 353.05 L383.73 353.05 L382.93 353.45 L382.13 354.25 L381.73 355.45 L381.73 356.25 L382.13 357.45 L382.93 358.25 L383.73 358.65 L384.93 358.65 L385.73 358.25 L386.53 357.45 M388.67 359.69 L392.55 359.69 M394.45 358.01 L394.45 357.77 L394.69 357.29 L394.93 357.05 L395.41 356.81 L396.37 356.81 L396.85 357.05 L397.09 357.29 L397.33 357.77 L397.33 358.25 L397.09 358.73 L396.61 359.45 L394.21 361.85 L397.57 361.85 M399.81 353.93 L406.37 353.93 M399.81 356.17 L406.37 356.17 M409.49 352.25 L409.49 351.85 L409.89 351.05 L410.29 350.65 L411.09 350.25 L412.69 350.25 L413.49 350.65 L413.89 351.05 L414.29 351.85 L414.29 352.65 L413.89 353.45 L413.09 354.65 L409.09 358.65 L414.69 358.65 M417.89 357.85 L417.49 358.25 L417.89 358.65 L418.29 358.25 L417.89 357.85 M423.49 350.25 L422.29 350.65 L421.49 351.85 L421.09 353.85 L421.09 355.05 L421.49 357.05 L422.29 358.25 L423.49 358.65 L424.29 358.65 L425.49 358.25 L426.29 357.05 L426.69 355.05 L426.69 353.85 L426.29 351.85 L425.49 350.65 L424.29 350.25 L423.49 350.25 M431.09 351.12 L431.09 354.58 M429.65 351.99 L432.53 353.71 M432.53 351.99 L429.65 353.71 M441.23 350.25 L444.43 358.65 M447.63 350.25 L444.43 358.65 M448.49 358.01 L448.49 357.77 L448.73 357.29 L448.97 357.05 L449.45 356.81 L450.41 356.81 L450.89 357.05 L451.13 357.29 L451.37 357.77 L451.37 358.25 L451.13 358.73 L450.65 359.45 L448.25 361.85 L451.61 361.85 M454.49 356.81 L453.77 357.05 L453.29 357.77 L453.05 358.97 L453.05 359.69 L453.29 360.89 L453.77 361.61 L454.49 361.85 L454.97 361.85 L455.69 361.61 L456.17 360.89 L456.41 359.69 L456.41 358.97 L456.17 357.77 L455.69 357.05 L454.97 356.81 L454.49 356.81 M459.29 356.81 L458.57 357.05 L458.09 357.77 L457.85 358.97 L457.85 359.69 L458.09 360.89 L458.57 361.61 L459.29 361.85 L459.77 361.85 L460.49 361.61 L460.97 360.89 L461.21 359.69 L461.21 358.97 L460.97 357.77 L460.49 357.05 L459.77 356.81 L459.29 356.81 M463.45 353.93 L470.01 353.93 M463.45 356.17 L470.01 356.17 M473.93 351.85 L474.73 351.45 L475.93 350.25 L475.93 358.65 M486.33 350.25 L482.33 358.65 M480.73 350.25 L486.33 350.25 M490.73 350.25 L489.53 350.65 L489.13 351.45 L489.13 352.25 L489.53 353.05 L490.33 353.45 L491.93 353.85 L493.13 354.25 L493.93 355.05 L494.33 355.85 L494.33 357.05 L493.93 357.85 L493.53 358.25 L492.33 358.65 L490.73 358.65 L489.53 358.25 L489.13 357.85 L488.73 357.05 L488.73 355.85 L489.13 355.05 L489.93 354.25 L491.13 353.85 L492.73 353.45 L493.53 353.05 L493.93 352.25 L493.93 351.45 L493.53 350.65 L492.33 350.25 L490.73 350.25"/>
<path class="ax" d="M525.19 329.95H728.46V523.35H525.19Z M525.19 465.45H728.46"/>
<path class="ax" d="M537.60 329.95v12.0 M537.60 453.20v24.0 M537.60 523.35v-12.0 M550.32 329.95v5.9 M550.32 459.30v11.8 M550.32 523.35v-5.9 M563.03 329.95v5.9 M563.03 459.30v11.8 M563.03 523.35v-5.9 M575.75 329.95v5.9 M575.75 459.30v11.8 M575.75 523.35v-5.9 M588.46 329.95v12.0 M588.46 453.20v24.0 M588.46 523.35v-12.0 M601.18 329.95v5.9 M601.18 459.30v11.8 M601.18 523.35v-5.9 M613.89 329.95v5.9 M613.89 459.30v11.8 M613.89 523.35v-5.9 M626.61 329.95v5.9 M626.61 459.30v11.8 M626.61 523.35v-5.9 M639.32 329.95v12.0 M639.32 453.20v24.0 M639.32 523.35v-12.0 M652.04 329.95v5.9 M652.04 459.30v11.8 M652.04 523.35v-5.9 M664.75 329.95v5.9 M664.75 459.30v11.8 M664.75 523.35v-5.9 M677.47 329.95v5.9 M677.47 459.30v11.8 M677.47 523.35v-5.9 M690.18 329.95v12.0 M690.18 453.20v24.0 M690.18 523.35v-12.0 M702.89 329.95v5.9 M702.89 459.30v11.8 M702.89 523.35v-5.9 M715.61 329.95v5.9 M715.61 459.30v11.8 M715.61 523.35v-5.9 M525.19 453.93h12.0 M728.46 453.93h-12.0 M525.19 442.66h5.9 M728.46 442.66h-5.9 M525.19 431.39h5.9 M728.46 431.39h-5.9 M525.19 420.12h5.9 M728.46 420.12h-5.9 M525.19 408.85h5.9 M728.46 408.85h-5.9 M525.19 397.57h12.0 M728.46 397.57h-12.0 M525.19 386.30h5.9 M728.46 386.30h-5.9 M525.19 375.03h5.9 M728.46 375.03h-5.9 M525.19 363.76h5.9 M728.46 363.76h-5.9 M525.19 352.49h5.9 M728.46 352.49h-5.9 M525.19 341.22h12.0 M728.46 341.22h-12.0 M525.19 329.95h5.9 M728.46 329.95h-5.9 M525.19 516.08h5.9 M728.46 516.08h-5.9 M525.19 508.81h12.0 M728.46 508.81h-12.0 M525.19 501.54h5.9 M728.46 501.54h-5.9 M525.19 487.01h5.9 M728.46 487.01h-5.9 M525.19 479.74h12.0 M728.46 479.74h-12.0 M525.19 472.47h5.9 M728.46 472.47h-5.9"/>
<path class="zl" d="M525.19 494.27H728.46"/>
<path class="gas" d="M542.69 455.62 L544.51 455.57 L546.34 455.42 L548.17 455.20 L550.00 454.89 L551.83 454.13 L553.66 452.75 L555.49 451.51 L557.32 450.25 L559.14 449.12 L560.97 448.29 L562.80 447.68 L564.63 447.13 L566.46 446.56 L568.29 445.99 L570.12 445.43 L571.94 444.86 L573.77 444.25 L575.60 443.60 L577.43 442.96 L579.26 442.38 L581.09 441.88 L582.92 441.52 L584.75 441.25 L586.57 441.01 L588.40 440.79 L590.23 440.60 L592.06 440.42 L593.89 440.26 L595.72 440.12 L597.55 439.99 L599.37 439.87 L601.20 439.77 L603.03 439.67 L604.86 439.59 L606.69 439.52 L608.52 439.45 L610.35 439.39 L612.18 439.33 L614.00 439.26 L615.83 439.20 L617.66 439.13 L619.49 439.06 L621.32 438.97 L623.15 438.88 L624.98 438.76 L626.81 438.61 L628.63 438.43 L630.46 438.24 L632.29 438.07 L634.12 437.93 L635.95 437.83 L637.78 437.73 L639.61 437.64 L641.43 437.56 L643.26 437.48 L645.09 437.41 L646.92 437.34 L648.75 437.28 L650.58 437.21 L652.41 437.15 L654.24 437.09 L656.06 437.03 L657.89 436.96 L659.72 436.89 L661.55 436.82 L663.38 436.75 L665.21 436.66 L667.04 436.58 L668.86 436.49 L670.69 436.41 L672.52 436.32 L674.35 436.23 L676.18 436.14 L678.01 436.05 L679.84 435.96 L681.67 435.86 L683.49 435.77 L685.32 435.67 L687.15 435.58 L688.98 435.48 L690.81 435.38 L692.64 435.28 L694.47 435.18 L696.29 435.07 L698.12 434.97 L699.95 434.86 L701.78 434.76 L703.61 434.65 L705.44 434.54"/>
<path class="star" d="M542.69 451.34 L544.51 450.32 L546.34 449.33 L548.17 448.37 L550.00 447.43 L551.83 446.51 L553.66 445.62 L555.49 444.74 L557.32 443.86 L559.14 442.99 L560.97 442.15 L562.80 441.38 L564.63 440.68 L566.46 440.00 L568.29 439.41 L570.12 438.94 L571.94 438.57 L573.77 438.25 L575.60 437.98 L577.43 437.75 L579.26 437.54 L581.09 437.36 L582.92 437.19 L584.75 437.04 L586.57 436.90 L588.40 436.76 L590.23 436.61 L592.06 436.47 L593.89 436.36 L595.72 436.27 L597.55 436.23 L599.37 436.24 L601.20 436.26 L603.03 436.29 L604.86 436.33 L606.69 436.37 L608.52 436.43 L610.35 436.49 L612.18 436.61 L614.00 436.77 L615.83 436.96 L617.66 437.15 L619.49 437.32 L621.32 437.46 L623.15 437.59 L624.98 437.72 L626.81 437.84 L628.63 437.96 L630.46 438.08 L632.29 438.20 L634.12 438.33 L635.95 438.47 L637.78 438.61 L639.61 438.75 L641.43 438.90 L643.26 439.05 L645.09 439.20 L646.92 439.35 L648.75 439.50 L650.58 439.65 L652.41 439.80 L654.24 439.95 L656.06 440.10 L657.89 440.24 L659.72 440.39 L661.55 440.54 L663.38 440.68 L665.21 440.82 L667.04 440.96 L668.86 441.10 L670.69 441.25 L672.52 441.38 L674.35 441.50 L676.18 441.61 L678.01 441.69 L679.84 441.76 L681.67 441.82 L683.49 441.88 L685.32 441.93 L687.15 441.98 L688.98 442.04 L690.81 442.10 L692.64 442.16 L694.47 442.24 L696.29 442.33 L698.12 442.43 L699.95 442.53 L701.78 442.64 L703.61 442.76 L705.44 442.88"/>
<path class="h0" d="M542.69 440.57 L544.51 438.65 L546.34 436.44 L548.17 434.04 L550.00 431.99 L551.83 430.26 L553.66 428.80 L555.49 427.53 L557.32 426.42 L559.14 425.43 L560.97 424.48 L562.80 423.56 L564.63 422.67 L566.46 421.84 L568.29 421.03 L570.12 420.23 L571.94 419.44 L573.77 418.68 L575.60 417.96 L577.43 417.27 L579.26 416.58 L581.09 415.90 L582.92 415.20 L584.75 414.50 L586.57 413.82 L588.40 413.16 L590.23 412.52 L592.06 411.89 L593.89 411.28 L595.72 410.67 L597.55 410.06 L599.37 409.46 L601.20 408.87 L603.03 408.29 L604.86 407.72 L606.69 407.17 L608.52 406.63 L610.35 406.10 L612.18 405.58 L614.00 405.05 L615.83 404.53 L617.66 404.02 L619.49 403.54 L621.32 403.09 L623.15 402.65 L624.98 402.24 L626.81 401.85 L628.63 401.47 L630.46 401.11 L632.29 400.76 L634.12 400.40 L635.95 400.04 L637.78 399.68 L639.61 399.33 L641.43 398.98 L643.26 398.64 L645.09 398.31 L646.92 397.98 L648.75 397.66 L650.58 397.34 L652.41 397.03 L654.24 396.72 L656.06 396.42 L657.89 396.13 L659.72 395.84 L661.55 395.56 L663.38 395.29 L665.21 395.02 L667.04 394.76 L668.86 394.50 L670.69 394.25 L672.52 394.00 L674.35 393.76 L676.18 393.52 L678.01 393.30 L679.84 393.07 L681.67 392.86 L683.49 392.65 L685.32 392.44 L687.15 392.23 L688.98 392.03 L690.81 391.82 L692.64 391.62 L694.47 391.42 L696.29 391.22 L698.12 391.02 L699.95 390.82 L701.78 390.62 L703.61 390.42 L705.44 390.22"/>
<path class="mod" d="M542.69 440.43 L544.51 438.32 L546.34 435.91 L548.17 433.31 L550.00 431.07 L551.83 429.12 L553.66 427.44 L555.49 425.87 L557.32 424.41 L559.14 423.02 L560.97 421.72 L562.80 420.48 L564.63 419.30 L566.46 418.18 L568.29 417.11 L570.12 416.08 L571.94 415.10 L573.77 414.16 L575.60 413.25 L577.43 412.38 L579.26 411.54 L581.09 410.73 L582.92 409.95 L584.75 409.20 L586.57 408.48 L588.40 407.78 L590.23 407.10 L592.06 406.45 L593.89 405.82 L595.72 405.21 L597.55 404.62 L599.37 404.05 L601.20 403.50 L603.03 402.96 L604.86 402.44 L606.69 401.94 L608.52 401.46 L610.35 400.99 L612.18 400.53 L614.00 400.09 L615.83 399.66 L617.66 399.24 L619.49 398.83 L621.32 398.43 L623.15 398.05 L624.98 397.67 L626.81 397.31 L628.63 396.95 L630.46 396.60 L632.29 396.26 L634.12 395.92 L635.95 395.60 L637.78 395.28 L639.61 394.97 L641.43 394.66 L643.26 394.36 L645.09 394.07 L646.92 393.78 L648.75 393.50 L650.58 393.22 L652.41 392.95 L654.24 392.68 L656.06 392.42 L657.89 392.16 L659.72 391.90 L661.55 391.65 L663.38 391.40 L665.21 391.16 L667.04 390.92 L668.86 390.68 L670.69 390.45 L672.52 390.22 L674.35 389.99 L676.18 389.76 L678.01 389.54 L679.84 389.32 L681.67 389.10 L683.49 388.89 L685.32 388.67 L687.15 388.46 L688.98 388.25 L690.81 388.04 L692.64 387.83 L694.47 387.63 L696.29 387.42 L698.12 387.22 L699.95 387.02 L701.78 386.82 L703.61 386.62 L705.44 386.43"/>
<path class="eb" d="M542.69 440.52V445.03M540.94 440.52h3.5M540.94 445.03h3.5 M542.69 495.37V501.18M540.94 501.18h3.5M540.94 495.37h3.5 M549.55 441.87V444.12M547.80 441.87h3.5M547.80 444.12h3.5 M549.55 506.92V509.83M547.80 509.83h3.5M547.80 506.92h3.5 M552.86 435.78V438.04M551.11 435.78h3.5M551.11 438.04h3.5 M552.86 503.72V506.63M551.11 506.63h3.5M551.11 503.72h3.5 M556.20 436.12V438.38M554.45 436.12h3.5M554.45 438.38h3.5 M556.20 507.50V510.41M554.45 510.41h3.5M554.45 507.50h3.5 M559.55 436.12V438.38M557.80 436.12h3.5M557.80 438.38h3.5 M559.55 511.36V514.26M557.80 514.26h3.5M557.80 511.36h3.5 M562.89 430.15V432.40M561.14 430.15h3.5M561.14 432.40h3.5 M562.89 506.92V509.83M561.14 509.83h3.5M561.14 506.92h3.5 M566.23 424.51V426.77M564.48 424.51h3.5M564.48 426.77h3.5 M566.23 502.27V505.18M564.48 505.18h3.5M564.48 502.27h3.5 M569.58 424.85V427.10M567.83 424.85h3.5M567.83 427.10h3.5 M569.58 504.89V507.79M567.83 507.79h3.5M567.83 504.89h3.5 M572.92 423.72V425.98M571.17 423.72h3.5M571.17 425.98h3.5 M572.92 505.90V508.81M571.17 508.81h3.5M571.17 505.90h3.5 M576.27 416.96V419.22M574.52 416.96h3.5M574.52 419.22h3.5 M576.27 499.51V502.42M574.52 502.42h3.5M574.52 499.51h3.5 M579.61 416.06V418.31M577.86 416.06h3.5M577.86 418.31h3.5 M579.61 500.24V503.14M577.86 503.14h3.5M577.86 500.24h3.5 M582.95 410.31V413.69M581.20 410.31h3.5M581.20 413.69h3.5 M582.95 495.73V500.09M581.20 500.09h3.5M581.20 495.73h3.5 M586.30 413.81V416.06M584.55 413.81h3.5M584.55 416.06h3.5 M586.30 501.69V504.60M584.55 504.60h3.5M584.55 501.69h3.5 M589.64 411.21V413.47M587.89 411.21h3.5M587.89 413.47h3.5 M589.64 499.94V502.85M587.89 502.85h3.5M587.89 499.94h3.5 M592.99 408.51V411.21M591.24 408.51h3.5M591.24 411.21h3.5 M592.99 498.20V501.69M591.24 501.69h3.5M591.24 498.20h3.5 M596.33 403.66V413.13M594.58 403.66h3.5M594.58 413.13h3.5 M596.33 492.39V504.60M594.58 504.60h3.5M594.58 492.39h3.5 M599.67 387.32V410.31M597.92 387.32h3.5M597.92 410.31h3.5 M599.67 472.47V502.13M597.92 502.13h3.5M597.92 472.47h3.5 M603.02 399.38V402.76M601.27 399.38h3.5M601.27 402.76h3.5 M603.02 489.33V493.69M601.27 493.69h3.5M601.27 489.33h3.5 M606.36 398.25V401.63M604.61 398.25h3.5M604.61 401.63h3.5 M606.36 489.77V494.13M604.61 494.13h3.5M604.61 489.77h3.5 M611.09 395.43V405.58M609.34 395.43h3.5M609.34 405.58h3.5 M611.09 487.52V500.60M609.34 500.60h3.5M609.34 487.52h3.5 M617.81 394.08V403.55M616.06 394.08h3.5M616.06 403.55h3.5 M617.81 487.15V499.36M616.06 499.36h3.5M616.06 487.15h3.5 M624.52 392.84V400.96M622.77 392.84h3.5M622.77 400.96h3.5 M624.52 487.73V498.20M622.77 498.20h3.5M622.77 487.73h3.5 M631.23 390.42V398.19M629.48 390.42h3.5M629.48 398.19h3.5 M631.23 486.50V496.53M629.48 496.53h3.5M629.48 486.50h3.5 M637.95 388.22V395.66M636.20 388.22h3.5M636.20 395.66h3.5 M637.95 485.26V494.86M636.20 494.86h3.5M636.20 485.26h3.5 M644.66 388.22V394.98M642.91 388.22h3.5M642.91 394.98h3.5 M644.66 486.57V495.29M642.91 495.29h3.5M642.91 486.57h3.5 M651.37 385.85V391.71M649.62 385.85h3.5M649.62 391.71h3.5 M651.37 484.97V492.53M649.62 492.53h3.5M649.62 484.97h3.5 M658.09 384.78V390.08M656.34 384.78h3.5M656.34 390.08h3.5 M658.09 483.88V490.71M656.34 490.71h3.5M656.34 483.88h3.5 M664.80 382.92V386.98M663.05 382.92h3.5M663.05 386.98h3.5 M664.80 483.08V488.31M663.05 488.31h3.5M663.05 483.08h3.5 M671.51 381.34V385.40M669.76 381.34h3.5M669.76 385.40h3.5 M671.51 482.64V487.88M669.76 487.88h3.5M669.76 482.64h3.5 M678.23 378.30V384.84M676.48 378.30h3.5M676.48 384.84h3.5 M678.23 479.88V488.31M676.48 488.31h3.5M676.48 479.88h3.5 M684.94 375.48V382.25M683.19 375.48h3.5M683.19 382.25h3.5 M684.94 477.27V485.99M683.19 485.99h3.5M683.19 477.27h3.5 M691.65 375.37V382.81M689.90 375.37h3.5M689.90 382.81h3.5 M691.65 478.28V487.88M689.90 487.88h3.5M689.90 478.28h3.5 M698.37 375.82V382.81M696.62 375.82h3.5M696.62 382.81h3.5 M698.37 480.03V489.04M696.62 489.04h3.5M696.62 480.03h3.5 M705.08 374.81V382.25M703.33 374.81h3.5M703.33 382.25h3.5 M705.08 479.30V488.90M703.33 488.90h3.5M703.33 479.30h3.5"/>
<g class="pt"><circle cx="542.69" cy="442.77" r="1.8"/><circle cx="542.69" cy="498.27" r="1.8"/><circle cx="549.55" cy="443.00" r="1.8"/><circle cx="549.55" cy="508.38" r="1.8"/><circle cx="552.86" cy="436.91" r="1.8"/><circle cx="552.86" cy="505.18" r="1.8"/><circle cx="556.20" cy="437.25" r="1.8"/><circle cx="556.20" cy="508.96" r="1.8"/><circle cx="559.55" cy="437.25" r="1.8"/><circle cx="559.55" cy="512.81" r="1.8"/><circle cx="562.89" cy="431.27" r="1.8"/><circle cx="562.89" cy="508.38" r="1.8"/><circle cx="566.23" cy="425.64" r="1.8"/><circle cx="566.23" cy="503.72" r="1.8"/><circle cx="569.58" cy="425.98" r="1.8"/><circle cx="569.58" cy="506.34" r="1.8"/><circle cx="572.92" cy="424.85" r="1.8"/><circle cx="572.92" cy="507.36" r="1.8"/><circle cx="576.27" cy="418.09" r="1.8"/><circle cx="576.27" cy="500.96" r="1.8"/><circle cx="579.61" cy="417.19" r="1.8"/><circle cx="579.61" cy="501.69" r="1.8"/><circle cx="582.95" cy="412.00" r="1.8"/><circle cx="582.95" cy="497.91" r="1.8"/><circle cx="586.30" cy="414.93" r="1.8"/><circle cx="586.30" cy="503.14" r="1.8"/><circle cx="589.64" cy="412.34" r="1.8"/><circle cx="589.64" cy="501.40" r="1.8"/><circle cx="592.99" cy="409.86" r="1.8"/><circle cx="592.99" cy="499.94" r="1.8"/><circle cx="596.33" cy="408.39" r="1.8"/><circle cx="596.33" cy="498.49" r="1.8"/><circle cx="599.67" cy="398.81" r="1.8"/><circle cx="599.67" cy="487.30" r="1.8"/><circle cx="603.02" cy="401.07" r="1.8"/><circle cx="603.02" cy="491.51" r="1.8"/><circle cx="606.36" cy="399.94" r="1.8"/><circle cx="606.36" cy="491.95" r="1.8"/><circle cx="611.09" cy="400.51" r="1.8"/><circle cx="611.09" cy="494.06" r="1.8"/><circle cx="617.81" cy="398.81" r="1.8"/><circle cx="617.81" cy="493.26" r="1.8"/><circle cx="624.52" cy="396.90" r="1.8"/><circle cx="624.52" cy="492.97" r="1.8"/><circle cx="631.23" cy="394.31" r="1.8"/><circle cx="631.23" cy="491.51" r="1.8"/><circle cx="637.95" cy="391.94" r="1.8"/><circle cx="637.95" cy="490.06" r="1.8"/><circle cx="644.66" cy="391.60" r="1.8"/><circle cx="644.66" cy="490.93" r="1.8"/><circle cx="651.37" cy="388.78" r="1.8"/><circle cx="651.37" cy="488.75" r="1.8"/><circle cx="658.09" cy="387.43" r="1.8"/><circle cx="658.09" cy="487.30" r="1.8"/><circle cx="664.80" cy="384.95" r="1.8"/><circle cx="664.80" cy="485.70" r="1.8"/><circle cx="671.51" cy="383.37" r="1.8"/><circle cx="671.51" cy="485.26" r="1.8"/><circle cx="678.23" cy="381.57" r="1.8"/><circle cx="678.23" cy="484.10" r="1.8"/><circle cx="684.94" cy="378.87" r="1.8"/><circle cx="684.94" cy="481.63" r="1.8"/><circle cx="691.65" cy="379.09" r="1.8"/><circle cx="691.65" cy="483.08" r="1.8"/><circle cx="698.37" cy="379.32" r="1.8"/><circle cx="698.37" cy="484.53" r="1.8"/><circle cx="705.08" cy="378.53" r="1.8"/><circle cx="705.08" cy="484.10" r="1.8"/></g>
<path class="tk" d="M539.04 308.51 L540.39 308.51 L541.73 309.96 L545.77 322.27 L547.12 323.72 L548.47 323.72 M549.14 308.51 L548.47 309.96 L547.12 312.13 L540.39 320.10 L539.04 322.27 L538.37 323.72 M552.10 305.00 L552.10 304.57 L552.53 303.70 L552.96 303.26 L553.83 302.83 L555.57 302.83 L556.44 303.26 L556.87 303.70 L557.31 304.57 L557.31 305.43 L556.87 306.30 L556.01 307.61 L551.66 311.95 L557.74 311.95 M551.71 319.58 L551.71 324.85 M551.71 321.84 L552.09 320.71 L552.84 319.96 L553.60 319.58 L554.73 319.58 M559.45 310.11 L571.32 310.11 M559.45 314.16 L571.32 314.16 M586.38 303.45 L579.14 318.65 M576.24 303.45 L586.38 303.45 M592.17 317.20 L591.45 317.93 L592.17 318.65 L592.90 317.93 L592.17 317.20 M608.10 303.45 L600.86 318.65 M597.96 303.45 L608.10 303.45"/>
<path class="tr" d="M633.95 310.11 L645.82 310.11 M633.95 314.16 L645.82 314.16 M652.91 306.34 L654.36 305.62 L656.53 303.45 L656.53 318.65 M679.14 303.45 L679.14 318.65 M679.14 303.45 L689.27 318.65 M689.27 303.45 L689.27 318.65 M698.68 303.45 L692.89 318.65 M698.68 303.45 L704.48 318.65 M695.06 313.58 L702.30 313.58 M718.23 307.07 L717.51 305.62 L716.06 304.17 L714.61 303.45 L711.72 303.45 L710.27 304.17 L708.82 305.62 L708.10 307.07 L707.37 309.24 L707.37 312.86 L708.10 315.03 L708.82 316.48 L710.27 317.93 L711.72 318.65 L714.61 318.65 L716.06 317.93 L717.51 316.48 L718.23 315.03 M729.82 305.62 L729.82 318.65 M723.30 312.13 L736.33 312.13"/><path class="tr" style="stroke-width:1.75" d="M620.61 308.51 L619.16 309.24 L617.71 310.69 L616.99 312.13 L616.26 314.31 L616.26 316.48 L616.99 317.93 L618.43 318.65 L619.88 318.65 L621.33 317.93 L623.50 315.75 L624.95 313.58 L626.40 310.69 L627.12 308.51 M620.61 308.51 L622.05 308.51 L622.78 309.24 L623.50 310.69 L624.95 316.48 L625.67 317.93 L626.40 318.65 L627.12 318.65"/>
<path class="ib" d="M543.99 352.25 L543.99 351.45 L544.39 350.65 L544.79 350.25 L545.59 350.25 L545.99 350.65 L546.39 351.45 L546.79 353.05 L546.79 358.65 M543.99 351.45 L544.79 350.65 L545.59 350.65 L546.39 351.45 M549.99 352.25 L549.99 351.45 L549.59 350.65 L549.19 350.25 L548.39 350.25 L547.99 350.65 L547.59 351.45 L547.19 353.05 L547.19 358.65 M549.99 351.45 L549.19 350.65 L548.39 350.65 L547.59 351.45 M545.59 358.65 L548.39 358.65 M552.31 353.93 L558.87 353.93 M552.31 356.17 L558.87 356.17 M563.99 350.25 L562.79 350.65 L561.99 351.85 L561.59 353.85 L561.59 355.05 L561.99 357.05 L562.79 358.25 L563.99 358.65 L564.79 358.65 L565.99 358.25 L566.79 357.05 L567.19 355.05 L567.19 353.85 L566.79 351.85 L565.99 350.65 L564.79 350.25 L563.99 350.25 M570.39 357.85 L569.99 358.25 L570.39 358.65 L570.79 358.25 L570.39 357.85 M579.19 350.25 L575.19 358.65 M573.59 350.25 L579.19 350.25 M583.59 351.12 L583.59 354.58 M582.15 351.99 L585.03 353.71 M585.03 351.99 L582.15 353.71"/>
<path class="ir" d="M599.64 354.25 L598.84 353.45 L598.04 353.05 L596.84 353.05 L596.04 353.45 L595.24 354.25 L594.84 355.45 L594.84 356.25 L595.24 357.45 L596.04 358.25 L596.84 358.65 L598.04 358.65 L598.84 358.25 L599.64 357.45 M601.78 359.69 L605.66 359.69 M607.56 358.01 L607.56 357.77 L607.80 357.29 L608.04 357.05 L608.52 356.81 L609.48 356.81 L609.96 357.05 L610.20 357.29 L610.44 357.77 L610.44 358.25 L610.20 358.73 L609.72 359.45 L607.32 361.85 L610.68 361.85 M612.92 353.93 L619.48 353.93 M612.92 356.17 L619.48 356.17 M627.40 351.45 L627.00 350.65 L625.80 350.25 L625.00 350.25 L623.80 350.65 L623.00 351.85 L622.60 353.85 L622.60 355.85 L623.00 357.45 L623.80 358.25 L625.00 358.65 L625.40 358.65 L626.60 358.25 L627.40 357.45 L627.80 356.25 L627.80 355.85 L627.40 354.65 L626.60 353.85 L625.40 353.45 L625.00 353.45 L623.80 353.85 L623.00 354.65 L622.60 355.85 M631.00 357.85 L630.60 358.25 L631.00 358.65 L631.40 358.25 L631.00 357.85 M636.60 350.25 L635.40 350.65 L634.60 351.85 L634.20 353.85 L634.20 355.05 L634.60 357.05 L635.40 358.25 L636.60 358.65 L637.40 358.65 L638.60 358.25 L639.40 357.05 L639.80 355.05 L639.80 353.85 L639.40 351.85 L638.60 350.65 L637.40 350.25 L636.60 350.25 M644.20 351.12 L644.20 354.58 M642.76 351.99 L645.64 353.71 M645.64 351.99 L642.76 353.71 M654.34 350.25 L657.54 358.65 M660.74 350.25 L657.54 358.65 M661.60 358.01 L661.60 357.77 L661.84 357.29 L662.08 357.05 L662.56 356.81 L663.52 356.81 L664.00 357.05 L664.24 357.29 L664.48 357.77 L664.48 358.25 L664.24 358.73 L663.76 359.45 L661.36 361.85 L664.72 361.85 M667.60 356.81 L666.88 357.05 L666.40 357.77 L666.16 358.97 L666.16 359.69 L666.40 360.89 L666.88 361.61 L667.60 361.85 L668.08 361.85 L668.80 361.61 L669.28 360.89 L669.52 359.69 L669.52 358.97 L669.28 357.77 L668.80 357.05 L668.08 356.81 L667.60 356.81 M672.40 356.81 L671.68 357.05 L671.20 357.77 L670.96 358.97 L670.96 359.69 L671.20 360.89 L671.68 361.61 L672.40 361.85 L672.88 361.85 L673.60 361.61 L674.08 360.89 L674.32 359.69 L674.32 358.97 L674.08 357.77 L673.60 357.05 L672.88 356.81 L672.40 356.81 M676.56 353.93 L683.12 353.93 M676.56 356.17 L683.12 356.17 M691.04 351.45 L690.64 350.65 L689.44 350.25 L688.64 350.25 L687.44 350.65 L686.64 351.85 L686.24 353.85 L686.24 355.85 L686.64 357.45 L687.44 358.25 L688.64 358.65 L689.04 358.65 L690.24 358.25 L691.04 357.45 L691.44 356.25 L691.44 355.85 L691.04 354.65 L690.24 353.85 L689.04 353.45 L688.64 353.45 L687.44 353.85 L686.64 354.65 L686.24 355.85 M699.44 350.25 L695.44 358.65 M693.84 350.25 L699.44 350.25"/>
<path class="ax" d="M738.05 329.95H941.34V523.35H738.05Z M738.05 465.45H941.34"/>
<path class="ax" d="M750.65 329.95v12.0 M750.65 453.20v24.0 M750.65 523.35v-12.0 M763.37 329.95v5.9 M763.37 459.30v11.8 M763.37 523.35v-5.9 M776.08 329.95v5.9 M776.08 459.30v11.8 M776.08 523.35v-5.9 M788.79 329.95v5.9 M788.79 459.30v11.8 M788.79 523.35v-5.9 M801.51 329.95v12.0 M801.51 453.20v24.0 M801.51 523.35v-12.0 M814.23 329.95v5.9 M814.23 459.30v11.8 M814.23 523.35v-5.9 M826.94 329.95v5.9 M826.94 459.30v11.8 M826.94 523.35v-5.9 M839.65 329.95v5.9 M839.65 459.30v11.8 M839.65 523.35v-5.9 M852.37 329.95v12.0 M852.37 453.20v24.0 M852.37 523.35v-12.0 M865.09 329.95v5.9 M865.09 459.30v11.8 M865.09 523.35v-5.9 M877.80 329.95v5.9 M877.80 459.30v11.8 M877.80 523.35v-5.9 M890.51 329.95v5.9 M890.51 459.30v11.8 M890.51 523.35v-5.9 M903.23 329.95v12.0 M903.23 453.20v24.0 M903.23 523.35v-12.0 M915.94 329.95v5.9 M915.94 459.30v11.8 M915.94 523.35v-5.9 M928.66 329.95v5.9 M928.66 459.30v11.8 M928.66 523.35v-5.9 M738.05 453.93h12.0 M941.34 453.93h-12.0 M738.05 442.66h5.9 M941.34 442.66h-5.9 M738.05 431.39h5.9 M941.34 431.39h-5.9 M738.05 420.12h5.9 M941.34 420.12h-5.9 M738.05 408.85h5.9 M941.34 408.85h-5.9 M738.05 397.57h12.0 M941.34 397.57h-12.0 M738.05 386.30h5.9 M941.34 386.30h-5.9 M738.05 375.03h5.9 M941.34 375.03h-5.9 M738.05 363.76h5.9 M941.34 363.76h-5.9 M738.05 352.49h5.9 M941.34 352.49h-5.9 M738.05 341.22h12.0 M941.34 341.22h-12.0 M738.05 329.95h5.9 M941.34 329.95h-5.9 M738.05 516.08h5.9 M941.34 516.08h-5.9 M738.05 508.81h12.0 M941.34 508.81h-12.0 M738.05 501.54h5.9 M941.34 501.54h-5.9 M738.05 487.01h5.9 M941.34 487.01h-5.9 M738.05 479.74h12.0 M941.34 479.74h-12.0 M738.05 472.47h5.9 M941.34 472.47h-5.9"/>
<path class="zl" d="M738.05 494.27H941.34"/>
<path class="gas" d="M755.74 455.62 L757.56 455.57 L759.39 455.42 L761.22 455.20 L763.05 454.89 L764.88 454.13 L766.71 452.75 L768.54 451.51 L770.37 450.25 L772.19 449.12 L774.02 448.29 L775.85 447.68 L777.68 447.13 L779.51 446.56 L781.34 445.99 L783.17 445.43 L784.99 444.86 L786.82 444.25 L788.65 443.60 L790.48 442.96 L792.31 442.38 L794.14 441.88 L795.97 441.52 L797.80 441.25 L799.62 441.01 L801.45 440.79 L803.28 440.60 L805.11 440.42 L806.94 440.26 L808.77 440.12 L810.60 439.99 L812.42 439.87 L814.25 439.77 L816.08 439.67 L817.91 439.59 L819.74 439.52 L821.57 439.45 L823.40 439.39 L825.23 439.33 L827.05 439.26 L828.88 439.20 L830.71 439.13 L832.54 439.06 L834.37 438.97 L836.20 438.88 L838.03 438.76 L839.86 438.61 L841.68 438.43 L843.51 438.24 L845.34 438.07 L847.17 437.93 L849.00 437.83 L850.83 437.73 L852.66 437.64 L854.48 437.56 L856.31 437.48 L858.14 437.41 L859.97 437.34 L861.80 437.28 L863.63 437.21 L865.46 437.15 L867.29 437.09 L869.11 437.03 L870.94 436.96 L872.77 436.89 L874.60 436.82 L876.43 436.75 L878.26 436.66 L880.09 436.58 L881.91 436.49 L883.74 436.41 L885.57 436.32 L887.40 436.23 L889.23 436.14 L891.06 436.05 L892.89 435.96 L894.72 435.86 L896.54 435.77 L898.37 435.67 L900.20 435.58 L902.03 435.48 L903.86 435.38 L905.69 435.28 L907.52 435.18 L909.34 435.07 L911.17 434.97 L913.00 434.86 L914.83 434.76 L916.66 434.65 L918.49 434.54"/>
<path class="star" d="M755.74 451.34 L757.56 450.32 L759.39 449.33 L761.22 448.37 L763.05 447.43 L764.88 446.51 L766.71 445.62 L768.54 444.74 L770.37 443.86 L772.19 442.99 L774.02 442.15 L775.85 441.38 L777.68 440.68 L779.51 440.00 L781.34 439.41 L783.17 438.94 L784.99 438.57 L786.82 438.25 L788.65 437.98 L790.48 437.75 L792.31 437.54 L794.14 437.36 L795.97 437.19 L797.80 437.04 L799.62 436.90 L801.45 436.76 L803.28 436.61 L805.11 436.47 L806.94 436.36 L808.77 436.27 L810.60 436.23 L812.42 436.24 L814.25 436.26 L816.08 436.29 L817.91 436.33 L819.74 436.37 L821.57 436.43 L823.40 436.49 L825.23 436.61 L827.05 436.77 L828.88 436.96 L830.71 437.15 L832.54 437.32 L834.37 437.46 L836.20 437.59 L838.03 437.72 L839.86 437.84 L841.68 437.96 L843.51 438.08 L845.34 438.20 L847.17 438.33 L849.00 438.47 L850.83 438.61 L852.66 438.75 L854.48 438.90 L856.31 439.05 L858.14 439.20 L859.97 439.35 L861.80 439.50 L863.63 439.65 L865.46 439.80 L867.29 439.95 L869.11 440.10 L870.94 440.24 L872.77 440.39 L874.60 440.54 L876.43 440.68 L878.26 440.82 L880.09 440.96 L881.91 441.10 L883.74 441.25 L885.57 441.38 L887.40 441.50 L889.23 441.61 L891.06 441.69 L892.89 441.76 L894.72 441.82 L896.54 441.88 L898.37 441.93 L900.20 441.98 L902.03 442.04 L903.86 442.10 L905.69 442.16 L907.52 442.24 L909.34 442.33 L911.17 442.43 L913.00 442.53 L914.83 442.64 L916.66 442.76 L918.49 442.88"/>
<path class="h0" d="M755.74 440.97 L757.56 439.51 L759.39 438.06 L761.22 436.61 L763.05 435.12 L764.88 433.58 L766.71 432.19 L768.54 431.08 L770.37 430.13 L772.19 429.27 L774.02 428.39 L775.85 427.46 L777.68 426.48 L779.51 425.53 L781.34 424.64 L783.17 423.86 L784.99 423.19 L786.82 422.59 L788.65 422.02 L790.48 421.48 L792.31 420.94 L794.14 420.39 L795.97 419.80 L797.80 419.21 L799.62 418.63 L801.45 418.09 L803.28 417.61 L805.11 417.16 L806.94 416.72 L808.77 416.25 L810.60 415.73 L812.42 415.18 L814.25 414.65 L816.08 414.18 L817.91 413.75 L819.74 413.36 L821.57 412.99 L823.40 412.65 L825.23 412.33 L827.05 412.03 L828.88 411.72 L830.71 411.39 L832.54 411.04 L834.37 410.68 L836.20 410.31 L838.03 409.93 L839.86 409.56 L841.68 409.19 L843.51 408.82 L845.34 408.47 L847.17 408.13 L849.00 407.81 L850.83 407.52 L852.66 407.22 L854.48 406.94 L856.31 406.67 L858.14 406.40 L859.97 406.14 L861.80 405.89 L863.63 405.64 L865.46 405.40 L867.29 405.17 L869.11 404.94 L870.94 404.72 L872.77 404.50 L874.60 404.29 L876.43 404.08 L878.26 403.88 L880.09 403.69 L881.91 403.50 L883.74 403.31 L885.57 403.12 L887.40 402.94 L889.23 402.76 L891.06 402.58 L892.89 402.41 L894.72 402.23 L896.54 402.06 L898.37 401.89 L900.20 401.72 L902.03 401.55 L903.86 401.39 L905.69 401.23 L907.52 401.07 L909.34 400.91 L911.17 400.76 L913.00 400.60 L914.83 400.46 L916.66 400.31 L918.49 400.17"/>
<path class="h1" d="M755.74 438.80 L757.56 436.50 L759.39 433.99 L761.22 431.39 L763.05 429.18 L764.88 427.33 L766.71 425.78 L768.54 424.44 L770.37 423.28 L772.19 422.25 L774.02 421.28 L775.85 420.36 L777.68 419.49 L779.51 418.69 L781.34 417.92 L783.17 417.17 L784.99 416.45 L786.82 415.76 L788.65 415.11 L790.48 414.50 L792.31 413.90 L794.14 413.32 L795.97 412.72 L797.80 412.13 L799.62 411.55 L801.45 411.00 L803.28 410.48 L805.11 409.97 L806.94 409.47 L808.77 408.99 L810.60 408.50 L812.42 408.02 L814.25 407.55 L816.08 407.10 L817.91 406.66 L819.74 406.23 L821.57 405.82 L823.40 405.42 L825.23 405.02 L827.05 404.61 L828.88 404.22 L830.71 403.84 L832.54 403.49 L834.37 403.16 L836.20 402.85 L838.03 402.56 L839.86 402.30 L841.68 402.05 L843.51 401.82 L845.34 401.58 L847.17 401.35 L849.00 401.11 L850.83 400.88 L852.66 400.66 L854.48 400.43 L856.31 400.22 L858.14 400.00 L859.97 399.80 L861.80 399.60 L863.63 399.40 L865.46 399.21 L867.29 399.03 L869.11 398.85 L870.94 398.68 L872.77 398.51 L874.60 398.35 L876.43 398.19 L878.26 398.05 L880.09 397.90 L881.91 397.76 L883.74 397.62 L885.57 397.49 L887.40 397.37 L889.23 397.25 L891.06 397.14 L892.89 397.04 L894.72 396.94 L896.54 396.84 L898.37 396.75 L900.20 396.66 L902.03 396.57 L903.86 396.48 L905.69 396.39 L907.52 396.30 L909.34 396.21 L911.17 396.13 L913.00 396.04 L914.83 395.95 L916.66 395.86 L918.49 395.77"/>
<path class="mod" d="M755.74 438.67 L757.56 436.21 L759.39 433.53 L761.22 430.75 L763.05 428.36 L764.88 426.31 L766.71 424.56 L768.54 422.95 L770.37 421.46 L772.19 420.07 L774.02 418.77 L775.85 417.55 L777.68 416.41 L779.51 415.33 L781.34 414.30 L783.17 413.34 L784.99 412.42 L786.82 411.54 L788.65 410.71 L790.48 409.92 L792.31 409.16 L794.14 408.44 L795.97 407.75 L797.80 407.10 L799.62 406.47 L801.45 405.87 L803.28 405.29 L805.11 404.74 L806.94 404.21 L808.77 403.71 L810.60 403.22 L812.42 402.76 L814.25 402.32 L816.08 401.89 L817.91 401.49 L819.74 401.10 L821.57 400.72 L823.40 400.37 L825.23 400.02 L827.05 399.69 L828.88 399.38 L830.71 399.07 L832.54 398.78 L834.37 398.50 L836.20 398.23 L838.03 397.97 L839.86 397.72 L841.68 397.48 L843.51 397.24 L845.34 397.02 L847.17 396.80 L849.00 396.59 L850.83 396.39 L852.66 396.19 L854.48 396.00 L856.31 395.82 L858.14 395.64 L859.97 395.47 L861.80 395.30 L863.63 395.14 L865.46 394.98 L867.29 394.83 L869.11 394.68 L870.94 394.53 L872.77 394.39 L874.60 394.25 L876.43 394.12 L878.26 393.99 L880.09 393.86 L881.91 393.73 L883.74 393.61 L885.57 393.49 L887.40 393.38 L889.23 393.26 L891.06 393.15 L892.89 393.04 L894.72 392.93 L896.54 392.82 L898.37 392.72 L900.20 392.61 L902.03 392.51 L903.86 392.41 L905.69 392.31 L907.52 392.21 L909.34 392.11 L911.17 392.02 L913.00 391.92 L914.83 391.83 L916.66 391.73 L918.49 391.64"/>
<path class="eb" d="M755.74 440.52V445.03M753.99 440.52h3.5M753.99 445.03h3.5 M755.74 497.69V503.51M753.99 503.51h3.5M753.99 497.69h3.5 M762.60 441.87V444.12M760.85 441.87h3.5M760.85 444.12h3.5 M762.60 510.12V513.03M760.85 513.03h3.5M760.85 510.12h3.5 M765.91 435.78V438.04M764.16 435.78h3.5M764.16 438.04h3.5 M765.91 507.50V510.41M764.16 510.41h3.5M764.16 507.50h3.5 M769.25 436.12V438.38M767.50 436.12h3.5M767.50 438.38h3.5 M769.25 511.57V514.48M767.50 514.48h3.5M767.50 511.57h3.5 M772.60 436.12V438.38M770.85 436.12h3.5M770.85 438.38h3.5 M772.60 514.92V517.83M770.85 517.83h3.5M770.85 514.92h3.5 M775.94 430.15V432.40M774.19 430.15h3.5M774.19 432.40h3.5 M775.94 510.56V513.46M774.19 513.46h3.5M774.19 510.56h3.5 M779.28 424.51V426.77M777.53 424.51h3.5M777.53 426.77h3.5 M779.28 506.49V509.39M777.53 509.39h3.5M777.53 506.49h3.5 M782.63 424.85V427.10M780.88 424.85h3.5M780.88 427.10h3.5 M782.63 508.38V511.28M780.88 511.28h3.5M780.88 508.38h3.5 M785.97 423.72V425.98M784.22 423.72h3.5M784.22 425.98h3.5 M785.97 509.39V512.30M784.22 512.30h3.5M784.22 509.39h3.5 M789.32 416.96V419.22M787.57 416.96h3.5M787.57 419.22h3.5 M789.32 502.71V505.61M787.57 505.61h3.5M787.57 502.71h3.5 M792.66 416.06V418.31M790.91 416.06h3.5M790.91 418.31h3.5 M792.66 503.14V506.05M790.91 506.05h3.5M790.91 503.14h3.5 M796.00 410.31V413.69M794.25 410.31h3.5M794.25 413.69h3.5 M796.00 498.20V502.56M794.25 502.56h3.5M794.25 498.20h3.5 M799.35 413.81V416.06M797.60 413.81h3.5M797.60 416.06h3.5 M799.35 503.72V506.63M797.60 506.63h3.5M797.60 503.72h3.5 M802.69 411.21V413.47M800.94 411.21h3.5M800.94 413.47h3.5 M802.69 502.27V505.18M800.94 505.18h3.5M800.94 502.27h3.5 M806.04 408.51V411.21M804.29 408.51h3.5M804.29 411.21h3.5 M806.04 500.38V503.87M804.29 503.87h3.5M804.29 500.38h3.5 M809.38 403.66V413.13M807.63 403.66h3.5M807.63 413.13h3.5 M809.38 494.27V506.49M807.63 506.49h3.5M807.63 494.27h3.5 M812.72 387.32V410.31M810.97 387.32h3.5M810.97 410.31h3.5 M812.72 474.65V504.31M810.97 504.31h3.5M810.97 474.65h3.5 M816.07 399.38V402.76M814.32 399.38h3.5M814.32 402.76h3.5 M816.07 491.08V495.44M814.32 495.44h3.5M814.32 491.08h3.5 M819.41 398.25V401.63M817.66 398.25h3.5M817.66 401.63h3.5 M819.41 491.08V495.44M817.66 495.44h3.5M817.66 491.08h3.5 M824.14 395.43V405.58M822.39 395.43h3.5M822.39 405.58h3.5 M824.14 488.61V501.69M822.39 501.69h3.5M822.39 488.61h3.5 M830.86 394.08V403.55M829.11 394.08h3.5M829.11 403.55h3.5 M830.86 487.15V499.36M829.11 499.36h3.5M829.11 487.15h3.5 M837.57 392.84V400.96M835.82 392.84h3.5M835.82 400.96h3.5 M837.57 487.30V497.76M835.82 497.76h3.5M835.82 487.30h3.5 M844.28 390.42V398.19M842.53 390.42h3.5M842.53 398.19h3.5 M844.28 485.48V495.51M842.53 495.51h3.5M842.53 485.48h3.5 M851.00 388.22V395.66M849.25 388.22h3.5M849.25 395.66h3.5 M851.00 483.52V493.11M849.25 493.11h3.5M849.25 483.52h3.5 M857.71 388.22V394.98M855.96 388.22h3.5M855.96 394.98h3.5 M857.71 484.39V493.11M855.96 493.11h3.5M855.96 484.39h3.5 M864.42 385.85V391.71M862.67 385.85h3.5M862.67 391.71h3.5 M864.42 482.50V490.06M862.67 490.06h3.5M862.67 482.50h3.5 M871.14 384.78V390.08M869.39 384.78h3.5M869.39 390.08h3.5 M871.14 481.12V487.95M869.39 487.95h3.5M869.39 481.12h3.5 M877.85 382.92V386.98M876.10 382.92h3.5M876.10 386.98h3.5 M877.85 479.45V484.68M876.10 484.68h3.5M876.10 479.45h3.5 M884.56 381.34V385.40M882.81 381.34h3.5M882.81 385.40h3.5 M884.56 478.43V483.66M882.81 483.66h3.5M882.81 478.43h3.5 M891.28 378.30V384.84M889.53 378.30h3.5M889.53 384.84h3.5 M891.28 475.09V483.52M889.53 483.52h3.5M889.53 475.09h3.5 M897.99 375.48V382.25M896.24 375.48h3.5M896.24 382.25h3.5 M897.99 472.03V480.76M896.24 480.76h3.5M896.24 472.03h3.5 M904.70 375.37V382.81M902.95 375.37h3.5M902.95 382.81h3.5 M904.70 472.61V482.21M902.95 482.21h3.5M902.95 472.61h3.5 M911.42 375.82V382.81M909.67 375.82h3.5M909.67 382.81h3.5 M911.42 473.92V482.94M909.67 482.94h3.5M909.67 473.92h3.5 M918.13 374.81V382.25M916.38 374.81h3.5M916.38 382.25h3.5 M918.13 472.61V482.21M916.38 482.21h3.5M916.38 472.61h3.5"/>
<g class="pt"><circle cx="755.74" cy="442.77" r="1.8"/><circle cx="755.74" cy="500.60" r="1.8"/><circle cx="762.60" cy="443.00" r="1.8"/><circle cx="762.60" cy="511.57" r="1.8"/><circle cx="765.91" cy="436.91" r="1.8"/><circle cx="765.91" cy="508.96" r="1.8"/><circle cx="769.25" cy="437.25" r="1.8"/><circle cx="769.25" cy="513.03" r="1.8"/><circle cx="772.60" cy="437.25" r="1.8"/><circle cx="772.60" cy="516.37" r="1.8"/><circle cx="775.94" cy="431.27" r="1.8"/><circle cx="775.94" cy="512.01" r="1.8"/><circle cx="779.28" cy="425.64" r="1.8"/><circle cx="779.28" cy="507.94" r="1.8"/><circle cx="782.63" cy="425.98" r="1.8"/><circle cx="782.63" cy="509.83" r="1.8"/><circle cx="785.97" cy="424.85" r="1.8"/><circle cx="785.97" cy="510.85" r="1.8"/><circle cx="789.32" cy="418.09" r="1.8"/><circle cx="789.32" cy="504.16" r="1.8"/><circle cx="792.66" cy="417.19" r="1.8"/><circle cx="792.66" cy="504.60" r="1.8"/><circle cx="796.00" cy="412.00" r="1.8"/><circle cx="796.00" cy="500.38" r="1.8"/><circle cx="799.35" cy="414.93" r="1.8"/><circle cx="799.35" cy="505.18" r="1.8"/><circle cx="802.69" cy="412.34" r="1.8"/><circle cx="802.69" cy="503.72" r="1.8"/><circle cx="806.04" cy="409.86" r="1.8"/><circle cx="806.04" cy="502.13" r="1.8"/><circle cx="809.38" cy="408.39" r="1.8"/><circle cx="809.38" cy="500.38" r="1.8"/><circle cx="812.72" cy="398.81" r="1.8"/><circle cx="812.72" cy="489.48" r="1.8"/><circle cx="816.07" cy="401.07" r="1.8"/><circle cx="816.07" cy="493.26" r="1.8"/><circle cx="819.41" cy="399.94" r="1.8"/><circle cx="819.41" cy="493.26" r="1.8"/><circle cx="824.14" cy="400.51" r="1.8"/><circle cx="824.14" cy="495.15" r="1.8"/><circle cx="830.86" cy="398.81" r="1.8"/><circle cx="830.86" cy="493.26" r="1.8"/><circle cx="837.57" cy="396.90" r="1.8"/><circle cx="837.57" cy="492.53" r="1.8"/><circle cx="844.28" cy="394.31" r="1.8"/><circle cx="844.28" cy="490.50" r="1.8"/><circle cx="851.00" cy="391.94" r="1.8"/><circle cx="851.00" cy="488.31" r="1.8"/><circle cx="857.71" cy="391.60" r="1.8"/><circle cx="857.71" cy="488.75" r="1.8"/><circle cx="864.42" cy="388.78" r="1.8"/><circle cx="864.42" cy="486.28" r="1.8"/><circle cx="871.14" cy="387.43" r="1.8"/><circle cx="871.14" cy="484.53" r="1.8"/><circle cx="877.85" cy="384.95" r="1.8"/><circle cx="877.85" cy="482.06" r="1.8"/><circle cx="884.56" cy="383.37" r="1.8"/><circle cx="884.56" cy="481.05" r="1.8"/><circle cx="891.28" cy="381.57" r="1.8"/><circle cx="891.28" cy="479.30" r="1.8"/><circle cx="897.99" cy="378.87" r="1.8"/><circle cx="897.99" cy="476.39" r="1.8"/><circle cx="904.70" cy="379.09" r="1.8"/><circle cx="904.70" cy="477.41" r="1.8"/><circle cx="911.42" cy="379.32" r="1.8"/><circle cx="911.42" cy="478.43" r="1.8"/><circle cx="918.13" cy="378.53" r="1.8"/><circle cx="918.13" cy="477.41" r="1.8"/></g>
<path class="tk" d="M752.09 308.51 L753.44 308.51 L754.78 309.96 L758.82 322.27 L760.17 323.72 L761.52 323.72 M762.19 308.51 L761.52 309.96 L760.17 312.13 L753.44 320.10 L752.09 322.27 L751.42 323.72 M765.15 305.00 L765.15 304.57 L765.58 303.70 L766.01 303.26 L766.88 302.83 L768.62 302.83 L769.49 303.26 L769.92 303.70 L770.36 304.57 L770.36 305.43 L769.92 306.30 L769.06 307.61 L764.71 311.95 L770.79 311.95 M764.76 319.58 L764.76 324.85 M764.76 321.84 L765.14 320.71 L765.89 319.96 L766.65 319.58 L767.78 319.58 M772.50 310.11 L784.37 310.11 M772.50 314.16 L784.37 314.16 M791.47 306.34 L792.91 305.62 L795.09 303.45 L795.09 318.65 M811.01 303.45 L803.77 313.58 L814.63 313.58 M811.01 303.45 L811.01 318.65"/>
<path class="tr" d="M846.81 310.11 L858.68 310.11 M846.81 314.16 L858.68 314.16 M865.77 306.34 L867.22 305.62 L869.39 303.45 L869.39 318.65 M908.97 303.45 L903.17 318.65 M908.97 303.45 L914.76 318.65 M905.35 313.58 L912.59 313.58 M928.51 307.07 L927.79 305.62 L926.34 304.17 L924.89 303.45 L922.00 303.45 L920.55 304.17 L919.10 305.62 L918.38 307.07 L917.65 309.24 L917.65 312.86 L918.38 315.03 L919.10 316.48 L920.55 317.93 L922.00 318.65 L924.89 318.65 L926.34 317.93 L927.79 316.48 L928.51 315.03 M940.10 305.62 L940.10 318.65 M933.58 312.13 L946.61 312.13"/><path class="tr" style="stroke-width:1.75" d="M833.47 308.51 L832.02 309.24 L830.57 310.69 L829.85 312.13 L829.12 314.31 L829.12 316.48 L829.85 317.93 L831.29 318.65 L832.74 318.65 L834.19 317.93 L836.36 315.75 L837.81 313.58 L839.26 310.69 L839.98 308.51 M833.47 308.51 L834.91 308.51 L835.64 309.24 L836.36 310.69 L837.81 316.48 L838.53 317.93 L839.26 318.65 L839.98 318.65"/>
<path class="ib" d="M756.85 352.25 L756.85 351.45 L757.25 350.65 L757.65 350.25 L758.45 350.25 L758.85 350.65 L759.25 351.45 L759.65 353.05 L759.65 358.65 M756.85 351.45 L757.65 350.65 L758.45 350.65 L759.25 351.45 M762.85 352.25 L762.85 351.45 L762.45 350.65 L762.05 350.25 L761.25 350.25 L760.85 350.65 L760.45 351.45 L760.05 353.05 L760.05 358.65 M762.85 351.45 L762.05 350.65 L761.25 350.65 L760.45 351.45 M758.45 358.65 L761.25 358.65 M765.17 353.93 L771.73 353.93 M765.17 356.17 L771.73 356.17 M776.85 350.25 L775.65 350.65 L774.85 351.85 L774.45 353.85 L774.45 355.05 L774.85 357.05 L775.65 358.25 L776.85 358.65 L777.65 358.65 L778.85 358.25 L779.65 357.05 L780.05 355.05 L780.05 353.85 L779.65 351.85 L778.85 350.65 L777.65 350.25 L776.85 350.25 M783.25 357.85 L782.85 358.25 L783.25 358.65 L783.65 358.25 L783.25 357.85 M792.05 350.25 L788.05 358.65 M786.45 350.25 L792.05 350.25 M796.45 351.12 L796.45 354.58 M795.01 351.99 L797.89 353.71 M797.89 351.99 L795.01 353.71"/>
<path class="ir" d="M812.50 354.25 L811.70 353.45 L810.90 353.05 L809.70 353.05 L808.90 353.45 L808.10 354.25 L807.70 355.45 L807.70 356.25 L808.10 357.45 L808.90 358.25 L809.70 358.65 L810.90 358.65 L811.70 358.25 L812.50 357.45 M814.64 359.69 L818.52 359.69 M820.42 358.01 L820.42 357.77 L820.66 357.29 L820.90 357.05 L821.38 356.81 L822.34 356.81 L822.82 357.05 L823.06 357.29 L823.30 357.77 L823.30 358.25 L823.06 358.73 L822.58 359.45 L820.18 361.85 L823.54 361.85 M825.78 353.93 L832.34 353.93 M825.78 356.17 L832.34 356.17 M840.26 351.45 L839.86 350.65 L838.66 350.25 L837.86 350.25 L836.66 350.65 L835.86 351.85 L835.46 353.85 L835.46 355.85 L835.86 357.45 L836.66 358.25 L837.86 358.65 L838.26 358.65 L839.46 358.25 L840.26 357.45 L840.66 356.25 L840.66 355.85 L840.26 354.65 L839.46 353.85 L838.26 353.45 L837.86 353.45 L836.66 353.85 L835.86 354.65 L835.46 355.85 M843.86 357.85 L843.46 358.25 L843.86 358.65 L844.26 358.25 L843.86 357.85 M849.46 350.25 L848.26 350.65 L847.46 351.85 L847.06 353.85 L847.06 355.05 L847.46 357.05 L848.26 358.25 L849.46 358.65 L850.26 358.65 L851.46 358.25 L852.26 357.05 L852.66 355.05 L852.66 353.85 L852.26 351.85 L851.46 350.65 L850.26 350.25 L849.46 350.25 M857.06 351.12 L857.06 354.58 M855.62 351.99 L858.50 353.71 M858.50 351.99 L855.62 353.71 M867.20 350.25 L870.40 358.65 M873.60 350.25 L870.40 358.65 M874.46 358.01 L874.46 357.77 L874.70 357.29 L874.94 357.05 L875.42 356.81 L876.38 356.81 L876.86 357.05 L877.10 357.29 L877.34 357.77 L877.34 358.25 L877.10 358.73 L876.62 359.45 L874.22 361.85 L877.58 361.85 M880.46 356.81 L879.74 357.05 L879.26 357.77 L879.02 358.97 L879.02 359.69 L879.26 360.89 L879.74 361.61 L880.46 361.85 L880.94 361.85 L881.66 361.61 L882.14 360.89 L882.38 359.69 L882.38 358.97 L882.14 357.77 L881.66 357.05 L880.94 356.81 L880.46 356.81 M885.26 356.81 L884.54 357.05 L884.06 357.77 L883.82 358.97 L883.82 359.69 L884.06 360.89 L884.54 361.61 L885.26 361.85 L885.74 361.85 L886.46 361.61 L886.94 360.89 L887.18 359.69 L887.18 358.97 L886.94 357.77 L886.46 357.05 L885.74 356.81 L885.26 356.81 M889.42 353.93 L895.98 353.93 M889.42 356.17 L895.98 356.17 M903.50 350.25 L899.50 350.25 L899.10 353.85 L899.50 353.45 L900.70 353.05 L901.90 353.05 L903.10 353.45 L903.90 354.25 L904.30 355.45 L904.30 356.25 L903.90 357.45 L903.10 358.25 L901.90 358.65 L900.70 358.65 L899.50 358.25 L899.10 357.85 L898.70 357.05 M907.50 350.25 L911.90 350.25 L909.50 353.45 L910.70 353.45 L911.50 353.85 L911.90 354.25 L912.30 355.45 L912.30 356.25 L911.90 357.45 L911.10 358.25 L909.90 358.65 L908.70 358.65 L907.50 358.25 L907.10 357.85 L906.70 357.05"/>
<path class="tk" d="M438.86 22.56 L438.86 46.50 M438.86 22.56 L455.17 46.50 M455.17 22.56 L455.17 46.50 M480.80 28.26 L479.63 25.98 L477.30 23.70 L474.97 22.56 L470.31 22.56 L467.98 23.70 L465.65 25.98 L464.49 28.26 L463.32 31.68 L463.32 37.38 L464.49 40.80 L465.65 43.08 L467.98 45.36 L470.31 46.50 L474.97 46.50 L477.30 45.36 L479.63 43.08 L480.80 40.80 L480.80 37.38 M474.97 37.38 L480.80 37.38 M505.26 28.26 L504.10 25.98 L501.77 23.70 L499.44 22.56 L494.78 22.56 L492.45 23.70 L490.12 25.98 L488.95 28.26 L487.79 31.68 L487.79 37.38 L488.95 40.80 L490.12 43.08 L492.45 45.36 L494.78 46.50 L499.44 46.50 L501.77 45.36 L504.10 43.08 L505.26 40.80 M533.22 22.56 L546.04 22.56 L539.05 31.68 L542.54 31.68 L544.88 32.82 L546.04 33.96 L547.20 37.38 L547.20 39.66 L546.04 43.08 L543.71 45.36 L540.21 46.50 L536.72 46.50 L533.22 45.36 L532.06 44.22 L530.89 41.94 M557.69 27.12 L560.02 25.98 L563.51 22.56 L563.51 46.50 M584.48 22.56 L580.99 23.70 L578.66 27.12 L577.49 32.82 L577.49 36.24 L578.66 41.94 L580.99 45.36 L584.48 46.50 L586.81 46.50 L590.31 45.36 L592.64 41.94 L593.80 36.24 L593.80 32.82 L592.64 27.12 L590.31 23.70 L586.81 22.56 L584.48 22.56 M615.94 30.54 L614.77 33.96 L612.44 36.24 L608.95 37.38 L607.78 37.38 L604.29 36.24 L601.96 33.96 L600.79 30.54 L600.79 29.40 L601.96 25.98 L604.29 23.70 L607.78 22.56 L608.95 22.56 L612.44 23.70 L614.77 25.98 L615.94 30.54 L615.94 36.24 L614.77 41.94 L612.44 45.36 L608.95 46.50 L606.62 46.50 L603.12 45.36 L601.96 43.08"/>
<path class="tk" d="M81.81 214.68 L80.04 215.27 L78.86 217.04 L78.27 219.99 L78.27 221.76 L78.86 224.71 L80.04 226.48 L81.81 227.07 L82.99 227.07 L84.76 226.48 L85.94 224.71 L86.53 221.76 L86.53 219.99 L85.94 217.04 L84.76 215.27 L82.99 214.68 L81.81 214.68 M73.55 158.33 L67.65 158.33 L67.06 163.64 L67.65 163.05 L69.42 162.46 L71.19 162.46 L72.96 163.05 L74.14 164.23 L74.73 166.00 L74.73 167.18 L74.14 168.95 L72.96 170.13 L71.19 170.72 L69.42 170.72 L67.65 170.13 L67.06 169.54 L66.47 168.36 M81.81 158.33 L80.04 158.92 L78.86 160.69 L78.27 163.64 L78.27 165.41 L78.86 168.36 L80.04 170.13 L81.81 170.72 L82.99 170.72 L84.76 170.13 L85.94 168.36 L86.53 165.41 L86.53 163.64 L85.94 160.69 L84.76 158.92 L82.99 158.33 L81.81 158.33 M56.44 104.34 L57.62 103.75 L59.39 101.98 L59.39 114.37 M70.01 101.98 L68.24 102.57 L67.06 104.34 L66.47 107.29 L66.47 109.06 L67.06 112.01 L68.24 113.78 L70.01 114.37 L71.19 114.37 L72.96 113.78 L74.14 112.01 L74.73 109.06 L74.73 107.29 L74.14 104.34 L72.96 102.57 L71.19 101.98 L70.01 101.98 M81.81 101.98 L80.04 102.57 L78.86 104.34 L78.27 107.29 L78.27 109.06 L78.86 112.01 L80.04 113.78 L81.81 114.37 L82.99 114.37 L84.76 113.78 L85.94 112.01 L86.53 109.06 L86.53 107.29 L85.94 104.34 L84.76 102.57 L82.99 101.98 L81.81 101.98 M72.06 243.57 L73.08 243.06 L74.61 241.53 L74.61 252.24 M83.79 241.53 L82.26 242.04 L81.24 243.57 L80.73 246.12 L80.73 247.65 L81.24 250.20 L82.26 251.73 L83.79 252.24 L84.81 252.24 L86.34 251.73 L87.36 250.20 L87.87 247.65 L87.87 246.12 L87.36 243.57 L86.34 242.04 L84.81 241.53 L83.79 241.53 M83.79 256.07 L82.26 256.58 L81.24 258.11 L80.73 260.66 L80.73 262.19 L81.24 264.74 L82.26 266.27 L83.79 266.78 L84.81 266.78 L86.34 266.27 L87.36 264.74 L87.87 262.19 L87.87 260.66 L87.36 258.11 L86.34 256.58 L84.81 256.07 L83.79 256.07 M58.75 276.73 L67.01 276.73 M72.06 272.65 L73.08 272.14 L74.61 270.61 L74.61 281.32 M83.79 270.61 L82.26 271.12 L81.24 272.65 L80.73 275.20 L80.73 276.73 L81.24 279.28 L82.26 280.81 L83.79 281.32 L84.81 281.32 L86.34 280.81 L87.36 279.28 L87.87 276.73 L87.87 275.20 L87.36 272.65 L86.34 271.12 L84.81 270.61 L83.79 270.61 M81.81 447.23 L80.04 447.82 L78.86 449.59 L78.27 452.54 L78.27 454.31 L78.86 457.26 L80.04 459.03 L81.81 459.62 L82.99 459.62 L84.76 459.03 L85.94 457.26 L86.53 454.31 L86.53 452.54 L85.94 449.59 L84.76 447.82 L82.99 447.23 L81.81 447.23 M73.55 390.88 L67.65 390.88 L67.06 396.19 L67.65 395.60 L69.42 395.01 L71.19 395.01 L72.96 395.60 L74.14 396.78 L74.73 398.55 L74.73 399.73 L74.14 401.50 L72.96 402.68 L71.19 403.27 L69.42 403.27 L67.65 402.68 L67.06 402.09 L66.47 400.91 M81.81 390.88 L80.04 391.47 L78.86 393.24 L78.27 396.19 L78.27 397.96 L78.86 400.91 L80.04 402.68 L81.81 403.27 L82.99 403.27 L84.76 402.68 L85.94 400.91 L86.53 397.96 L86.53 396.19 L85.94 393.24 L84.76 391.47 L82.99 390.88 L81.81 390.88 M56.44 336.89 L57.62 336.30 L59.39 334.53 L59.39 346.92 M70.01 334.53 L68.24 335.12 L67.06 336.89 L66.47 339.84 L66.47 341.61 L67.06 344.56 L68.24 346.33 L70.01 346.92 L71.19 346.92 L72.96 346.33 L74.14 344.56 L74.73 341.61 L74.73 339.84 L74.14 336.89 L72.96 335.12 L71.19 334.53 L70.01 334.53 M81.81 334.53 L80.04 335.12 L78.86 336.89 L78.27 339.84 L78.27 341.61 L78.86 344.56 L80.04 346.33 L81.81 346.92 L82.99 346.92 L84.76 346.33 L85.94 344.56 L86.53 341.61 L86.53 339.84 L85.94 336.89 L84.76 335.12 L82.99 334.53 L81.81 334.53 M72.06 476.12 L73.08 475.61 L74.61 474.08 L74.61 484.79 M83.79 474.08 L82.26 474.59 L81.24 476.12 L80.73 478.67 L80.73 480.20 L81.24 482.75 L82.26 484.28 L83.79 484.79 L84.81 484.79 L86.34 484.28 L87.36 482.75 L87.87 480.20 L87.87 478.67 L87.36 476.12 L86.34 474.59 L84.81 474.08 L83.79 474.08 M83.79 488.62 L82.26 489.13 L81.24 490.66 L80.73 493.21 L80.73 494.74 L81.24 497.29 L82.26 498.82 L83.79 499.33 L84.81 499.33 L86.34 498.82 L87.36 497.29 L87.87 494.74 L87.87 493.21 L87.36 490.66 L86.34 489.13 L84.81 488.62 L83.79 488.62 M58.75 509.28 L67.01 509.28 M72.06 505.20 L73.08 504.69 L74.61 503.16 L74.61 513.87 M83.79 503.16 L82.26 503.67 L81.24 505.20 L80.73 507.75 L80.73 509.28 L81.24 511.83 L82.26 513.36 L83.79 513.87 L84.81 513.87 L86.34 513.36 L87.36 511.83 L87.87 509.28 L87.87 507.75 L87.36 505.20 L86.34 503.67 L84.81 503.16 L83.79 503.16 M110.81 533.86 L109.04 534.45 L107.86 536.22 L107.27 539.17 L107.27 540.94 L107.86 543.89 L109.04 545.66 L110.81 546.25 L111.99 546.25 L113.76 545.66 L114.94 543.89 L115.53 540.94 L115.53 539.17 L114.94 536.22 L113.76 534.45 L111.99 533.86 L110.81 533.86 M158.72 536.81 L158.72 536.22 L159.31 535.04 L159.90 534.45 L161.08 533.86 L163.44 533.86 L164.62 534.45 L165.21 535.04 L165.80 536.22 L165.80 537.40 L165.21 538.58 L164.03 540.35 L158.13 546.25 L166.39 546.25 M214.89 533.86 L208.99 542.12 L217.84 542.12 M214.89 533.86 L214.89 546.25 M267.52 535.63 L266.93 534.45 L265.16 533.86 L263.98 533.86 L262.21 534.45 L261.03 536.22 L260.44 539.17 L260.44 542.12 L261.03 544.48 L262.21 545.66 L263.98 546.25 L264.57 546.25 L266.34 545.66 L267.52 544.48 L268.11 542.71 L268.11 542.12 L267.52 540.35 L266.34 539.17 L264.57 538.58 L263.98 538.58 L262.21 539.17 L261.03 540.35 L260.44 542.12 M323.91 533.86 L322.14 534.45 L320.96 536.22 L320.37 539.17 L320.37 540.94 L320.96 543.89 L322.14 545.66 L323.91 546.25 L325.09 546.25 L326.86 545.66 L328.04 543.89 L328.63 540.94 L328.63 539.17 L328.04 536.22 L326.86 534.45 L325.09 533.86 L323.91 533.86 M371.82 536.81 L371.82 536.22 L372.41 535.04 L373.00 534.45 L374.18 533.86 L376.54 533.86 L377.72 534.45 L378.31 535.04 L378.90 536.22 L378.90 537.40 L378.31 538.58 L377.13 540.35 L371.23 546.25 L379.49 546.25 M427.99 533.86 L422.09 542.12 L430.94 542.12 M427.99 533.86 L427.99 546.25 M480.62 535.63 L480.03 534.45 L478.26 533.86 L477.08 533.86 L475.31 534.45 L474.13 536.22 L473.54 539.17 L473.54 542.12 L474.13 544.48 L475.31 545.66 L477.08 546.25 L477.67 546.25 L479.44 545.66 L480.62 544.48 L481.21 542.71 L481.21 542.12 L480.62 540.35 L479.44 539.17 L477.67 538.58 L477.08 538.58 L475.31 539.17 L474.13 540.35 L473.54 542.12 M537.01 533.86 L535.24 534.45 L534.06 536.22 L533.47 539.17 L533.47 540.94 L534.06 543.89 L535.24 545.66 L537.01 546.25 L538.19 546.25 L539.96 545.66 L541.14 543.89 L541.73 540.94 L541.73 539.17 L541.14 536.22 L539.96 534.45 L538.19 533.86 L537.01 533.86 M584.92 536.81 L584.92 536.22 L585.51 535.04 L586.10 534.45 L587.28 533.86 L589.64 533.86 L590.82 534.45 L591.41 535.04 L592.00 536.22 L592.00 537.40 L591.41 538.58 L590.23 540.35 L584.33 546.25 L592.59 546.25 M641.09 533.86 L635.19 542.12 L644.04 542.12 M641.09 533.86 L641.09 546.25 M693.72 535.63 L693.13 534.45 L691.36 533.86 L690.18 533.86 L688.41 534.45 L687.23 536.22 L686.64 539.17 L686.64 542.12 L687.23 544.48 L688.41 545.66 L690.18 546.25 L690.77 546.25 L692.54 545.66 L693.72 544.48 L694.31 542.71 L694.31 542.12 L693.72 540.35 L692.54 539.17 L690.77 538.58 L690.18 538.58 L688.41 539.17 L687.23 540.35 L686.64 542.12 M750.06 533.86 L748.29 534.45 L747.11 536.22 L746.52 539.17 L746.52 540.94 L747.11 543.89 L748.29 545.66 L750.06 546.25 L751.24 546.25 L753.01 545.66 L754.19 543.89 L754.78 540.94 L754.78 539.17 L754.19 536.22 L753.01 534.45 L751.24 533.86 L750.06 533.86 M797.97 536.81 L797.97 536.22 L798.56 535.04 L799.15 534.45 L800.33 533.86 L802.69 533.86 L803.87 534.45 L804.46 535.04 L805.05 536.22 L805.05 537.40 L804.46 538.58 L803.28 540.35 L797.38 546.25 L805.64 546.25 M854.14 533.86 L848.24 542.12 L857.09 542.12 M854.14 533.86 L854.14 546.25 M906.77 535.63 L906.18 534.45 L904.41 533.86 L903.23 533.86 L901.46 534.45 L900.28 536.22 L899.69 539.17 L899.69 542.12 L900.28 544.48 L901.46 545.66 L903.23 546.25 L903.82 546.25 L905.59 545.66 L906.77 544.48 L907.36 542.71 L907.36 542.12 L906.77 540.35 L905.59 539.17 L903.82 538.58 L903.23 538.58 L901.46 539.17 L900.28 540.35 L899.69 542.12"/>
<path class="tk" d="M150.47 574.40 L150.47 587.70 M150.47 580.10 L151.44 577.25 L153.38 575.35 L155.31 574.40 L158.22 574.40 M178.54 563.95 L178.54 594.35 M178.54 563.95 L185.32 563.95 M178.54 594.35 L185.32 594.35 M192.10 567.75 L192.10 587.70 M201.78 574.40 L192.10 583.90 M195.97 580.10 L202.74 587.70 M208.55 574.40 L208.55 594.35 M208.55 577.25 L210.49 575.35 L212.42 574.40 L215.33 574.40 L217.26 575.35 L219.20 577.25 L220.17 580.10 L220.17 582.00 L219.20 584.85 L217.26 586.75 L215.33 587.70 L212.42 587.70 L210.49 586.75 L208.55 584.85 M237.59 577.25 L235.66 575.35 L233.72 574.40 L230.82 574.40 L228.88 575.35 L226.94 577.25 L225.98 580.10 L225.98 582.00 L226.94 584.85 L228.88 586.75 L230.82 587.70 L233.72 587.70 L235.66 586.75 L237.59 584.85 M250.18 563.95 L250.18 594.35 M243.40 563.95 L250.18 563.95 M243.40 594.35 L250.18 594.35"/>
<g transform="translate(35.15 458.0) rotate(-90)"><path class="tk" d="M0.72 -15.12 L6.48 0.00 M12.24 -15.12 L6.48 0.00 M27.36 -18.00 L27.36 5.04 M27.36 -18.00 L32.40 -18.00 M27.36 5.04 L32.40 5.04 M37.44 -15.12 L37.44 0.00 M44.64 -10.08 L37.44 -2.88 M40.32 -5.76 L45.36 0.00 M49.68 -10.08 L49.68 0.00 M49.68 -7.20 L51.84 -9.36 L53.28 -10.08 L55.44 -10.08 L56.88 -9.36 L57.60 -7.20 L57.60 0.00 M57.60 -7.20 L59.76 -9.36 L61.20 -10.08 L63.36 -10.08 L64.80 -9.36 L65.52 -7.20 L65.52 0.00 M90.00 -7.92 L89.28 -9.36 L87.12 -10.08 L84.96 -10.08 L82.80 -9.36 L82.08 -7.92 L82.80 -6.48 L84.24 -5.76 L87.84 -5.04 L89.28 -4.32 L90.00 -2.88 L90.00 -2.16 L89.28 -0.72 L87.12 0.00 L84.96 0.00 L82.80 -0.72 L82.08 -2.16 M93.84 -10.39 L100.84 -10.39 M105.12 -13.84 L105.98 -14.28 L107.28 -15.57 L107.28 -6.50 M118.37 -18.00 L118.37 5.04 M113.33 -18.00 L118.37 -18.00 M113.33 5.04 L118.37 5.04"/></g>
<g transform="translate(41.25 504.9) rotate(-90)"><path class="tk" d="M5.13 -11.97 L0.57 0.00 M5.13 -11.97 L9.69 0.00 M0.57 0.00 L9.69 0.00 M10.83 -11.97 L15.39 0.00 M19.95 -11.97 L15.39 0.00"/></g>
</svg>
</body></html>
